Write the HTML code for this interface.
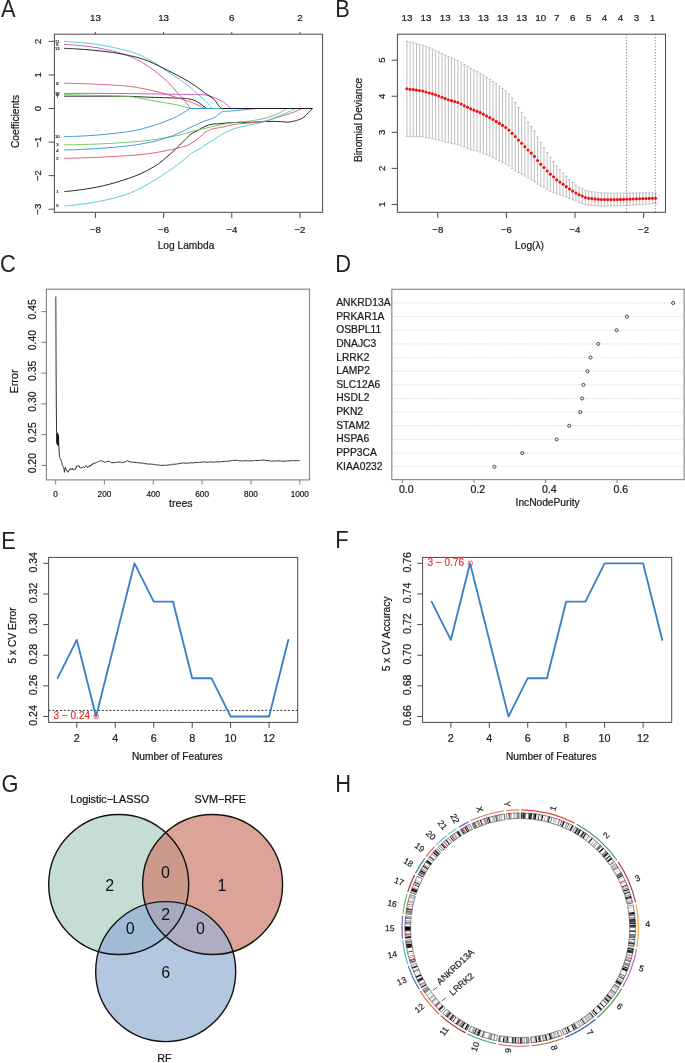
<!DOCTYPE html>
<html><head><meta charset="utf-8"><style>
html,body{margin:0;padding:0;background:#fff;}
svg{display:block;font-family:"Liberation Sans", sans-serif;-webkit-font-smoothing:antialiased;will-change:transform;}
</style></head><body>
<svg width="685" height="1063" viewBox="0 0 685 1063" font-family='"Liberation Sans", sans-serif'>
<rect width="685" height="1063" fill="#fff"/>
<text transform="translate(0.90,16.60) scale(0.93,1)" x="0" y="0" font-size="23.5" fill="#231f20">A</text>
<rect x="54.40" y="34.20" width="268.20" height="178.10" fill="none" stroke="#4a4a4a" stroke-width="1"/>
<line x1="95.40" y1="212.30" x2="95.40" y2="218.10" stroke="#4a4a4a" stroke-width="1"/>
<text x="95.40" y="233.30" font-size="9.6" text-anchor="middle" fill="#1a1a1a" stroke="#1a1a1a" stroke-width="0.22">&#8722;8</text>
<line x1="163.60" y1="212.30" x2="163.60" y2="218.10" stroke="#4a4a4a" stroke-width="1"/>
<text x="163.60" y="233.30" font-size="9.6" text-anchor="middle" fill="#1a1a1a" stroke="#1a1a1a" stroke-width="0.22">&#8722;6</text>
<line x1="231.80" y1="212.30" x2="231.80" y2="218.10" stroke="#4a4a4a" stroke-width="1"/>
<text x="231.80" y="233.30" font-size="9.6" text-anchor="middle" fill="#1a1a1a" stroke="#1a1a1a" stroke-width="0.22">&#8722;4</text>
<line x1="300.00" y1="212.30" x2="300.00" y2="218.10" stroke="#4a4a4a" stroke-width="1"/>
<text x="300.00" y="233.30" font-size="9.6" text-anchor="middle" fill="#1a1a1a" stroke="#1a1a1a" stroke-width="0.22">&#8722;2</text>
<line x1="95.40" y1="34.20" x2="95.40" y2="32.00" stroke="#4a4a4a" stroke-width="1"/>
<text x="95.40" y="21.10" font-size="9.8" text-anchor="middle" fill="#1a1a1a" stroke="#1a1a1a" stroke-width="0.22">13</text>
<line x1="163.60" y1="34.20" x2="163.60" y2="32.00" stroke="#4a4a4a" stroke-width="1"/>
<text x="163.60" y="21.10" font-size="9.8" text-anchor="middle" fill="#1a1a1a" stroke="#1a1a1a" stroke-width="0.22">13</text>
<line x1="231.80" y1="34.20" x2="231.80" y2="32.00" stroke="#4a4a4a" stroke-width="1"/>
<text x="231.80" y="21.10" font-size="9.8" text-anchor="middle" fill="#1a1a1a" stroke="#1a1a1a" stroke-width="0.22">6</text>
<line x1="300.00" y1="34.20" x2="300.00" y2="32.00" stroke="#4a4a4a" stroke-width="1"/>
<text x="300.00" y="21.10" font-size="9.8" text-anchor="middle" fill="#1a1a1a" stroke="#1a1a1a" stroke-width="0.22">2</text>
<line x1="48.60" y1="41.36" x2="54.40" y2="41.36" stroke="#4a4a4a" stroke-width="1"/>
<text x="0.00" y="0.00" font-size="9.6" text-anchor="middle" fill="#1a1a1a" stroke="#1a1a1a" stroke-width="0.22" transform="translate(41.20,41.36) rotate(-90)">2</text>
<line x1="48.60" y1="74.93" x2="54.40" y2="74.93" stroke="#4a4a4a" stroke-width="1"/>
<text x="0.00" y="0.00" font-size="9.6" text-anchor="middle" fill="#1a1a1a" stroke="#1a1a1a" stroke-width="0.22" transform="translate(41.20,74.93) rotate(-90)">1</text>
<line x1="48.60" y1="108.50" x2="54.40" y2="108.50" stroke="#4a4a4a" stroke-width="1"/>
<text x="0.00" y="0.00" font-size="9.6" text-anchor="middle" fill="#1a1a1a" stroke="#1a1a1a" stroke-width="0.22" transform="translate(41.20,108.50) rotate(-90)">0</text>
<line x1="48.60" y1="142.07" x2="54.40" y2="142.07" stroke="#4a4a4a" stroke-width="1"/>
<text x="0.00" y="0.00" font-size="9.6" text-anchor="middle" fill="#1a1a1a" stroke="#1a1a1a" stroke-width="0.22" transform="translate(41.20,142.07) rotate(-90)">&#8722;1</text>
<line x1="48.60" y1="175.64" x2="54.40" y2="175.64" stroke="#4a4a4a" stroke-width="1"/>
<text x="0.00" y="0.00" font-size="9.6" text-anchor="middle" fill="#1a1a1a" stroke="#1a1a1a" stroke-width="0.22" transform="translate(41.20,175.64) rotate(-90)">&#8722;2</text>
<line x1="48.60" y1="209.21" x2="54.40" y2="209.21" stroke="#4a4a4a" stroke-width="1"/>
<text x="0.00" y="0.00" font-size="9.6" text-anchor="middle" fill="#1a1a1a" stroke="#1a1a1a" stroke-width="0.22" transform="translate(41.20,209.21) rotate(-90)">&#8722;3</text>
<text x="0.00" y="0.00" font-size="10.2" text-anchor="middle" fill="#1a1a1a" stroke="#1a1a1a" stroke-width="0.22" transform="translate(19.00,121.50) rotate(-90)">Coefficients</text>
<text x="186.00" y="248.90" font-size="10.2" text-anchor="middle" fill="#1a1a1a" stroke="#1a1a1a" stroke-width="0.22">Log Lambda</text>
<g fill="none" stroke-width="0.9">
<path d="M64.30,191.60 C65.65,191.47 68.98,191.20 72.40,190.80 C75.82,190.40 80.67,189.82 84.80,189.20 C88.93,188.58 93.07,187.93 97.20,187.10 C101.33,186.27 105.47,185.30 109.60,184.20 C113.73,183.10 117.87,181.82 122.00,180.50 C126.13,179.18 130.57,177.78 134.40,176.30 C138.23,174.82 141.15,173.57 145.00,171.60 C148.85,169.63 153.95,166.85 157.50,164.50 C161.05,162.15 163.38,159.98 166.30,157.50 C169.22,155.02 172.08,152.37 175.00,149.60 C177.92,146.83 181.72,142.97 183.80,140.90 C185.88,138.83 186.22,138.42 187.50,137.20 C188.78,135.98 190.03,134.60 191.50,133.60 C192.97,132.60 194.05,132.40 196.30,131.20 C198.55,130.00 202.38,127.57 205.00,126.40 C207.62,125.23 209.80,124.63 212.00,124.20 C214.20,123.77 215.20,124.05 218.20,123.80 C221.20,123.55 226.80,122.93 230.00,122.70 C233.20,122.47 233.00,122.50 237.40,122.40 C241.80,122.30 251.65,122.25 256.40,122.10 C261.15,121.95 262.73,121.62 265.90,121.50 C269.07,121.38 272.23,121.33 275.40,121.40 C278.57,121.47 282.68,121.78 284.90,121.90 C287.12,122.02 286.78,122.33 288.70,122.10 C290.62,121.87 293.87,121.33 296.40,120.50 C298.93,119.67 301.23,119.10 303.90,117.10 C306.57,115.10 310.98,109.93 312.40,108.50 L312.5,108.5" stroke="#111111"/>
<path d="M64.00,158.40 C66.50,158.33 73.33,158.18 79.00,158.00 C84.67,157.82 91.68,157.58 98.00,157.30 C104.32,157.02 112.40,156.55 116.90,156.30 C121.40,156.05 121.15,156.07 125.00,155.80 C128.85,155.53 134.58,155.28 140.00,154.70 C145.42,154.12 151.67,153.28 157.50,152.30 C163.33,151.32 170.62,149.75 175.00,148.80 C179.38,147.85 181.63,147.22 183.80,146.60 C185.97,145.98 186.20,146.00 188.00,145.10 C189.80,144.20 192.60,142.58 194.60,141.20 C196.60,139.82 198.27,138.25 200.00,136.80 C201.73,135.35 203.43,133.63 205.00,132.50 C206.57,131.37 207.93,130.65 209.40,130.00 C210.87,129.35 211.60,129.08 213.80,128.60 C216.00,128.12 219.90,127.65 222.60,127.10 C225.30,126.55 227.53,125.82 230.00,125.30 C232.47,124.78 234.58,124.35 237.40,124.00 C240.22,123.65 243.73,123.50 246.90,123.20 C250.07,122.90 253.23,122.58 256.40,122.20 C259.57,121.82 262.73,121.60 265.90,120.90 C269.07,120.20 272.23,118.95 275.40,118.00 C278.57,117.05 281.73,116.23 284.90,115.20 C288.07,114.17 291.55,112.92 294.40,111.80 C297.25,110.68 300.73,109.05 302.00,108.50 L312.5,108.5" stroke="#DC5468"/>
<path d="M64.00,144.90 C66.50,144.85 73.33,144.75 79.00,144.60 C84.67,144.45 91.68,144.27 98.00,144.00 C104.32,143.73 112.40,143.27 116.90,143.00 C121.40,142.73 121.57,142.65 125.00,142.40 C128.43,142.15 132.50,141.98 137.50,141.50 C142.50,141.02 149.15,140.35 155.00,139.50 C160.85,138.65 168.43,137.17 172.60,136.40 C176.77,135.63 177.52,135.53 180.00,134.90 C182.48,134.27 184.78,133.37 187.50,132.60 C190.22,131.83 193.38,131.00 196.30,130.30 C199.22,129.60 202.08,129.08 205.00,128.40 C207.92,127.72 210.87,126.85 213.80,126.20 C216.73,125.55 219.90,125.02 222.60,124.50 C225.30,123.98 225.95,123.62 230.00,123.10 C234.05,122.58 242.50,121.92 246.90,121.40 C251.30,120.88 253.23,120.57 256.40,120.00 C259.57,119.43 262.73,118.87 265.90,118.00 C269.07,117.13 272.72,115.88 275.40,114.80 C278.08,113.72 280.10,112.55 282.00,111.50 C283.90,110.45 286.00,109.00 286.80,108.50 L312.5,108.5" stroke="#66C456"/>
<path d="M64.00,150.00 C66.50,149.92 73.33,149.75 79.00,149.50 C84.67,149.25 91.68,148.92 98.00,148.50 C104.32,148.08 112.40,147.40 116.90,147.00 C121.40,146.60 121.57,146.50 125.00,146.10 C128.43,145.70 132.50,145.42 137.50,144.60 C142.50,143.78 149.58,142.53 155.00,141.20 C160.42,139.87 166.03,137.93 170.00,136.60 C173.97,135.27 175.88,134.50 178.80,133.20 C181.72,131.90 184.58,130.22 187.50,128.80 C190.42,127.38 193.38,126.02 196.30,124.70 C199.22,123.38 202.08,122.03 205.00,120.90 C207.92,119.77 211.17,119.28 213.80,117.90 C216.43,116.52 219.05,113.70 220.80,112.60 C222.55,111.50 222.77,111.55 224.30,111.30 C225.83,111.05 227.82,111.25 230.00,111.10 C232.18,110.95 234.58,110.67 237.40,110.40 C240.22,110.13 243.73,109.82 246.90,109.50 C250.07,109.18 254.82,108.67 256.40,108.50 L312.5,108.5" stroke="#3190DE"/>
<path d="M64.30,205.90 C65.65,205.80 68.98,205.67 72.40,205.30 C75.82,204.93 80.67,204.28 84.80,203.70 C88.93,203.12 91.75,202.88 97.20,201.80 C102.65,200.72 111.20,199.02 117.50,197.20 C123.80,195.38 129.15,193.53 135.00,190.90 C140.85,188.27 146.77,184.87 152.60,181.40 C158.43,177.93 165.27,173.33 170.00,170.10 C174.73,166.87 178.07,164.25 181.00,162.00 C183.93,159.75 185.85,158.07 187.60,156.60 C189.35,155.13 189.43,154.53 191.50,153.20 C193.57,151.87 197.75,149.97 200.00,148.60 C202.25,147.23 202.70,146.50 205.00,145.00 C207.30,143.50 210.87,141.47 213.80,139.60 C216.73,137.73 219.90,135.33 222.60,133.80 C225.30,132.27 227.53,131.42 230.00,130.40 C232.47,129.38 234.58,128.50 237.40,127.70 C240.22,126.90 243.73,126.27 246.90,125.60 C250.07,124.93 253.23,124.42 256.40,123.70 C259.57,122.98 262.73,122.37 265.90,121.30 C269.07,120.23 272.23,118.58 275.40,117.30 C278.57,116.02 281.73,114.97 284.90,113.60 C288.07,112.23 292.63,109.95 294.40,109.10 C296.17,108.25 295.32,108.60 295.50,108.50 L312.5,108.5" stroke="#45C8D6"/>
<path d="M64.00,44.30 C66.50,44.50 73.33,44.90 79.00,45.50 C84.67,46.10 91.68,46.80 98.00,47.90 C104.32,49.00 111.65,50.67 116.90,52.10 C122.15,53.53 125.82,55.05 129.50,56.50 C133.18,57.95 135.83,59.13 139.00,60.80 C142.17,62.47 145.33,64.37 148.50,66.50 C151.67,68.63 154.85,71.08 158.00,73.60 C161.15,76.12 164.25,78.52 167.40,81.60 C170.55,84.68 174.07,88.95 176.90,92.10 C179.73,95.25 182.13,97.77 184.40,100.50 C186.67,103.23 189.48,107.17 190.50,108.50 L312.5,108.5" stroke="#C24EBA"/>
<path d="M64.00,96.20 C74.17,96.22 110.92,96.13 125.00,96.30 C139.08,96.47 139.85,96.90 148.50,97.20 C157.15,97.50 170.18,97.82 176.90,98.10 C183.62,98.38 185.37,98.27 188.80,98.90 C192.23,99.53 194.58,100.30 197.50,101.90 C200.42,103.50 204.83,107.40 206.30,108.50 L312.5,108.5" stroke="#111111"/>
<path d="M64.00,83.20 C68.08,83.32 79.68,83.55 88.50,83.90 C97.32,84.25 110.07,84.88 116.90,85.30 C123.73,85.72 125.82,85.98 129.50,86.40 C133.18,86.82 135.83,87.25 139.00,87.80 C142.17,88.35 145.33,89.02 148.50,89.70 C151.67,90.38 154.85,91.10 158.00,91.90 C161.15,92.70 164.25,93.55 167.40,94.50 C170.55,95.45 173.33,96.45 176.90,97.60 C180.47,98.75 185.37,100.18 188.80,101.40 C192.23,102.62 194.88,103.72 197.50,104.90 C200.12,106.08 203.33,107.90 204.50,108.50 L312.5,108.5" stroke="#DC5468"/>
<path d="M64.00,94.50 C74.17,94.82 112.50,95.78 125.00,96.40 C137.50,97.02 133.50,97.33 139.00,98.20 C144.50,99.07 151.68,100.48 158.00,101.60 C164.32,102.72 171.48,103.75 176.90,104.90 C182.32,106.05 188.23,107.90 190.50,108.50 L312.5,108.5" stroke="#66C456"/>
<path d="M64.00,136.60 C66.50,136.53 73.33,136.47 79.00,136.20 C84.67,135.93 91.68,135.52 98.00,135.00 C104.32,134.48 112.40,133.58 116.90,133.10 C121.40,132.62 121.57,132.63 125.00,132.10 C128.43,131.57 132.50,131.07 137.50,129.90 C142.50,128.73 149.15,127.00 155.00,125.10 C160.85,123.20 168.63,120.13 172.60,118.50 C176.57,116.87 176.68,116.45 178.80,115.30 C180.92,114.15 183.50,112.73 185.30,111.60 C187.10,110.47 188.88,109.02 189.60,108.50 L312.5,108.5" stroke="#3190DE"/>
<path d="M64.00,41.40 C66.50,41.58 73.33,41.98 79.00,42.50 C84.67,43.02 91.68,43.53 98.00,44.50 C104.32,45.47 111.65,47.17 116.90,48.30 C122.15,49.43 125.82,50.25 129.50,51.30 C133.18,52.35 135.83,53.27 139.00,54.60 C142.17,55.93 145.33,57.57 148.50,59.30 C151.67,61.03 154.85,62.93 158.00,65.00 C161.15,67.07 164.25,69.57 167.40,71.70 C170.55,73.83 173.33,75.40 176.90,77.80 C180.47,80.20 185.37,83.40 188.80,86.10 C192.23,88.80 194.58,91.37 197.50,94.00 C200.42,96.63 203.82,99.48 206.30,101.90 C208.78,104.32 211.38,107.40 212.40,108.50 L312.5,108.5" stroke="#45C8D6"/>
<path d="M64.00,93.40 C73.33,93.42 99.83,93.33 120.00,93.50 C140.17,93.67 172.08,94.22 185.00,94.40 C197.92,94.58 193.95,94.48 197.50,94.60 C201.05,94.72 203.38,94.55 206.30,95.10 C209.22,95.65 212.08,96.70 215.00,97.90 C217.92,99.10 221.17,100.53 223.80,102.30 C226.43,104.07 229.63,107.47 230.80,108.50 L312.5,108.5" stroke="#C24EBA"/>
<path d="M64.00,48.30 C66.50,48.43 73.33,48.70 79.00,49.10 C84.67,49.50 91.68,50.03 98.00,50.70 C104.32,51.37 111.65,52.28 116.90,53.10 C122.15,53.92 125.82,54.80 129.50,55.60 C133.18,56.40 135.83,56.97 139.00,57.90 C142.17,58.83 145.33,59.93 148.50,61.20 C151.67,62.47 154.85,63.98 158.00,65.50 C161.15,67.02 164.25,68.72 167.40,70.30 C170.55,71.88 173.33,73.10 176.90,75.00 C180.47,76.90 185.37,79.63 188.80,81.70 C192.23,83.77 194.58,85.35 197.50,87.40 C200.42,89.45 204.05,92.40 206.30,94.00 C208.55,95.60 209.55,95.92 211.00,97.00 C212.45,98.08 213.60,98.88 215.00,100.50 C216.40,102.12 218.23,105.37 219.40,106.70 C220.57,108.03 221.57,108.20 222.00,108.50 L312.5,108.5" stroke="#111111"/>
</g>
<text x="57.30" y="42.90" font-size="4.2" text-anchor="middle" fill="#333" stroke="#333" stroke-width="0.22">11</text>
<text x="57.30" y="45.80" font-size="4.2" text-anchor="middle" fill="#333" stroke="#333" stroke-width="0.22">6</text>
<text x="57.30" y="49.80" font-size="4.2" text-anchor="middle" fill="#333" stroke="#333" stroke-width="0.22">13</text>
<text x="57.30" y="84.70" font-size="4.2" text-anchor="middle" fill="#333" stroke="#333" stroke-width="0.22">8</text>
<text x="57.30" y="94.90" font-size="4.2" text-anchor="middle" fill="#333" stroke="#333" stroke-width="0.22">12</text>
<text x="57.30" y="96.00" font-size="4.2" text-anchor="middle" fill="#333" stroke="#333" stroke-width="0.22">9</text>
<text x="57.30" y="97.70" font-size="4.2" text-anchor="middle" fill="#333" stroke="#333" stroke-width="0.22">7</text>
<text x="57.30" y="138.10" font-size="4.2" text-anchor="middle" fill="#333" stroke="#333" stroke-width="0.22">10</text>
<text x="57.30" y="146.40" font-size="4.2" text-anchor="middle" fill="#333" stroke="#333" stroke-width="0.22">3</text>
<text x="57.30" y="151.50" font-size="4.2" text-anchor="middle" fill="#333" stroke="#333" stroke-width="0.22">4</text>
<text x="57.30" y="159.90" font-size="4.2" text-anchor="middle" fill="#333" stroke="#333" stroke-width="0.22">2</text>
<text x="57.30" y="193.10" font-size="4.2" text-anchor="middle" fill="#333" stroke="#333" stroke-width="0.22">1</text>
<text x="57.30" y="207.40" font-size="4.2" text-anchor="middle" fill="#333" stroke="#333" stroke-width="0.22">5</text>
<text transform="translate(335.30,16.90) scale(0.93,1)" x="0" y="0" font-size="23.5" fill="#231f20">B</text>
<g stroke="#b8b8b8" stroke-width="0.9" fill="none">
<path d="M406.90,41.30V136.30M405.60,41.30h2.6M405.60,136.30h2.6"/>
<path d="M410.09,42.12V136.44M408.79,42.12h2.6M408.79,136.44h2.6"/>
<path d="M413.28,42.77V136.41M411.98,42.77h2.6M411.98,136.41h2.6"/>
<path d="M416.46,43.66V136.62M415.16,43.66h2.6M415.16,136.62h2.6"/>
<path d="M419.65,44.42V136.71M418.35,44.42h2.6M418.35,136.71h2.6"/>
<path d="M422.84,45.25V136.86M421.54,45.25h2.6M421.54,136.86h2.6"/>
<path d="M426.03,46.48V137.42M424.73,46.48h2.6M424.73,137.42h2.6"/>
<path d="M429.22,47.81V138.07M427.92,47.81h2.6M427.92,138.07h2.6"/>
<path d="M432.40,49.06V138.63M431.10,49.06h2.6M431.10,138.63h2.6"/>
<path d="M435.59,50.42V139.31M434.29,50.42h2.6M434.29,139.31h2.6"/>
<path d="M438.78,51.92V140.12M437.48,51.92h2.6M437.48,140.12h2.6"/>
<path d="M441.97,53.54V141.05M440.67,53.54h2.6M440.67,141.05h2.6"/>
<path d="M445.16,55.17V141.99M443.86,55.17h2.6M443.86,141.99h2.6"/>
<path d="M448.34,56.62V142.75M447.04,56.62h2.6M447.04,142.75h2.6"/>
<path d="M451.53,57.91V143.35M450.23,57.91h2.6M450.23,143.35h2.6"/>
<path d="M454.72,59.19V143.95M453.42,59.19h2.6M453.42,143.95h2.6"/>
<path d="M457.91,60.48V144.55M456.61,60.48h2.6M456.61,144.55h2.6"/>
<path d="M461.10,62.41V145.73M459.80,62.41h2.6M459.80,145.73h2.6"/>
<path d="M464.28,64.41V146.98M462.98,64.41h2.6M462.98,146.98h2.6"/>
<path d="M467.47,66.40V148.23M466.17,66.40h2.6M466.17,148.23h2.6"/>
<path d="M470.66,68.32V149.40M469.36,68.32h2.6M469.36,149.40h2.6"/>
<path d="M473.85,69.95V150.29M472.55,69.95h2.6M472.55,150.29h2.6"/>
<path d="M477.04,71.58V151.17M475.74,71.58h2.6M475.74,151.17h2.6"/>
<path d="M480.22,73.21V152.05M478.92,73.21h2.6M478.92,152.05h2.6"/>
<path d="M483.41,75.16V153.26M482.11,75.16h2.6M482.11,153.26h2.6"/>
<path d="M486.60,77.27V154.62M485.30,77.27h2.6M485.30,154.62h2.6"/>
<path d="M489.79,79.30V155.98M488.49,79.30h2.6M488.49,155.98h2.6"/>
<path d="M492.98,81.47V157.47M491.68,81.47h2.6M491.68,157.47h2.6"/>
<path d="M496.16,83.76V159.07M494.86,83.76h2.6M494.86,159.07h2.6"/>
<path d="M499.35,86.09V160.72M498.05,86.09h2.6M498.05,160.72h2.6"/>
<path d="M502.54,88.42V162.38M501.24,88.42h2.6M501.24,162.38h2.6"/>
<path d="M505.73,90.92V164.19M504.43,90.92h2.6M504.43,164.19h2.6"/>
<path d="M508.92,93.89V165.98M507.62,93.89h2.6M507.62,165.98h2.6"/>
<path d="M512.10,97.91V168.48M510.80,97.91h2.6M510.80,168.48h2.6"/>
<path d="M515.29,102.53V170.63M513.99,102.53h2.6M513.99,170.63h2.6"/>
<path d="M518.48,107.44V172.50M517.18,107.44h2.6M517.18,172.50h2.6"/>
<path d="M521.67,112.31V174.22M520.37,112.31h2.6M520.37,174.22h2.6"/>
<path d="M524.86,117.32V175.99M523.56,117.32h2.6M523.56,175.99h2.6"/>
<path d="M528.04,122.01V177.87M526.74,122.01h2.6M526.74,177.87h2.6"/>
<path d="M531.23,126.45V179.81M529.93,126.45h2.6M529.93,179.81h2.6"/>
<path d="M534.42,131.20V181.63M533.12,131.20h2.6M533.12,181.63h2.6"/>
<path d="M537.61,136.91V184.05M536.31,136.91h2.6M536.31,184.05h2.6"/>
<path d="M540.80,142.49V186.06M539.50,142.49h2.6M539.50,186.06h2.6"/>
<path d="M543.98,147.57V187.40M542.68,147.57h2.6M542.68,187.40h2.6"/>
<path d="M547.17,152.62V189.30M545.87,152.62h2.6M545.87,189.30h2.6"/>
<path d="M550.36,157.22V191.10M549.06,157.22h2.6M549.06,191.10h2.6"/>
<path d="M553.55,161.45V192.30M552.25,161.45h2.6M552.25,192.30h2.6"/>
<path d="M556.74,166.01V193.67M555.44,166.01h2.6M555.44,193.67h2.6"/>
<path d="M559.92,169.53V194.65M558.62,169.53h2.6M558.62,194.65h2.6"/>
<path d="M563.11,172.86V195.76M561.81,172.86h2.6M561.81,195.76h2.6"/>
<path d="M566.30,176.34V197.01M565.00,176.34h2.6M565.00,197.01h2.6"/>
<path d="M569.49,179.50V198.49M568.19,179.50h2.6M568.19,198.49h2.6"/>
<path d="M572.68,182.44V199.76M571.38,182.44h2.6M571.38,199.76h2.6"/>
<path d="M575.86,185.06V200.82M574.56,185.06h2.6M574.56,200.82h2.6"/>
<path d="M579.05,187.10V202.42M577.75,187.10h2.6M577.75,202.42h2.6"/>
<path d="M582.24,188.59V203.45M580.94,188.59h2.6M580.94,203.45h2.6"/>
<path d="M585.43,190.34V204.75M584.13,190.34h2.6M584.13,204.75h2.6"/>
<path d="M588.62,191.22V205.21M587.32,191.22h2.6M587.32,205.21h2.6"/>
<path d="M591.80,191.68V205.52M590.50,191.68h2.6M590.50,205.52h2.6"/>
<path d="M594.99,192.06V205.75M593.69,192.06h2.6M593.69,205.75h2.6"/>
<path d="M598.18,192.44V205.98M596.88,192.44h2.6M596.88,205.98h2.6"/>
<path d="M601.37,192.81V206.20M600.07,192.81h2.6M600.07,206.20h2.6"/>
<path d="M604.56,192.98V206.22M603.26,192.98h2.6M603.26,206.22h2.6"/>
<path d="M607.74,193.05V206.15M606.44,193.05h2.6M606.44,206.15h2.6"/>
<path d="M610.93,193.13V206.07M609.63,193.13h2.6M609.63,206.07h2.6"/>
<path d="M614.12,193.20V205.99M612.82,193.20h2.6M612.82,205.99h2.6"/>
<path d="M617.31,193.17V205.85M616.01,193.17h2.6M616.01,205.85h2.6"/>
<path d="M620.50,193.15V205.70M619.20,193.15h2.6M619.20,205.70h2.6"/>
<path d="M623.68,193.12V205.55M622.38,193.12h2.6M622.38,205.55h2.6"/>
<path d="M626.87,193.07V205.38M625.57,193.07h2.6M625.57,205.38h2.6"/>
<path d="M630.06,193.00V205.19M628.76,193.00h2.6M628.76,205.19h2.6"/>
<path d="M633.25,192.94V205.00M631.95,192.94h2.6M631.95,205.00h2.6"/>
<path d="M636.44,192.89V204.79M635.14,192.89h2.6M635.14,204.79h2.6"/>
<path d="M639.62,192.87V204.56M638.32,192.87h2.6M638.32,204.56h2.6"/>
<path d="M642.81,192.85V204.32M641.51,192.85h2.6M641.51,204.32h2.6"/>
<path d="M646.00,192.85V204.10M644.70,192.85h2.6M644.70,204.10h2.6"/>
<path d="M649.19,192.86V203.90M647.89,192.86h2.6M647.89,203.90h2.6"/>
<path d="M652.38,192.88V203.70M651.08,192.88h2.6M651.08,203.70h2.6"/>
<path d="M655.56,192.90V203.50M654.26,192.90h2.6M654.26,203.50h2.6"/>
</g>
<g fill="#f01010">
<circle cx="406.90" cy="88.80" r="1.55"/>
<circle cx="410.09" cy="89.28" r="1.55"/>
<circle cx="413.28" cy="89.59" r="1.55"/>
<circle cx="416.46" cy="90.14" r="1.55"/>
<circle cx="419.65" cy="90.57" r="1.55"/>
<circle cx="422.84" cy="91.06" r="1.55"/>
<circle cx="426.03" cy="91.95" r="1.55"/>
<circle cx="429.22" cy="92.94" r="1.55"/>
<circle cx="432.40" cy="93.84" r="1.55"/>
<circle cx="435.59" cy="94.87" r="1.55"/>
<circle cx="438.78" cy="96.02" r="1.55"/>
<circle cx="441.97" cy="97.29" r="1.55"/>
<circle cx="445.16" cy="98.58" r="1.55"/>
<circle cx="448.34" cy="99.69" r="1.55"/>
<circle cx="451.53" cy="100.63" r="1.55"/>
<circle cx="454.72" cy="101.57" r="1.55"/>
<circle cx="457.91" cy="102.51" r="1.55"/>
<circle cx="461.10" cy="104.07" r="1.55"/>
<circle cx="464.28" cy="105.69" r="1.55"/>
<circle cx="467.47" cy="107.31" r="1.55"/>
<circle cx="470.66" cy="108.86" r="1.55"/>
<circle cx="473.85" cy="110.12" r="1.55"/>
<circle cx="477.04" cy="111.37" r="1.55"/>
<circle cx="480.22" cy="112.63" r="1.55"/>
<circle cx="483.41" cy="114.21" r="1.55"/>
<circle cx="486.60" cy="115.95" r="1.55"/>
<circle cx="489.79" cy="117.64" r="1.55"/>
<circle cx="492.98" cy="119.47" r="1.55"/>
<circle cx="496.16" cy="121.42" r="1.55"/>
<circle cx="499.35" cy="123.41" r="1.55"/>
<circle cx="502.54" cy="125.40" r="1.55"/>
<circle cx="505.73" cy="127.55" r="1.55"/>
<circle cx="508.92" cy="129.94" r="1.55"/>
<circle cx="512.10" cy="133.20" r="1.55"/>
<circle cx="515.29" cy="136.58" r="1.55"/>
<circle cx="518.48" cy="139.97" r="1.55"/>
<circle cx="521.67" cy="143.26" r="1.55"/>
<circle cx="524.86" cy="146.65" r="1.55"/>
<circle cx="528.04" cy="149.94" r="1.55"/>
<circle cx="531.23" cy="153.13" r="1.55"/>
<circle cx="534.42" cy="156.41" r="1.55"/>
<circle cx="537.61" cy="160.48" r="1.55"/>
<circle cx="540.80" cy="164.28" r="1.55"/>
<circle cx="543.98" cy="167.48" r="1.55"/>
<circle cx="547.17" cy="170.96" r="1.55"/>
<circle cx="550.36" cy="174.16" r="1.55"/>
<circle cx="553.55" cy="176.87" r="1.55"/>
<circle cx="556.74" cy="179.84" r="1.55"/>
<circle cx="559.92" cy="182.09" r="1.55"/>
<circle cx="563.11" cy="184.31" r="1.55"/>
<circle cx="566.30" cy="186.67" r="1.55"/>
<circle cx="569.49" cy="188.99" r="1.55"/>
<circle cx="572.68" cy="191.10" r="1.55"/>
<circle cx="575.86" cy="192.94" r="1.55"/>
<circle cx="579.05" cy="194.76" r="1.55"/>
<circle cx="582.24" cy="196.02" r="1.55"/>
<circle cx="585.43" cy="197.55" r="1.55"/>
<circle cx="588.62" cy="198.21" r="1.55"/>
<circle cx="591.80" cy="198.60" r="1.55"/>
<circle cx="594.99" cy="198.91" r="1.55"/>
<circle cx="598.18" cy="199.21" r="1.55"/>
<circle cx="601.37" cy="199.51" r="1.55"/>
<circle cx="604.56" cy="199.60" r="1.55"/>
<circle cx="607.74" cy="199.60" r="1.55"/>
<circle cx="610.93" cy="199.60" r="1.55"/>
<circle cx="614.12" cy="199.60" r="1.55"/>
<circle cx="617.31" cy="199.51" r="1.55"/>
<circle cx="620.50" cy="199.42" r="1.55"/>
<circle cx="623.68" cy="199.34" r="1.55"/>
<circle cx="626.87" cy="199.23" r="1.55"/>
<circle cx="630.06" cy="199.10" r="1.55"/>
<circle cx="633.25" cy="198.97" r="1.55"/>
<circle cx="636.44" cy="198.84" r="1.55"/>
<circle cx="639.62" cy="198.72" r="1.55"/>
<circle cx="642.81" cy="198.59" r="1.55"/>
<circle cx="646.00" cy="198.47" r="1.55"/>
<circle cx="649.19" cy="198.38" r="1.55"/>
<circle cx="652.38" cy="198.29" r="1.55"/>
<circle cx="655.56" cy="198.20" r="1.55"/>
</g>
<line x1="626.60" y1="34.20" x2="626.60" y2="212.30" stroke="#444" stroke-width="0.8" stroke-dasharray="1,2"/>
<line x1="655.30" y1="34.20" x2="655.30" y2="212.30" stroke="#444" stroke-width="0.8" stroke-dasharray="1,2"/>
<rect x="397.40" y="34.20" width="268.10" height="178.10" fill="none" stroke="#4a4a4a" stroke-width="1"/>
<line x1="437.80" y1="212.30" x2="437.80" y2="218.10" stroke="#4a4a4a" stroke-width="1"/>
<text x="437.80" y="233.30" font-size="9.6" text-anchor="middle" fill="#1a1a1a" stroke="#1a1a1a" stroke-width="0.22">&#8722;8</text>
<line x1="506.40" y1="212.30" x2="506.40" y2="218.10" stroke="#4a4a4a" stroke-width="1"/>
<text x="506.40" y="233.30" font-size="9.6" text-anchor="middle" fill="#1a1a1a" stroke="#1a1a1a" stroke-width="0.22">&#8722;6</text>
<line x1="575.00" y1="212.30" x2="575.00" y2="218.10" stroke="#4a4a4a" stroke-width="1"/>
<text x="575.00" y="233.30" font-size="9.6" text-anchor="middle" fill="#1a1a1a" stroke="#1a1a1a" stroke-width="0.22">&#8722;4</text>
<line x1="643.60" y1="212.30" x2="643.60" y2="218.10" stroke="#4a4a4a" stroke-width="1"/>
<text x="643.60" y="233.30" font-size="9.6" text-anchor="middle" fill="#1a1a1a" stroke="#1a1a1a" stroke-width="0.22">&#8722;2</text>
<line x1="391.60" y1="204.40" x2="397.40" y2="204.40" stroke="#4a4a4a" stroke-width="1"/>
<text x="0.00" y="0.00" font-size="9.6" text-anchor="middle" fill="#1a1a1a" stroke="#1a1a1a" stroke-width="0.22" transform="translate(384.60,204.40) rotate(-90)">1</text>
<line x1="391.60" y1="168.35" x2="397.40" y2="168.35" stroke="#4a4a4a" stroke-width="1"/>
<text x="0.00" y="0.00" font-size="9.6" text-anchor="middle" fill="#1a1a1a" stroke="#1a1a1a" stroke-width="0.22" transform="translate(384.60,168.35) rotate(-90)">2</text>
<line x1="391.60" y1="132.30" x2="397.40" y2="132.30" stroke="#4a4a4a" stroke-width="1"/>
<text x="0.00" y="0.00" font-size="9.6" text-anchor="middle" fill="#1a1a1a" stroke="#1a1a1a" stroke-width="0.22" transform="translate(384.60,132.30) rotate(-90)">3</text>
<line x1="391.60" y1="96.25" x2="397.40" y2="96.25" stroke="#4a4a4a" stroke-width="1"/>
<text x="0.00" y="0.00" font-size="9.6" text-anchor="middle" fill="#1a1a1a" stroke="#1a1a1a" stroke-width="0.22" transform="translate(384.60,96.25) rotate(-90)">4</text>
<line x1="391.60" y1="60.20" x2="397.40" y2="60.20" stroke="#4a4a4a" stroke-width="1"/>
<text x="0.00" y="0.00" font-size="9.6" text-anchor="middle" fill="#1a1a1a" stroke="#1a1a1a" stroke-width="0.22" transform="translate(384.60,60.20) rotate(-90)">5</text>
<text x="406.90" y="21.10" font-size="9.8" text-anchor="middle" fill="#1a1a1a" stroke="#1a1a1a" stroke-width="0.22">13</text>
<text x="426.03" y="21.10" font-size="9.8" text-anchor="middle" fill="#1a1a1a" stroke="#1a1a1a" stroke-width="0.22">13</text>
<text x="445.16" y="21.10" font-size="9.8" text-anchor="middle" fill="#1a1a1a" stroke="#1a1a1a" stroke-width="0.22">13</text>
<text x="464.28" y="21.10" font-size="9.8" text-anchor="middle" fill="#1a1a1a" stroke="#1a1a1a" stroke-width="0.22">13</text>
<text x="483.41" y="21.10" font-size="9.8" text-anchor="middle" fill="#1a1a1a" stroke="#1a1a1a" stroke-width="0.22">13</text>
<text x="502.54" y="21.10" font-size="9.8" text-anchor="middle" fill="#1a1a1a" stroke="#1a1a1a" stroke-width="0.22">13</text>
<text x="521.67" y="21.10" font-size="9.8" text-anchor="middle" fill="#1a1a1a" stroke="#1a1a1a" stroke-width="0.22">13</text>
<text x="540.80" y="21.10" font-size="9.8" text-anchor="middle" fill="#1a1a1a" stroke="#1a1a1a" stroke-width="0.22">10</text>
<text x="556.74" y="21.10" font-size="9.8" text-anchor="middle" fill="#1a1a1a" stroke="#1a1a1a" stroke-width="0.22">7</text>
<text x="572.68" y="21.10" font-size="9.8" text-anchor="middle" fill="#1a1a1a" stroke="#1a1a1a" stroke-width="0.22">6</text>
<text x="588.62" y="21.10" font-size="9.8" text-anchor="middle" fill="#1a1a1a" stroke="#1a1a1a" stroke-width="0.22">5</text>
<text x="604.56" y="21.10" font-size="9.8" text-anchor="middle" fill="#1a1a1a" stroke="#1a1a1a" stroke-width="0.22">4</text>
<text x="620.50" y="21.10" font-size="9.8" text-anchor="middle" fill="#1a1a1a" stroke="#1a1a1a" stroke-width="0.22">4</text>
<text x="636.44" y="21.10" font-size="9.8" text-anchor="middle" fill="#1a1a1a" stroke="#1a1a1a" stroke-width="0.22">3</text>
<text x="652.38" y="21.10" font-size="9.8" text-anchor="middle" fill="#1a1a1a" stroke="#1a1a1a" stroke-width="0.22">1</text>
<text x="0.00" y="0.00" font-size="10.2" text-anchor="middle" fill="#1a1a1a" stroke="#1a1a1a" stroke-width="0.22" transform="translate(361.60,119.90) rotate(-90)">Binomial Deviance</text>
<text x="529.50" y="248.90" font-size="10.2" text-anchor="middle" fill="#1a1a1a" stroke="#1a1a1a" stroke-width="0.22">Log(&#955;)</text>
<text transform="translate(0.00,271.90) scale(0.93,1)" x="0" y="0" font-size="23.5" fill="#231f20">C</text>
<rect x="46.40" y="289.20" width="263.10" height="190.70" fill="none" stroke="#8c8c8c" stroke-width="1.2"/>
<line x1="55.60" y1="479.90" x2="55.60" y2="484.60" stroke="#8c8c8c" stroke-width="1.1"/>
<text x="55.60" y="497.20" font-size="8.2" text-anchor="middle" fill="#1a1a1a" stroke="#1a1a1a" stroke-width="0.22">0</text>
<line x1="104.44" y1="479.90" x2="104.44" y2="484.60" stroke="#8c8c8c" stroke-width="1.1"/>
<text x="104.44" y="497.20" font-size="8.2" text-anchor="middle" fill="#1a1a1a" stroke="#1a1a1a" stroke-width="0.22">200</text>
<line x1="153.28" y1="479.90" x2="153.28" y2="484.60" stroke="#8c8c8c" stroke-width="1.1"/>
<text x="153.28" y="497.20" font-size="8.2" text-anchor="middle" fill="#1a1a1a" stroke="#1a1a1a" stroke-width="0.22">400</text>
<line x1="202.12" y1="479.90" x2="202.12" y2="484.60" stroke="#8c8c8c" stroke-width="1.1"/>
<text x="202.12" y="497.20" font-size="8.2" text-anchor="middle" fill="#1a1a1a" stroke="#1a1a1a" stroke-width="0.22">600</text>
<line x1="250.96" y1="479.90" x2="250.96" y2="484.60" stroke="#8c8c8c" stroke-width="1.1"/>
<text x="250.96" y="497.20" font-size="8.2" text-anchor="middle" fill="#1a1a1a" stroke="#1a1a1a" stroke-width="0.22">800</text>
<line x1="299.80" y1="479.90" x2="299.80" y2="484.60" stroke="#8c8c8c" stroke-width="1.1"/>
<text x="299.80" y="497.20" font-size="8.2" text-anchor="middle" fill="#1a1a1a" stroke="#1a1a1a" stroke-width="0.22">1000</text>
<line x1="41.20" y1="465.40" x2="46.40" y2="465.40" stroke="#8c8c8c" stroke-width="1.1"/>
<text x="0.00" y="0.00" font-size="10.4" text-anchor="middle" fill="#1a1a1a" stroke="#1a1a1a" stroke-width="0.22" transform="translate(35.60,463.20) rotate(-90)">0.20</text>
<line x1="41.20" y1="434.64" x2="46.40" y2="434.64" stroke="#8c8c8c" stroke-width="1.1"/>
<text x="0.00" y="0.00" font-size="10.4" text-anchor="middle" fill="#1a1a1a" stroke="#1a1a1a" stroke-width="0.22" transform="translate(35.60,432.44) rotate(-90)">0.25</text>
<line x1="41.20" y1="403.88" x2="46.40" y2="403.88" stroke="#8c8c8c" stroke-width="1.1"/>
<text x="0.00" y="0.00" font-size="10.4" text-anchor="middle" fill="#1a1a1a" stroke="#1a1a1a" stroke-width="0.22" transform="translate(35.60,401.68) rotate(-90)">0.30</text>
<line x1="41.20" y1="373.12" x2="46.40" y2="373.12" stroke="#8c8c8c" stroke-width="1.1"/>
<text x="0.00" y="0.00" font-size="10.4" text-anchor="middle" fill="#1a1a1a" stroke="#1a1a1a" stroke-width="0.22" transform="translate(35.60,370.92) rotate(-90)">0.35</text>
<line x1="41.20" y1="342.36" x2="46.40" y2="342.36" stroke="#8c8c8c" stroke-width="1.1"/>
<text x="0.00" y="0.00" font-size="10.4" text-anchor="middle" fill="#1a1a1a" stroke="#1a1a1a" stroke-width="0.22" transform="translate(35.60,340.16) rotate(-90)">0.40</text>
<line x1="41.20" y1="311.60" x2="46.40" y2="311.60" stroke="#8c8c8c" stroke-width="1.1"/>
<text x="0.00" y="0.00" font-size="10.4" text-anchor="middle" fill="#1a1a1a" stroke="#1a1a1a" stroke-width="0.22" transform="translate(35.60,309.40) rotate(-90)">0.45</text>
<text x="0.00" y="0.00" font-size="10.8" text-anchor="middle" fill="#1a1a1a" stroke="#1a1a1a" stroke-width="0.22" transform="translate(18.00,381.50) rotate(-90)">Error</text>
<text x="180.80" y="506.60" font-size="10.6" text-anchor="middle" fill="#1a1a1a" stroke="#1a1a1a" stroke-width="0.22">trees</text>
<path d="M55.84,296.40 L56.09,366.97 L56.33,410.03 L56.58,432.43 L56.82,443.25 L57.07,433.41 L57.31,444.48 L57.55,432.79 L57.80,445.10 L58.04,434.02 L58.29,445.71 L58.53,435.87 L58.77,445.53 L59.02,449.40 L59.26,453.16 L59.51,456.91 L59.75,457.34 L60.00,457.77 L60.24,458.20 L60.48,458.63 L60.73,459.29 L60.97,459.96 L61.22,460.62 L61.46,461.28 L61.70,462.45 L61.95,463.62 L62.19,464.78 L62.44,465.19 L62.68,465.61 L62.93,466.02 L63.17,466.58 L63.41,467.15 L63.66,467.72 L63.90,468.29 L64.15,470.29 L64.39,472.29 L64.64,471.00 L64.88,469.71 L65.12,468.57 L65.37,467.43 L65.86,468.75 L66.34,470.06 L66.83,470.22 L67.32,471.81 L67.81,471.87 L68.30,471.92 L68.79,471.23 L69.28,469.42 L69.76,468.97 L70.25,468.76 L70.74,469.66 L71.23,469.67 L71.72,468.88 L72.21,467.99 L72.69,469.56 L73.18,469.95 L73.67,469.89 L74.16,469.17 L74.65,469.47 L75.14,469.49 L75.62,467.95 L76.11,468.20 L76.60,465.87 L77.09,465.59 L77.58,465.93 L78.07,466.09 L78.55,465.93 L79.04,465.56 L79.53,467.15 L80.02,467.20 L80.51,467.76 L81.00,468.27 L81.49,467.59 L81.97,467.89 L82.46,467.65 L82.95,467.19 L83.44,466.55 L83.93,467.29 L84.42,467.83 L84.90,466.81 L85.39,466.39 L85.88,466.00 L86.37,465.77 L86.86,466.40 L87.35,467.56 L87.83,467.20 L88.32,467.02 L88.81,466.26 L89.30,466.23 L89.79,466.64 L90.28,465.37 L90.76,466.17 L91.25,465.26 L91.74,464.29 L92.23,464.71 L92.72,463.74 L93.21,464.14 L93.70,463.13 L94.18,462.92 L94.67,463.20 L95.16,462.98 L95.65,463.09 L96.14,462.64 L96.63,462.43 L97.11,462.18 L97.60,461.99 L98.09,461.54 L98.58,461.34 L99.07,461.43 L99.56,461.19 L100.04,461.34 L100.53,460.88 L101.02,460.91 L101.51,460.89 L102.00,461.13 L102.49,461.54 L102.97,461.64 L103.46,461.64 L103.95,462.09 L104.44,462.01 L105.66,462.15 L106.88,461.64 L108.10,461.13 L109.32,461.34 L110.55,462.21 L111.77,462.72 L112.99,462.77 L114.21,462.36 L115.43,462.57 L116.65,462.22 L117.87,461.99 L119.09,462.06 L120.31,462.33 L121.53,462.54 L122.75,462.67 L123.98,462.16 L125.20,461.76 L126.42,461.07 L127.64,460.75 L128.86,461.47 L130.08,461.78 L131.30,462.08 L132.52,462.23 L133.74,462.22 L134.97,462.27 L136.19,462.54 L137.41,462.79 L138.63,462.77 L139.85,462.97 L141.07,463.06 L142.29,463.05 L143.51,463.36 L144.73,463.63 L145.95,463.71 L147.18,463.80 L148.40,464.23 L149.62,463.93 L150.84,464.10 L152.06,464.18 L153.28,464.33 L154.50,464.63 L155.72,464.73 L156.94,464.98 L158.16,464.82 L159.38,465.21 L160.61,465.31 L161.83,465.34 L163.05,465.42 L164.27,465.23 L165.49,465.27 L166.71,465.19 L167.93,465.02 L169.15,464.94 L170.37,464.71 L171.59,464.77 L172.82,464.23 L174.04,464.19 L175.26,464.26 L176.48,464.05 L177.70,463.84 L178.92,463.67 L180.14,463.63 L181.36,463.11 L182.58,462.92 L183.81,463.14 L185.03,463.08 L186.25,463.23 L187.47,463.17 L188.69,463.01 L189.91,463.00 L191.13,462.67 L192.35,462.94 L193.57,462.93 L194.79,462.39 L196.01,462.53 L197.24,462.64 L198.46,462.36 L199.68,462.54 L200.90,462.22 L202.12,461.96 L203.34,462.00 L204.56,462.06 L205.78,462.26 L207.00,462.19 L208.22,462.27 L209.45,461.96 L210.67,462.06 L211.89,461.92 L213.11,462.13 L214.33,462.16 L215.55,461.86 L216.77,461.78 L217.99,461.84 L219.21,461.87 L220.44,461.76 L221.66,461.62 L222.88,461.71 L224.10,461.39 L225.32,461.36 L226.54,461.41 L227.76,461.30 L228.98,461.06 L230.20,460.96 L231.42,460.63 L232.64,460.39 L233.87,460.53 L235.09,460.30 L236.31,460.31 L237.53,460.37 L238.75,460.70 L239.97,460.81 L241.19,460.85 L242.41,460.91 L243.63,460.94 L244.85,460.78 L246.08,460.68 L247.30,460.75 L248.52,460.97 L249.74,460.84 L250.96,460.70 L252.18,460.99 L253.40,460.64 L254.62,460.45 L255.84,460.45 L257.06,460.39 L258.29,460.46 L259.51,460.54 L260.73,460.18 L261.95,460.33 L263.17,460.04 L264.39,460.05 L265.61,460.46 L266.83,460.59 L268.05,460.46 L269.28,460.70 L270.50,461.11 L271.72,461.16 L272.94,461.16 L274.16,460.80 L275.38,460.86 L276.60,461.19 L277.82,460.87 L279.04,460.80 L280.26,460.97 L281.49,461.13 L282.71,461.05 L283.93,461.26 L285.15,461.33 L286.37,460.82 L287.59,460.92 L288.81,460.92 L290.03,460.66 L291.25,460.85 L292.47,460.57 L293.69,460.54 L294.92,460.78 L296.14,460.71 L297.36,460.63 L298.58,460.63 L299.80,460.56" fill="none" stroke="#1a1a1a" stroke-width="0.9"/>
<text transform="translate(335.30,271.90) scale(0.93,1)" x="0" y="0" font-size="23.5" fill="#231f20">D</text>
<line x1="391.80" y1="303.00" x2="684.20" y2="303.00" stroke="#c8c8c8" stroke-width="0.8" stroke-dasharray="1,1.5"/>
<text x="336.20" y="306.00" font-size="10.3" text-anchor="start" fill="#1a1a1a" stroke="#1a1a1a" stroke-width="0.22">ANKRD13A</text>
<circle cx="673.10" cy="303.00" r="1.55" fill="none" stroke="#222" stroke-width="0.8"/>
<line x1="391.80" y1="316.64" x2="684.20" y2="316.64" stroke="#c8c8c8" stroke-width="0.8" stroke-dasharray="1,1.5"/>
<text x="336.20" y="319.64" font-size="10.3" text-anchor="start" fill="#1a1a1a" stroke="#1a1a1a" stroke-width="0.22">PRKAR1A</text>
<circle cx="626.90" cy="316.64" r="1.55" fill="none" stroke="#222" stroke-width="0.8"/>
<line x1="391.80" y1="330.28" x2="684.20" y2="330.28" stroke="#c8c8c8" stroke-width="0.8" stroke-dasharray="1,1.5"/>
<text x="336.20" y="333.28" font-size="10.3" text-anchor="start" fill="#1a1a1a" stroke="#1a1a1a" stroke-width="0.22">OSBPL11</text>
<circle cx="616.70" cy="330.28" r="1.55" fill="none" stroke="#222" stroke-width="0.8"/>
<line x1="391.80" y1="343.92" x2="684.20" y2="343.92" stroke="#c8c8c8" stroke-width="0.8" stroke-dasharray="1,1.5"/>
<text x="336.20" y="346.92" font-size="10.3" text-anchor="start" fill="#1a1a1a" stroke="#1a1a1a" stroke-width="0.22">DNAJC3</text>
<circle cx="598.30" cy="343.92" r="1.55" fill="none" stroke="#222" stroke-width="0.8"/>
<line x1="391.80" y1="357.56" x2="684.20" y2="357.56" stroke="#c8c8c8" stroke-width="0.8" stroke-dasharray="1,1.5"/>
<text x="336.20" y="360.56" font-size="10.3" text-anchor="start" fill="#1a1a1a" stroke="#1a1a1a" stroke-width="0.22">LRRK2</text>
<circle cx="590.50" cy="357.56" r="1.55" fill="none" stroke="#222" stroke-width="0.8"/>
<line x1="391.80" y1="371.20" x2="684.20" y2="371.20" stroke="#c8c8c8" stroke-width="0.8" stroke-dasharray="1,1.5"/>
<text x="336.20" y="374.20" font-size="10.3" text-anchor="start" fill="#1a1a1a" stroke="#1a1a1a" stroke-width="0.22">LAMP2</text>
<circle cx="587.50" cy="371.20" r="1.55" fill="none" stroke="#222" stroke-width="0.8"/>
<line x1="391.80" y1="384.84" x2="684.20" y2="384.84" stroke="#c8c8c8" stroke-width="0.8" stroke-dasharray="1,1.5"/>
<text x="336.20" y="387.84" font-size="10.3" text-anchor="start" fill="#1a1a1a" stroke="#1a1a1a" stroke-width="0.22">SLC12A6</text>
<circle cx="583.40" cy="384.84" r="1.55" fill="none" stroke="#222" stroke-width="0.8"/>
<line x1="391.80" y1="398.48" x2="684.20" y2="398.48" stroke="#c8c8c8" stroke-width="0.8" stroke-dasharray="1,1.5"/>
<text x="336.20" y="401.48" font-size="10.3" text-anchor="start" fill="#1a1a1a" stroke="#1a1a1a" stroke-width="0.22">HSDL2</text>
<circle cx="582.10" cy="398.48" r="1.55" fill="none" stroke="#222" stroke-width="0.8"/>
<line x1="391.80" y1="412.12" x2="684.20" y2="412.12" stroke="#c8c8c8" stroke-width="0.8" stroke-dasharray="1,1.5"/>
<text x="336.20" y="415.12" font-size="10.3" text-anchor="start" fill="#1a1a1a" stroke="#1a1a1a" stroke-width="0.22">PKN2</text>
<circle cx="580.30" cy="412.12" r="1.55" fill="none" stroke="#222" stroke-width="0.8"/>
<line x1="391.80" y1="425.76" x2="684.20" y2="425.76" stroke="#c8c8c8" stroke-width="0.8" stroke-dasharray="1,1.5"/>
<text x="336.20" y="428.76" font-size="10.3" text-anchor="start" fill="#1a1a1a" stroke="#1a1a1a" stroke-width="0.22">STAM2</text>
<circle cx="569.20" cy="425.76" r="1.55" fill="none" stroke="#222" stroke-width="0.8"/>
<line x1="391.80" y1="439.40" x2="684.20" y2="439.40" stroke="#c8c8c8" stroke-width="0.8" stroke-dasharray="1,1.5"/>
<text x="336.20" y="442.40" font-size="10.3" text-anchor="start" fill="#1a1a1a" stroke="#1a1a1a" stroke-width="0.22">HSPA6</text>
<circle cx="556.60" cy="439.40" r="1.55" fill="none" stroke="#222" stroke-width="0.8"/>
<line x1="391.80" y1="453.04" x2="684.20" y2="453.04" stroke="#c8c8c8" stroke-width="0.8" stroke-dasharray="1,1.5"/>
<text x="336.20" y="456.04" font-size="10.3" text-anchor="start" fill="#1a1a1a" stroke="#1a1a1a" stroke-width="0.22">PPP3CA</text>
<circle cx="522.20" cy="453.04" r="1.55" fill="none" stroke="#222" stroke-width="0.8"/>
<line x1="391.80" y1="466.68" x2="684.20" y2="466.68" stroke="#c8c8c8" stroke-width="0.8" stroke-dasharray="1,1.5"/>
<text x="336.20" y="469.68" font-size="10.3" text-anchor="start" fill="#1a1a1a" stroke="#1a1a1a" stroke-width="0.22">KIAA0232</text>
<circle cx="494.40" cy="466.68" r="1.55" fill="none" stroke="#222" stroke-width="0.8"/>
<rect x="391.80" y="289.30" width="292.40" height="190.30" fill="none" stroke="#8c8c8c" stroke-width="1.2"/>
<line x1="402.50" y1="479.60" x2="402.50" y2="483.10" stroke="#8c8c8c" stroke-width="1.1"/>
<text x="406.30" y="493.20" font-size="10.6" text-anchor="middle" fill="#1a1a1a" stroke="#1a1a1a" stroke-width="0.22">0.0</text>
<line x1="474.00" y1="479.60" x2="474.00" y2="483.10" stroke="#8c8c8c" stroke-width="1.1"/>
<text x="477.80" y="493.20" font-size="10.6" text-anchor="middle" fill="#1a1a1a" stroke="#1a1a1a" stroke-width="0.22">0.2</text>
<line x1="545.50" y1="479.60" x2="545.50" y2="483.10" stroke="#8c8c8c" stroke-width="1.1"/>
<text x="549.30" y="493.20" font-size="10.6" text-anchor="middle" fill="#1a1a1a" stroke="#1a1a1a" stroke-width="0.22">0.4</text>
<line x1="617.00" y1="479.60" x2="617.00" y2="483.10" stroke="#8c8c8c" stroke-width="1.1"/>
<text x="620.80" y="493.20" font-size="10.6" text-anchor="middle" fill="#1a1a1a" stroke="#1a1a1a" stroke-width="0.22">0.6</text>
<text x="547.60" y="506.40" font-size="10.2" text-anchor="middle" fill="#1a1a1a" stroke="#1a1a1a" stroke-width="0.22">IncNodePurity</text>
<text transform="translate(1.20,548.60) scale(0.93,1)" x="0" y="0" font-size="23.5" fill="#231f20">E</text>
<rect x="48.60" y="557.40" width="249.10" height="165.00" fill="none" stroke="#4a4a4a" stroke-width="1"/>
<line x1="76.83" y1="722.40" x2="76.83" y2="727.80" stroke="#4a4a4a" stroke-width="1"/>
<text x="76.83" y="741.60" font-size="10.8" text-anchor="middle" fill="#1a1a1a" stroke="#1a1a1a" stroke-width="0.22">2</text>
<line x1="115.28" y1="722.40" x2="115.28" y2="727.80" stroke="#4a4a4a" stroke-width="1"/>
<text x="115.28" y="741.60" font-size="10.8" text-anchor="middle" fill="#1a1a1a" stroke="#1a1a1a" stroke-width="0.22">4</text>
<line x1="153.72" y1="722.40" x2="153.72" y2="727.80" stroke="#4a4a4a" stroke-width="1"/>
<text x="153.72" y="741.60" font-size="10.8" text-anchor="middle" fill="#1a1a1a" stroke="#1a1a1a" stroke-width="0.22">6</text>
<line x1="192.18" y1="722.40" x2="192.18" y2="727.80" stroke="#4a4a4a" stroke-width="1"/>
<text x="192.18" y="741.60" font-size="10.8" text-anchor="middle" fill="#1a1a1a" stroke="#1a1a1a" stroke-width="0.22">8</text>
<line x1="230.62" y1="722.40" x2="230.62" y2="727.80" stroke="#4a4a4a" stroke-width="1"/>
<text x="230.62" y="741.60" font-size="10.8" text-anchor="middle" fill="#1a1a1a" stroke="#1a1a1a" stroke-width="0.22">10</text>
<line x1="269.08" y1="722.40" x2="269.08" y2="727.80" stroke="#4a4a4a" stroke-width="1"/>
<text x="269.08" y="741.60" font-size="10.8" text-anchor="middle" fill="#1a1a1a" stroke="#1a1a1a" stroke-width="0.22">12</text>
<line x1="43.20" y1="716.50" x2="48.60" y2="716.50" stroke="#4a4a4a" stroke-width="1"/>
<text x="0.00" y="0.00" font-size="10.6" text-anchor="middle" fill="#1a1a1a" stroke="#1a1a1a" stroke-width="0.22" transform="translate(36.60,715.50) rotate(-90)">0.24</text>
<line x1="43.20" y1="685.86" x2="48.60" y2="685.86" stroke="#4a4a4a" stroke-width="1"/>
<text x="0.00" y="0.00" font-size="10.6" text-anchor="middle" fill="#1a1a1a" stroke="#1a1a1a" stroke-width="0.22" transform="translate(36.60,684.86) rotate(-90)">0.26</text>
<line x1="43.20" y1="655.22" x2="48.60" y2="655.22" stroke="#4a4a4a" stroke-width="1"/>
<text x="0.00" y="0.00" font-size="10.6" text-anchor="middle" fill="#1a1a1a" stroke="#1a1a1a" stroke-width="0.22" transform="translate(36.60,654.22) rotate(-90)">0.28</text>
<line x1="43.20" y1="624.58" x2="48.60" y2="624.58" stroke="#4a4a4a" stroke-width="1"/>
<text x="0.00" y="0.00" font-size="10.6" text-anchor="middle" fill="#1a1a1a" stroke="#1a1a1a" stroke-width="0.22" transform="translate(36.60,623.58) rotate(-90)">0.30</text>
<line x1="43.20" y1="593.94" x2="48.60" y2="593.94" stroke="#4a4a4a" stroke-width="1"/>
<text x="0.00" y="0.00" font-size="10.6" text-anchor="middle" fill="#1a1a1a" stroke="#1a1a1a" stroke-width="0.22" transform="translate(36.60,592.94) rotate(-90)">0.32</text>
<line x1="43.20" y1="563.30" x2="48.60" y2="563.30" stroke="#4a4a4a" stroke-width="1"/>
<text x="0.00" y="0.00" font-size="10.6" text-anchor="middle" fill="#1a1a1a" stroke="#1a1a1a" stroke-width="0.22" transform="translate(36.60,562.30) rotate(-90)">0.34</text>
<text x="0.00" y="0.00" font-size="10.2" text-anchor="middle" fill="#1a1a1a" stroke="#1a1a1a" stroke-width="0.22" transform="translate(16.10,635.40) rotate(-90)">5 x CV Error</text>
<text x="177.20" y="759.90" font-size="10.2" text-anchor="middle" fill="#1a1a1a" stroke="#1a1a1a" stroke-width="0.22">Number of Features</text>
<line x1="48.60" y1="710.40" x2="297.70" y2="710.40" stroke="#222" stroke-width="0.9" stroke-dasharray="2,1.8"/>
<path d="M57.60,678.20 L76.83,639.90 L96.05,716.50 L115.28,639.90 L134.50,563.30 L153.72,601.60 L172.95,601.60 L192.18,678.20 L211.40,678.20 L230.62,716.50 L249.85,716.50 L269.08,716.50 L288.30,639.90" fill="none" stroke="#3a80c8" stroke-width="1.85" stroke-linejoin="round" stroke-linecap="round"/>
<circle cx="96.10" cy="716.50" r="2.3" fill="none" stroke="#e8332b" stroke-width="0.8"/>
<text x="53.60" y="718.60" font-size="10.0" text-anchor="start" fill="#e8332b" stroke="#e8332b" stroke-width="0.22">3 &#8722; 0.24</text>
<text transform="translate(335.20,547.90) scale(0.93,1)" x="0" y="0" font-size="23.5" fill="#231f20">F</text>
<rect x="422.60" y="557.40" width="249.10" height="165.00" fill="none" stroke="#4a4a4a" stroke-width="1"/>
<line x1="450.83" y1="722.40" x2="450.83" y2="727.80" stroke="#4a4a4a" stroke-width="1"/>
<text x="450.83" y="741.60" font-size="10.8" text-anchor="middle" fill="#1a1a1a" stroke="#1a1a1a" stroke-width="0.22">2</text>
<line x1="489.28" y1="722.40" x2="489.28" y2="727.80" stroke="#4a4a4a" stroke-width="1"/>
<text x="489.28" y="741.60" font-size="10.8" text-anchor="middle" fill="#1a1a1a" stroke="#1a1a1a" stroke-width="0.22">4</text>
<line x1="527.73" y1="722.40" x2="527.73" y2="727.80" stroke="#4a4a4a" stroke-width="1"/>
<text x="527.73" y="741.60" font-size="10.8" text-anchor="middle" fill="#1a1a1a" stroke="#1a1a1a" stroke-width="0.22">6</text>
<line x1="566.18" y1="722.40" x2="566.18" y2="727.80" stroke="#4a4a4a" stroke-width="1"/>
<text x="566.18" y="741.60" font-size="10.8" text-anchor="middle" fill="#1a1a1a" stroke="#1a1a1a" stroke-width="0.22">8</text>
<line x1="604.62" y1="722.40" x2="604.62" y2="727.80" stroke="#4a4a4a" stroke-width="1"/>
<text x="604.62" y="741.60" font-size="10.8" text-anchor="middle" fill="#1a1a1a" stroke="#1a1a1a" stroke-width="0.22">10</text>
<line x1="643.08" y1="722.40" x2="643.08" y2="727.80" stroke="#4a4a4a" stroke-width="1"/>
<text x="643.08" y="741.60" font-size="10.8" text-anchor="middle" fill="#1a1a1a" stroke="#1a1a1a" stroke-width="0.22">12</text>
<line x1="417.20" y1="716.50" x2="422.60" y2="716.50" stroke="#4a4a4a" stroke-width="1"/>
<text x="0.00" y="0.00" font-size="10.6" text-anchor="middle" fill="#1a1a1a" stroke="#1a1a1a" stroke-width="0.22" transform="translate(410.60,715.50) rotate(-90)">0.66</text>
<line x1="417.20" y1="685.86" x2="422.60" y2="685.86" stroke="#4a4a4a" stroke-width="1"/>
<text x="0.00" y="0.00" font-size="10.6" text-anchor="middle" fill="#1a1a1a" stroke="#1a1a1a" stroke-width="0.22" transform="translate(410.60,684.86) rotate(-90)">0.68</text>
<line x1="417.20" y1="655.22" x2="422.60" y2="655.22" stroke="#4a4a4a" stroke-width="1"/>
<text x="0.00" y="0.00" font-size="10.6" text-anchor="middle" fill="#1a1a1a" stroke="#1a1a1a" stroke-width="0.22" transform="translate(410.60,654.22) rotate(-90)">0.70</text>
<line x1="417.20" y1="624.58" x2="422.60" y2="624.58" stroke="#4a4a4a" stroke-width="1"/>
<text x="0.00" y="0.00" font-size="10.6" text-anchor="middle" fill="#1a1a1a" stroke="#1a1a1a" stroke-width="0.22" transform="translate(410.60,623.58) rotate(-90)">0.72</text>
<line x1="417.20" y1="593.94" x2="422.60" y2="593.94" stroke="#4a4a4a" stroke-width="1"/>
<text x="0.00" y="0.00" font-size="10.6" text-anchor="middle" fill="#1a1a1a" stroke="#1a1a1a" stroke-width="0.22" transform="translate(410.60,592.94) rotate(-90)">0.74</text>
<line x1="417.20" y1="563.30" x2="422.60" y2="563.30" stroke="#4a4a4a" stroke-width="1"/>
<text x="0.00" y="0.00" font-size="10.6" text-anchor="middle" fill="#1a1a1a" stroke="#1a1a1a" stroke-width="0.22" transform="translate(410.60,562.30) rotate(-90)">0.76</text>
<text x="0.00" y="0.00" font-size="10.2" text-anchor="middle" fill="#1a1a1a" stroke="#1a1a1a" stroke-width="0.22" transform="translate(390.10,633.90) rotate(-90)">5 x CV Accuracy</text>
<text x="551.20" y="759.90" font-size="10.2" text-anchor="middle" fill="#1a1a1a" stroke="#1a1a1a" stroke-width="0.22">Number of Features</text>
<path d="M431.60,601.60 L450.83,639.90 L470.05,563.30 L489.28,639.90 L508.50,716.50 L527.73,678.20 L546.95,678.20 L566.18,601.60 L585.40,601.60 L604.62,563.30 L623.85,563.30 L643.08,563.30 L662.30,639.90" fill="none" stroke="#3a80c8" stroke-width="1.85" stroke-linejoin="round" stroke-linecap="round"/>
<circle cx="470.25" cy="563.30" r="2.3" fill="none" stroke="#e8332b" stroke-width="0.8"/>
<text x="427.60" y="566.20" font-size="10.0" text-anchor="start" fill="#e8332b" stroke="#e8332b" stroke-width="0.22">3 &#8722; 0.76</text>
<text transform="translate(1.40,791.90) scale(0.93,1)" x="0" y="0" font-size="23.5" fill="#231f20">G</text>
<defs><clipPath id="cL"><circle cx="118.7" cy="884.5" r="70.0"/></clipPath><clipPath id="cR"><circle cx="212.6" cy="884.5" r="70.0"/></clipPath><clipPath id="cB"><circle cx="165.7" cy="971.6" r="70.0"/></clipPath></defs>
<circle cx="118.7" cy="884.5" r="70.0" fill="#c6ddd5"/>
<circle cx="212.6" cy="884.5" r="70.0" fill="#dca398"/>
<circle cx="165.7" cy="971.6" r="70.0" fill="#b3c7e1"/>
<g clip-path="url(#cL)"><circle cx="212.6" cy="884.5" r="70.0" fill="#cc9a8a"/></g>
<g clip-path="url(#cL)"><circle cx="165.7" cy="971.6" r="70.0" fill="#a0bcd4"/></g>
<g clip-path="url(#cR)"><circle cx="165.7" cy="971.6" r="70.0" fill="#aeadc4"/></g>
<g clip-path="url(#cL)"><g clip-path="url(#cR)"><circle cx="165.7" cy="971.6" r="70.0" fill="#a6aac0"/></g></g>
<circle cx="118.7" cy="884.5" r="70.0" fill="none" stroke="#111" stroke-width="1.4"/>
<circle cx="212.6" cy="884.5" r="70.0" fill="none" stroke="#111" stroke-width="1.4"/>
<circle cx="165.7" cy="971.6" r="70.0" fill="none" stroke="#111" stroke-width="1.4"/>
<text x="109.80" y="891.10" font-size="16" text-anchor="middle" fill="#111">2</text>
<text x="165.40" y="878.40" font-size="16" text-anchor="middle" fill="#111">0</text>
<text x="221.90" y="891.10" font-size="16" text-anchor="middle" fill="#111">1</text>
<text x="165.60" y="920.10" font-size="16" text-anchor="middle" fill="#111">2</text>
<text x="130.20" y="934.40" font-size="16" text-anchor="middle" fill="#111">0</text>
<text x="200.40" y="934.40" font-size="16" text-anchor="middle" fill="#111">0</text>
<text x="165.60" y="977.60" font-size="16" text-anchor="middle" fill="#111">6</text>
<text x="109.60" y="802.80" font-size="10.8" text-anchor="middle" fill="#111" stroke="#111" stroke-width="0.22">Logistic&#8722;LASSO</text>
<text x="220.20" y="802.50" font-size="10.8" text-anchor="middle" fill="#111" stroke="#111" stroke-width="0.22">SVM&#8722;RFE</text>
<text x="164.40" y="1061.80" font-size="10.8" text-anchor="middle" fill="#111" stroke="#111" stroke-width="0.22">RF</text>
<text transform="translate(335.20,792.10) scale(0.93,1)" x="0" y="0" font-size="23.5" fill="#231f20">H</text>
<path d="M521.23,809.90 A118.2,118.2 0 0 1 574.88,823.31" fill="none" stroke="#E8463C" stroke-width="1.2"/>
<path d="M521.21,812.80 A115.3,115.3 0 0 1 522.09,812.82 L521.99,818.51 A109.6,109.6 0 0 0 521.16,818.50 Z" fill="#000000"/>
<path d="M522.09,812.82 A115.3,115.3 0 0 1 523.37,812.84 L523.21,818.54 A109.6,109.6 0 0 0 521.99,818.51 Z" fill="#7a7a7a"/>
<path d="M523.37,812.84 A115.3,115.3 0 0 1 524.25,812.87 L524.05,818.57 A109.6,109.6 0 0 0 523.21,818.54 Z" fill="#000000"/>
<path d="M524.25,812.87 A115.3,115.3 0 0 1 524.87,812.89 L524.64,818.59 A109.6,109.6 0 0 0 524.05,818.57 Z" fill="#000000"/>
<path d="M524.87,812.89 A115.3,115.3 0 0 1 525.77,812.93 L525.50,818.63 A109.6,109.6 0 0 0 524.64,818.59 Z" fill="#000000"/>
<path d="M525.77,812.93 A115.3,115.3 0 0 1 526.99,813.00 L526.65,818.69 A109.6,109.6 0 0 0 525.50,818.63 Z" fill="#ffffff"/>
<path d="M526.99,813.00 A115.3,115.3 0 0 1 527.86,813.05 L527.48,818.74 A109.6,109.6 0 0 0 526.65,818.69 Z" fill="#ffffff"/>
<path d="M527.86,813.05 A115.3,115.3 0 0 1 528.39,813.09 L527.98,818.78 A109.6,109.6 0 0 0 527.48,818.74 Z" fill="#ffffff"/>
<path d="M528.39,813.09 A115.3,115.3 0 0 1 529.41,813.17 L528.95,818.85 A109.6,109.6 0 0 0 527.98,818.78 Z" fill="#7a7a7a"/>
<path d="M529.41,813.17 A115.3,115.3 0 0 1 530.79,813.29 L530.26,818.96 A109.6,109.6 0 0 0 528.95,818.85 Z" fill="#000000"/>
<path d="M530.79,813.29 A115.3,115.3 0 0 1 531.86,813.39 L531.28,819.06 A109.6,109.6 0 0 0 530.26,818.96 Z" fill="#000000"/>
<path d="M531.86,813.39 A115.3,115.3 0 0 1 532.31,813.44 L531.71,819.11 A109.6,109.6 0 0 0 531.28,819.06 Z" fill="#000000"/>
<path d="M532.31,813.44 A115.3,115.3 0 0 1 532.80,813.49 L532.18,819.16 A109.6,109.6 0 0 0 531.71,819.11 Z" fill="#ffffff"/>
<path d="M532.80,813.49 A115.3,115.3 0 0 1 533.42,813.56 L532.77,819.22 A109.6,109.6 0 0 0 532.18,819.16 Z" fill="#d6d6d6"/>
<path d="M533.42,813.56 A115.3,115.3 0 0 1 534.44,813.68 L533.74,819.34 A109.6,109.6 0 0 0 532.77,819.22 Z" fill="#7a7a7a"/>
<path d="M534.44,813.68 A115.3,115.3 0 0 1 535.19,813.78 L534.45,819.43 A109.6,109.6 0 0 0 533.74,819.34 Z" fill="#000000"/>
<path d="M535.19,813.78 A115.3,115.3 0 0 1 536.45,813.95 L535.64,819.59 A109.6,109.6 0 0 0 534.45,819.43 Z" fill="#000000"/>
<path d="M536.45,813.95 A115.3,115.3 0 0 1 537.10,814.05 L536.27,819.68 A109.6,109.6 0 0 0 535.64,819.59 Z" fill="#b0b0b0"/>
<path d="M537.10,814.05 A115.3,115.3 0 0 1 538.02,814.19 L537.14,819.82 A109.6,109.6 0 0 0 536.27,819.68 Z" fill="#ffffff"/>
<path d="M538.02,814.19 A115.3,115.3 0 0 1 538.90,814.33 L537.97,819.95 A109.6,109.6 0 0 0 537.14,819.82 Z" fill="#d6d6d6"/>
<path d="M538.90,814.33 A115.3,115.3 0 0 1 539.72,814.46 L538.76,820.08 A109.6,109.6 0 0 0 537.97,819.95 Z" fill="#000000"/>
<path d="M539.72,814.46 A115.3,115.3 0 0 1 541.12,814.71 L540.08,820.32 A109.6,109.6 0 0 0 538.76,820.08 Z" fill="#ffffff"/>
<path d="M541.12,814.71 A115.3,115.3 0 0 1 542.23,814.92 L541.14,820.52 A109.6,109.6 0 0 0 540.08,820.32 Z" fill="#b0b0b0"/>
<path d="M542.23,814.92 A115.3,115.3 0 0 1 543.39,815.16 L542.24,820.74 A109.6,109.6 0 0 0 541.14,820.52 Z" fill="#000000"/>
<path d="M543.39,815.16 A115.3,115.3 0 0 1 544.09,815.30 L542.91,820.88 A109.6,109.6 0 0 0 542.24,820.74 Z" fill="#ffffff"/>
<path d="M544.09,815.30 A115.3,115.3 0 0 1 545.06,815.51 L543.83,821.08 A109.6,109.6 0 0 0 542.91,820.88 Z" fill="#ffffff"/>
<path d="M545.06,815.51 A115.3,115.3 0 0 1 545.87,815.69 L544.60,821.25 A109.6,109.6 0 0 0 543.83,821.08 Z" fill="#b0b0b0"/>
<path d="M545.87,815.69 A115.3,115.3 0 0 1 546.67,815.88 L545.36,821.43 A109.6,109.6 0 0 0 544.60,821.25 Z" fill="#ffffff"/>
<path d="M546.67,815.88 A115.3,115.3 0 0 1 547.90,816.18 L546.53,821.71 A109.6,109.6 0 0 0 545.36,821.43 Z" fill="#ffffff"/>
<path d="M547.90,816.18 A115.3,115.3 0 0 1 548.45,816.31 L547.06,821.84 A109.6,109.6 0 0 0 546.53,821.71 Z" fill="#ee1c24"/>
<path d="M548.45,816.31 A115.3,115.3 0 0 1 549.32,816.54 L547.88,822.05 A109.6,109.6 0 0 0 547.06,821.84 Z" fill="#7a7a7a"/>
<path d="M549.32,816.54 A115.3,115.3 0 0 1 550.14,816.76 L548.66,822.26 A109.6,109.6 0 0 0 547.88,822.05 Z" fill="#000000"/>
<path d="M550.14,816.76 A115.3,115.3 0 0 1 551.16,817.03 L549.63,822.53 A109.6,109.6 0 0 0 548.66,822.26 Z" fill="#d6d6d6"/>
<path d="M551.16,817.03 A115.3,115.3 0 0 1 551.90,817.24 L550.33,822.72 A109.6,109.6 0 0 0 549.63,822.53 Z" fill="#b0b0b0"/>
<path d="M551.90,817.24 A115.3,115.3 0 0 1 552.63,817.46 L551.03,822.93 A109.6,109.6 0 0 0 550.33,822.72 Z" fill="#7a7a7a"/>
<path d="M552.63,817.46 A115.3,115.3 0 0 1 553.77,817.79 L552.11,823.25 A109.6,109.6 0 0 0 551.03,822.93 Z" fill="#ffffff"/>
<path d="M553.77,817.79 A115.3,115.3 0 0 1 554.31,817.96 L552.62,823.41 A109.6,109.6 0 0 0 552.11,823.25 Z" fill="#ffffff"/>
<path d="M554.31,817.96 A115.3,115.3 0 0 1 554.74,818.09 L553.03,823.53 A109.6,109.6 0 0 0 552.62,823.41 Z" fill="#7a7a7a"/>
<path d="M554.74,818.09 A115.3,115.3 0 0 1 555.90,818.47 L554.14,823.89 A109.6,109.6 0 0 0 553.03,823.53 Z" fill="#d6d6d6"/>
<path d="M555.90,818.47 A115.3,115.3 0 0 1 556.95,818.81 L555.13,824.22 A109.6,109.6 0 0 0 554.14,823.89 Z" fill="#d6d6d6"/>
<path d="M556.95,818.81 A115.3,115.3 0 0 1 557.78,819.10 L555.92,824.49 A109.6,109.6 0 0 0 555.13,824.22 Z" fill="#d6d6d6"/>
<path d="M557.78,819.10 A115.3,115.3 0 0 1 559.11,819.56 L557.18,824.93 A109.6,109.6 0 0 0 555.92,824.49 Z" fill="#ffffff"/>
<path d="M559.11,819.56 A115.3,115.3 0 0 1 559.91,819.85 L557.94,825.20 A109.6,109.6 0 0 0 557.18,824.93 Z" fill="#7a7a7a"/>
<path d="M559.91,819.85 A115.3,115.3 0 0 1 560.42,820.04 L558.43,825.39 A109.6,109.6 0 0 0 557.94,825.20 Z" fill="#7a7a7a"/>
<path d="M560.42,820.04 A115.3,115.3 0 0 1 561.74,820.54 L559.69,825.86 A109.6,109.6 0 0 0 558.43,825.39 Z" fill="#ffffff"/>
<path d="M561.74,820.54 A115.3,115.3 0 0 1 562.39,820.80 L560.31,826.10 A109.6,109.6 0 0 0 559.69,825.86 Z" fill="#000000"/>
<path d="M562.39,820.80 A115.3,115.3 0 0 1 563.08,821.07 L560.96,826.36 A109.6,109.6 0 0 0 560.31,826.10 Z" fill="#ffffff"/>
<path d="M563.08,821.07 A115.3,115.3 0 0 1 563.68,821.31 L561.53,826.59 A109.6,109.6 0 0 0 560.96,826.36 Z" fill="#7a7a7a"/>
<path d="M563.68,821.31 A115.3,115.3 0 0 1 564.98,821.85 L562.77,827.11 A109.6,109.6 0 0 0 561.53,826.59 Z" fill="#000000"/>
<path d="M564.98,821.85 A115.3,115.3 0 0 1 565.97,822.27 L563.70,827.50 A109.6,109.6 0 0 0 562.77,827.11 Z" fill="#ffffff"/>
<path d="M565.97,822.27 A115.3,115.3 0 0 1 566.40,822.46 L564.12,827.68 A109.6,109.6 0 0 0 563.70,827.50 Z" fill="#ffffff"/>
<path d="M566.40,822.46 A115.3,115.3 0 0 1 567.00,822.72 L564.68,827.93 A109.6,109.6 0 0 0 564.12,827.68 Z" fill="#d6d6d6"/>
<path d="M567.00,822.72 A115.3,115.3 0 0 1 567.40,822.91 L565.07,828.11 A109.6,109.6 0 0 0 564.68,827.93 Z" fill="#000000"/>
<path d="M567.40,822.91 A115.3,115.3 0 0 1 568.10,823.22 L565.73,828.40 A109.6,109.6 0 0 0 565.07,828.11 Z" fill="#b0b0b0"/>
<path d="M568.10,823.22 A115.3,115.3 0 0 1 568.84,823.56 L566.43,828.73 A109.6,109.6 0 0 0 565.73,828.40 Z" fill="#ffffff"/>
<path d="M568.84,823.56 A115.3,115.3 0 0 1 569.31,823.78 L566.89,828.94 A109.6,109.6 0 0 0 566.43,828.73 Z" fill="#000000"/>
<path d="M569.31,823.78 A115.3,115.3 0 0 1 570.27,824.24 L567.80,829.37 A109.6,109.6 0 0 0 566.89,828.94 Z" fill="#ffffff"/>
<path d="M570.27,824.24 A115.3,115.3 0 0 1 571.20,824.69 L568.67,829.80 A109.6,109.6 0 0 0 567.80,829.37 Z" fill="#b0b0b0"/>
<path d="M571.20,824.69 A115.3,115.3 0 0 1 572.13,825.16 L569.57,830.25 A109.6,109.6 0 0 0 568.67,829.80 Z" fill="#ffffff"/>
<path d="M572.13,825.16 A115.3,115.3 0 0 1 573.36,825.79 L570.73,830.85 A109.6,109.6 0 0 0 569.57,830.25 Z" fill="#000000"/>
<path d="M573.36,825.79 A115.3,115.3 0 0 1 573.53,825.88 L570.90,830.93 A109.6,109.6 0 0 0 570.73,830.85 Z" fill="#ffffff"/>
<path d="M521.21,812.80 A115.3,115.3 0 0 1 573.53,825.88 L570.90,830.93 A109.6,109.6 0 0 0 521.16,818.50 Z" fill="none" stroke="#222" stroke-width="0.5"/>
<path d="M576.70,824.28 A118.2,118.2 0 0 1 616.96,860.22" fill="none" stroke="#3A9B5C" stroke-width="1.2"/>
<path d="M575.31,826.82 A115.3,115.3 0 0 1 576.44,827.45 L573.66,832.42 A109.6,109.6 0 0 0 572.59,831.83 Z" fill="#d6d6d6"/>
<path d="M576.44,827.45 A115.3,115.3 0 0 1 577.36,827.96 L574.53,832.91 A109.6,109.6 0 0 0 573.66,832.42 Z" fill="#b0b0b0"/>
<path d="M577.36,827.96 A115.3,115.3 0 0 1 578.51,828.63 L575.62,833.55 A109.6,109.6 0 0 0 574.53,832.91 Z" fill="#000000"/>
<path d="M578.51,828.63 A115.3,115.3 0 0 1 579.09,828.98 L576.18,833.88 A109.6,109.6 0 0 0 575.62,833.55 Z" fill="#d6d6d6"/>
<path d="M579.09,828.98 A115.3,115.3 0 0 1 579.60,829.28 L576.67,834.17 A109.6,109.6 0 0 0 576.18,833.88 Z" fill="#000000"/>
<path d="M579.60,829.28 A115.3,115.3 0 0 1 580.14,829.61 L577.18,834.48 A109.6,109.6 0 0 0 576.67,834.17 Z" fill="#7a7a7a"/>
<path d="M580.14,829.61 A115.3,115.3 0 0 1 581.25,830.29 L578.23,835.13 A109.6,109.6 0 0 0 577.18,834.48 Z" fill="#000000"/>
<path d="M581.25,830.29 A115.3,115.3 0 0 1 581.69,830.56 L578.65,835.39 A109.6,109.6 0 0 0 578.23,835.13 Z" fill="#ffffff"/>
<path d="M581.69,830.56 A115.3,115.3 0 0 1 582.14,830.85 L579.08,835.66 A109.6,109.6 0 0 0 578.65,835.39 Z" fill="#ffffff"/>
<path d="M582.14,830.85 A115.3,115.3 0 0 1 582.93,831.36 L579.83,836.14 A109.6,109.6 0 0 0 579.08,835.66 Z" fill="#d6d6d6"/>
<path d="M582.93,831.36 A115.3,115.3 0 0 1 583.50,831.73 L580.37,836.49 A109.6,109.6 0 0 0 579.83,836.14 Z" fill="#7a7a7a"/>
<path d="M583.50,831.73 A115.3,115.3 0 0 1 584.07,832.11 L580.91,836.85 A109.6,109.6 0 0 0 580.37,836.49 Z" fill="#000000"/>
<path d="M584.07,832.11 A115.3,115.3 0 0 1 584.83,832.62 L581.64,837.34 A109.6,109.6 0 0 0 580.91,836.85 Z" fill="#000000"/>
<path d="M584.83,832.62 A115.3,115.3 0 0 1 585.34,832.96 L582.12,837.67 A109.6,109.6 0 0 0 581.64,837.34 Z" fill="#ffffff"/>
<path d="M585.34,832.96 A115.3,115.3 0 0 1 585.80,833.28 L582.56,837.97 A109.6,109.6 0 0 0 582.12,837.67 Z" fill="#000000"/>
<path d="M585.80,833.28 A115.3,115.3 0 0 1 586.61,833.85 L583.33,838.51 A109.6,109.6 0 0 0 582.56,837.97 Z" fill="#000000"/>
<path d="M586.61,833.85 A115.3,115.3 0 0 1 587.46,834.45 L584.13,839.08 A109.6,109.6 0 0 0 583.33,838.51 Z" fill="#d6d6d6"/>
<path d="M587.46,834.45 A115.3,115.3 0 0 1 587.98,834.83 L584.63,839.44 A109.6,109.6 0 0 0 584.13,839.08 Z" fill="#d6d6d6"/>
<path d="M587.98,834.83 A115.3,115.3 0 0 1 588.93,835.52 L585.53,840.10 A109.6,109.6 0 0 0 584.63,839.44 Z" fill="#ffffff"/>
<path d="M588.93,835.52 A115.3,115.3 0 0 1 589.49,835.94 L586.06,840.50 A109.6,109.6 0 0 0 585.53,840.10 Z" fill="#7a7a7a"/>
<path d="M589.49,835.94 A115.3,115.3 0 0 1 590.03,836.35 L586.58,840.89 A109.6,109.6 0 0 0 586.06,840.50 Z" fill="#ffffff"/>
<path d="M590.03,836.35 A115.3,115.3 0 0 1 590.52,836.72 L587.04,841.24 A109.6,109.6 0 0 0 586.58,840.89 Z" fill="#b0b0b0"/>
<path d="M590.52,836.72 A115.3,115.3 0 0 1 591.27,837.31 L587.76,841.80 A109.6,109.6 0 0 0 587.04,841.24 Z" fill="#ffffff"/>
<path d="M591.27,837.31 A115.3,115.3 0 0 1 591.69,837.64 L588.15,842.11 A109.6,109.6 0 0 0 587.76,841.80 Z" fill="#ffffff"/>
<path d="M591.69,837.64 A115.3,115.3 0 0 1 592.13,837.99 L588.58,842.45 A109.6,109.6 0 0 0 588.15,842.11 Z" fill="#ee1c24"/>
<path d="M592.13,837.99 A115.3,115.3 0 0 1 592.98,838.67 L589.38,843.09 A109.6,109.6 0 0 0 588.58,842.45 Z" fill="#000000"/>
<path d="M592.98,838.67 A115.3,115.3 0 0 1 593.76,839.31 L590.12,843.70 A109.6,109.6 0 0 0 589.38,843.09 Z" fill="#ffffff"/>
<path d="M593.76,839.31 A115.3,115.3 0 0 1 594.54,839.96 L590.86,844.32 A109.6,109.6 0 0 0 590.12,843.70 Z" fill="#ffffff"/>
<path d="M594.54,839.96 A115.3,115.3 0 0 1 595.23,840.55 L591.52,844.88 A109.6,109.6 0 0 0 590.86,844.32 Z" fill="#b0b0b0"/>
<path d="M595.23,840.55 A115.3,115.3 0 0 1 596.08,841.29 L592.33,845.58 A109.6,109.6 0 0 0 591.52,844.88 Z" fill="#ffffff"/>
<path d="M596.08,841.29 A115.3,115.3 0 0 1 596.42,841.59 L592.65,845.86 A109.6,109.6 0 0 0 592.33,845.58 Z" fill="#ffffff"/>
<path d="M596.42,841.59 A115.3,115.3 0 0 1 597.10,842.19 L593.30,846.44 A109.6,109.6 0 0 0 592.65,845.86 Z" fill="#b0b0b0"/>
<path d="M597.10,842.19 A115.3,115.3 0 0 1 597.66,842.69 L593.83,846.92 A109.6,109.6 0 0 0 593.30,846.44 Z" fill="#ffffff"/>
<path d="M597.66,842.69 A115.3,115.3 0 0 1 598.04,843.04 L594.19,847.24 A109.6,109.6 0 0 0 593.83,846.92 Z" fill="#000000"/>
<path d="M598.04,843.04 A115.3,115.3 0 0 1 598.62,843.58 L594.75,847.76 A109.6,109.6 0 0 0 594.19,847.24 Z" fill="#ffffff"/>
<path d="M598.62,843.58 A115.3,115.3 0 0 1 599.59,844.48 L595.66,848.62 A109.6,109.6 0 0 0 594.75,847.76 Z" fill="#ffffff"/>
<path d="M599.59,844.48 A115.3,115.3 0 0 1 600.47,845.33 L596.50,849.42 A109.6,109.6 0 0 0 595.66,848.62 Z" fill="#b0b0b0"/>
<path d="M600.47,845.33 A115.3,115.3 0 0 1 601.03,845.87 L597.03,849.94 A109.6,109.6 0 0 0 596.50,849.42 Z" fill="#000000"/>
<path d="M601.03,845.87 A115.3,115.3 0 0 1 601.96,846.81 L597.92,850.82 A109.6,109.6 0 0 0 597.03,849.94 Z" fill="#7a7a7a"/>
<path d="M601.96,846.81 A115.3,115.3 0 0 1 602.92,847.78 L598.83,851.75 A109.6,109.6 0 0 0 597.92,850.82 Z" fill="#ffffff"/>
<path d="M602.92,847.78 A115.3,115.3 0 0 1 603.81,848.71 L599.68,852.63 A109.6,109.6 0 0 0 598.83,851.75 Z" fill="#000000"/>
<path d="M603.81,848.71 A115.3,115.3 0 0 1 604.12,849.03 L599.97,852.94 A109.6,109.6 0 0 0 599.68,852.63 Z" fill="#7a7a7a"/>
<path d="M604.12,849.03 A115.3,115.3 0 0 1 604.67,849.62 L600.50,853.50 A109.6,109.6 0 0 0 599.97,852.94 Z" fill="#ffffff"/>
<path d="M604.67,849.62 A115.3,115.3 0 0 1 605.37,850.39 L601.16,854.23 A109.6,109.6 0 0 0 600.50,853.50 Z" fill="#ffffff"/>
<path d="M605.37,850.39 A115.3,115.3 0 0 1 605.73,850.78 L601.50,854.60 A109.6,109.6 0 0 0 601.16,854.23 Z" fill="#ffffff"/>
<path d="M605.73,850.78 A115.3,115.3 0 0 1 606.67,851.83 L602.39,855.60 A109.6,109.6 0 0 0 601.50,854.60 Z" fill="#7a7a7a"/>
<path d="M606.67,851.83 A115.3,115.3 0 0 1 607.43,852.70 L603.12,856.43 A109.6,109.6 0 0 0 602.39,855.60 Z" fill="#7a7a7a"/>
<path d="M607.43,852.70 A115.3,115.3 0 0 1 608.31,853.73 L603.95,857.40 A109.6,109.6 0 0 0 603.12,856.43 Z" fill="#000000"/>
<path d="M608.31,853.73 A115.3,115.3 0 0 1 608.88,854.41 L604.49,858.05 A109.6,109.6 0 0 0 603.95,857.40 Z" fill="#7a7a7a"/>
<path d="M608.88,854.41 A115.3,115.3 0 0 1 609.68,855.38 L605.25,858.98 A109.6,109.6 0 0 0 604.49,858.05 Z" fill="#ffffff"/>
<path d="M609.68,855.38 A115.3,115.3 0 0 1 610.27,856.12 L605.82,859.68 A109.6,109.6 0 0 0 605.25,858.98 Z" fill="#000000"/>
<path d="M610.27,856.12 A115.3,115.3 0 0 1 610.56,856.48 L606.09,860.02 A109.6,109.6 0 0 0 605.82,859.68 Z" fill="#000000"/>
<path d="M610.56,856.48 A115.3,115.3 0 0 1 610.89,856.89 L606.40,860.41 A109.6,109.6 0 0 0 606.09,860.02 Z" fill="#ffffff"/>
<path d="M610.89,856.89 A115.3,115.3 0 0 1 611.29,857.42 L606.79,860.91 A109.6,109.6 0 0 0 606.40,860.41 Z" fill="#ffffff"/>
<path d="M611.29,857.42 A115.3,115.3 0 0 1 611.86,858.15 L607.33,861.61 A109.6,109.6 0 0 0 606.79,860.91 Z" fill="#000000"/>
<path d="M611.86,858.15 A115.3,115.3 0 0 1 612.51,859.02 L607.95,862.43 A109.6,109.6 0 0 0 607.33,861.61 Z" fill="#000000"/>
<path d="M612.51,859.02 A115.3,115.3 0 0 1 612.92,859.57 L608.34,862.96 A109.6,109.6 0 0 0 607.95,862.43 Z" fill="#ffffff"/>
<path d="M612.92,859.57 A115.3,115.3 0 0 1 613.40,860.21 L608.79,863.57 A109.6,109.6 0 0 0 608.34,862.96 Z" fill="#ffffff"/>
<path d="M613.40,860.21 A115.3,115.3 0 0 1 614.04,861.11 L609.40,864.42 A109.6,109.6 0 0 0 608.79,863.57 Z" fill="#d6d6d6"/>
<path d="M614.04,861.11 A115.3,115.3 0 0 1 614.59,861.88 L609.92,865.15 A109.6,109.6 0 0 0 609.40,864.42 Z" fill="#b0b0b0"/>
<path d="M614.59,861.88 A115.3,115.3 0 0 1 614.59,861.88 L609.92,865.16 A109.6,109.6 0 0 0 609.92,865.15 Z" fill="#7a7a7a"/>
<path d="M575.31,826.82 A115.3,115.3 0 0 1 614.59,861.88 L609.92,865.16 A109.6,109.6 0 0 0 572.59,831.83 Z" fill="none" stroke="#222" stroke-width="0.5"/>
<path d="M618.13,861.92 A118.2,118.2 0 0 1 635.57,902.40" fill="none" stroke="#A83A72" stroke-width="1.2"/>
<path d="M615.73,863.54 A115.3,115.3 0 0 1 616.25,864.31 L611.50,867.46 A109.6,109.6 0 0 0 611.01,866.73 Z" fill="#d6d6d6"/>
<path d="M616.25,864.31 A115.3,115.3 0 0 1 616.66,864.94 L611.90,868.07 A109.6,109.6 0 0 0 611.50,867.46 Z" fill="#d6d6d6"/>
<path d="M616.66,864.94 A115.3,115.3 0 0 1 617.01,865.47 L612.22,868.57 A109.6,109.6 0 0 0 611.90,868.07 Z" fill="#7a7a7a"/>
<path d="M617.01,865.47 A115.3,115.3 0 0 1 617.67,866.51 L612.85,869.55 A109.6,109.6 0 0 0 612.22,868.57 Z" fill="#d6d6d6"/>
<path d="M617.67,866.51 A115.3,115.3 0 0 1 618.36,867.61 L613.51,870.60 A109.6,109.6 0 0 0 612.85,869.55 Z" fill="#7a7a7a"/>
<path d="M618.36,867.61 A115.3,115.3 0 0 1 618.70,868.17 L613.83,871.13 A109.6,109.6 0 0 0 613.51,870.60 Z" fill="#b0b0b0"/>
<path d="M618.70,868.17 A115.3,115.3 0 0 1 619.03,868.72 L614.15,871.65 A109.6,109.6 0 0 0 613.83,871.13 Z" fill="#ffffff"/>
<path d="M619.03,868.72 A115.3,115.3 0 0 1 619.51,869.51 L614.60,872.41 A109.6,109.6 0 0 0 614.15,871.65 Z" fill="#ffffff"/>
<path d="M619.51,869.51 A115.3,115.3 0 0 1 620.08,870.49 L615.14,873.34 A109.6,109.6 0 0 0 614.60,872.41 Z" fill="#d6d6d6"/>
<path d="M620.08,870.49 A115.3,115.3 0 0 1 620.69,871.58 L615.73,874.37 A109.6,109.6 0 0 0 615.14,873.34 Z" fill="#ffffff"/>
<path d="M620.69,871.58 A115.3,115.3 0 0 1 621.12,872.34 L616.13,875.10 A109.6,109.6 0 0 0 615.73,874.37 Z" fill="#d6d6d6"/>
<path d="M621.12,872.34 A115.3,115.3 0 0 1 621.77,873.53 L616.75,876.23 A109.6,109.6 0 0 0 616.13,875.10 Z" fill="#7a7a7a"/>
<path d="M621.77,873.53 A115.3,115.3 0 0 1 622.15,874.24 L617.11,876.91 A109.6,109.6 0 0 0 616.75,876.23 Z" fill="#000000"/>
<path d="M622.15,874.24 A115.3,115.3 0 0 1 622.58,875.06 L617.52,877.68 A109.6,109.6 0 0 0 617.11,876.91 Z" fill="#b0b0b0"/>
<path d="M622.58,875.06 A115.3,115.3 0 0 1 623.10,876.08 L618.01,878.65 A109.6,109.6 0 0 0 617.52,877.68 Z" fill="#000000"/>
<path d="M623.10,876.08 A115.3,115.3 0 0 1 623.49,876.87 L618.39,879.40 A109.6,109.6 0 0 0 618.01,878.65 Z" fill="#ffffff"/>
<path d="M623.49,876.87 A115.3,115.3 0 0 1 624.04,877.99 L618.91,880.47 A109.6,109.6 0 0 0 618.39,879.40 Z" fill="#d6d6d6"/>
<path d="M624.04,877.99 A115.3,115.3 0 0 1 624.60,879.16 L619.44,881.58 A109.6,109.6 0 0 0 618.91,880.47 Z" fill="#ffffff"/>
<path d="M624.60,879.16 A115.3,115.3 0 0 1 625.06,880.16 L619.88,882.53 A109.6,109.6 0 0 0 619.44,881.58 Z" fill="#d6d6d6"/>
<path d="M625.06,880.16 A115.3,115.3 0 0 1 625.30,880.68 L620.10,883.02 A109.6,109.6 0 0 0 619.88,882.53 Z" fill="#ee1c24"/>
<path d="M625.30,880.68 A115.3,115.3 0 0 1 625.53,881.20 L620.32,883.51 A109.6,109.6 0 0 0 620.10,883.02 Z" fill="#ee1c24"/>
<path d="M625.53,881.20 A115.3,115.3 0 0 1 625.71,881.61 L620.50,883.91 A109.6,109.6 0 0 0 620.32,883.51 Z" fill="#ffffff"/>
<path d="M625.71,881.61 A115.3,115.3 0 0 1 626.05,882.38 L620.81,884.64 A109.6,109.6 0 0 0 620.50,883.91 Z" fill="#d6d6d6"/>
<path d="M626.05,882.38 A115.3,115.3 0 0 1 626.23,882.80 L620.99,885.04 A109.6,109.6 0 0 0 620.81,884.64 Z" fill="#d6d6d6"/>
<path d="M626.23,882.80 A115.3,115.3 0 0 1 626.49,883.42 L621.24,885.63 A109.6,109.6 0 0 0 620.99,885.04 Z" fill="#ffffff"/>
<path d="M626.49,883.42 A115.3,115.3 0 0 1 626.96,884.55 L621.68,886.70 A109.6,109.6 0 0 0 621.24,885.63 Z" fill="#ffffff"/>
<path d="M626.96,884.55 A115.3,115.3 0 0 1 627.28,885.36 L621.99,887.47 A109.6,109.6 0 0 0 621.68,886.70 Z" fill="#000000"/>
<path d="M627.28,885.36 A115.3,115.3 0 0 1 627.68,886.36 L622.37,888.43 A109.6,109.6 0 0 0 621.99,887.47 Z" fill="#b0b0b0"/>
<path d="M627.68,886.36 A115.3,115.3 0 0 1 628.17,887.65 L622.83,889.65 A109.6,109.6 0 0 0 622.37,888.43 Z" fill="#d6d6d6"/>
<path d="M628.17,887.65 A115.3,115.3 0 0 1 628.39,888.24 L623.04,890.21 A109.6,109.6 0 0 0 622.83,889.65 Z" fill="#000000"/>
<path d="M628.39,888.24 A115.3,115.3 0 0 1 628.63,888.89 L623.27,890.83 A109.6,109.6 0 0 0 623.04,890.21 Z" fill="#ffffff"/>
<path d="M628.63,888.89 A115.3,115.3 0 0 1 629.02,890.00 L623.64,891.89 A109.6,109.6 0 0 0 623.27,890.83 Z" fill="#000000"/>
<path d="M629.02,890.00 A115.3,115.3 0 0 1 629.39,891.08 L624.00,892.91 A109.6,109.6 0 0 0 623.64,891.89 Z" fill="#d6d6d6"/>
<path d="M629.39,891.08 A115.3,115.3 0 0 1 629.60,891.70 L624.20,893.50 A109.6,109.6 0 0 0 624.00,892.91 Z" fill="#b0b0b0"/>
<path d="M629.60,891.70 A115.3,115.3 0 0 1 629.91,892.62 L624.48,894.38 A109.6,109.6 0 0 0 624.20,893.50 Z" fill="#000000"/>
<path d="M629.91,892.62 A115.3,115.3 0 0 1 630.19,893.51 L624.75,895.22 A109.6,109.6 0 0 0 624.48,894.38 Z" fill="#d6d6d6"/>
<path d="M630.19,893.51 A115.3,115.3 0 0 1 630.43,894.29 L624.98,895.97 A109.6,109.6 0 0 0 624.75,895.22 Z" fill="#d6d6d6"/>
<path d="M630.43,894.29 A115.3,115.3 0 0 1 630.58,894.79 L625.13,896.44 A109.6,109.6 0 0 0 624.98,895.97 Z" fill="#7a7a7a"/>
<path d="M630.58,894.79 A115.3,115.3 0 0 1 630.75,895.34 L625.28,896.95 A109.6,109.6 0 0 0 625.13,896.44 Z" fill="#7a7a7a"/>
<path d="M630.75,895.34 A115.3,115.3 0 0 1 630.92,895.94 L625.45,897.53 A109.6,109.6 0 0 0 625.28,896.95 Z" fill="#ffffff"/>
<path d="M630.92,895.94 A115.3,115.3 0 0 1 631.15,896.72 L625.66,898.27 A109.6,109.6 0 0 0 625.45,897.53 Z" fill="#000000"/>
<path d="M631.15,896.72 A115.3,115.3 0 0 1 631.44,897.75 L625.94,899.26 A109.6,109.6 0 0 0 625.66,898.27 Z" fill="#000000"/>
<path d="M631.44,897.75 A115.3,115.3 0 0 1 631.75,898.93 L626.24,900.38 A109.6,109.6 0 0 0 625.94,899.26 Z" fill="#b0b0b0"/>
<path d="M631.75,898.93 A115.3,115.3 0 0 1 631.97,899.80 L626.45,901.20 A109.6,109.6 0 0 0 626.24,900.38 Z" fill="#d6d6d6"/>
<path d="M631.97,899.80 A115.3,115.3 0 0 1 632.10,900.32 L626.57,901.69 A109.6,109.6 0 0 0 626.45,901.20 Z" fill="#ffffff"/>
<path d="M632.10,900.32 A115.3,115.3 0 0 1 632.26,900.94 L626.72,902.29 A109.6,109.6 0 0 0 626.57,901.69 Z" fill="#7a7a7a"/>
<path d="M632.26,900.94 A115.3,115.3 0 0 1 632.58,902.31 L627.02,903.58 A109.6,109.6 0 0 0 626.72,902.29 Z" fill="#b0b0b0"/>
<path d="M632.58,902.31 A115.3,115.3 0 0 1 632.74,903.03 L627.18,904.27 A109.6,109.6 0 0 0 627.02,903.58 Z" fill="#b0b0b0"/>
<path d="M615.73,863.54 A115.3,115.3 0 0 1 632.74,903.03 L627.18,904.27 A109.6,109.6 0 0 0 611.01,866.73 Z" fill="none" stroke="#222" stroke-width="0.5"/>
<path d="M636.00,904.42 A118.2,118.2 0 0 1 636.88,946.98" fill="none" stroke="#F4A630" stroke-width="1.2"/>
<path d="M633.16,905.00 A115.3,115.3 0 0 1 633.30,905.68 L627.71,906.79 A109.6,109.6 0 0 0 627.58,906.14 Z" fill="#ffffff"/>
<path d="M633.30,905.68 A115.3,115.3 0 0 1 633.45,906.45 L627.85,907.52 A109.6,109.6 0 0 0 627.71,906.79 Z" fill="#ffffff"/>
<path d="M633.45,906.45 A115.3,115.3 0 0 1 633.54,906.91 L627.93,907.96 A109.6,109.6 0 0 0 627.85,907.52 Z" fill="#b0b0b0"/>
<path d="M633.54,906.91 A115.3,115.3 0 0 1 633.71,907.87 L628.10,908.87 A109.6,109.6 0 0 0 627.93,907.96 Z" fill="#d6d6d6"/>
<path d="M633.71,907.87 A115.3,115.3 0 0 1 633.87,908.77 L628.25,909.73 A109.6,109.6 0 0 0 628.10,908.87 Z" fill="#ffffff"/>
<path d="M633.87,908.77 A115.3,115.3 0 0 1 633.98,909.42 L628.35,910.34 A109.6,109.6 0 0 0 628.25,909.73 Z" fill="#ffffff"/>
<path d="M633.98,909.42 A115.3,115.3 0 0 1 634.11,910.26 L628.48,911.15 A109.6,109.6 0 0 0 628.35,910.34 Z" fill="#ffffff"/>
<path d="M634.11,910.26 A115.3,115.3 0 0 1 634.20,910.86 L628.57,911.72 A109.6,109.6 0 0 0 628.48,911.15 Z" fill="#b0b0b0"/>
<path d="M634.20,910.86 A115.3,115.3 0 0 1 634.37,911.96 L628.72,912.76 A109.6,109.6 0 0 0 628.57,911.72 Z" fill="#ffffff"/>
<path d="M634.37,911.96 A115.3,115.3 0 0 1 634.49,912.86 L628.84,913.61 A109.6,109.6 0 0 0 628.72,912.76 Z" fill="#000000"/>
<path d="M634.49,912.86 A115.3,115.3 0 0 1 634.66,914.17 L629.00,914.86 A109.6,109.6 0 0 0 628.84,913.61 Z" fill="#000000"/>
<path d="M634.66,914.17 A115.3,115.3 0 0 1 634.80,915.42 L629.14,916.05 A109.6,109.6 0 0 0 629.00,914.86 Z" fill="#7a7a7a"/>
<path d="M634.80,915.42 A115.3,115.3 0 0 1 634.86,915.99 L629.19,916.58 A109.6,109.6 0 0 0 629.14,916.05 Z" fill="#ee1c24"/>
<path d="M634.86,915.99 A115.3,115.3 0 0 1 634.96,916.99 L629.29,917.54 A109.6,109.6 0 0 0 629.19,916.58 Z" fill="#ffffff"/>
<path d="M634.96,916.99 A115.3,115.3 0 0 1 635.07,918.16 L629.39,918.65 A109.6,109.6 0 0 0 629.29,917.54 Z" fill="#7a7a7a"/>
<path d="M635.07,918.16 A115.3,115.3 0 0 1 635.15,919.11 L629.47,919.56 A109.6,109.6 0 0 0 629.39,918.65 Z" fill="#b0b0b0"/>
<path d="M635.15,919.11 A115.3,115.3 0 0 1 635.24,920.36 L629.55,920.75 A109.6,109.6 0 0 0 629.47,919.56 Z" fill="#000000"/>
<path d="M635.24,920.36 A115.3,115.3 0 0 1 635.31,921.43 L629.62,921.76 A109.6,109.6 0 0 0 629.55,920.75 Z" fill="#000000"/>
<path d="M635.31,921.43 A115.3,115.3 0 0 1 635.36,922.37 L629.66,922.65 A109.6,109.6 0 0 0 629.62,921.76 Z" fill="#000000"/>
<path d="M635.36,922.37 A115.3,115.3 0 0 1 635.39,923.06 L629.70,923.31 A109.6,109.6 0 0 0 629.66,922.65 Z" fill="#7a7a7a"/>
<path d="M635.39,923.06 A115.3,115.3 0 0 1 635.44,924.43 L629.74,924.61 A109.6,109.6 0 0 0 629.70,923.31 Z" fill="#000000"/>
<path d="M635.44,924.43 A115.3,115.3 0 0 1 635.46,925.07 L629.76,925.22 A109.6,109.6 0 0 0 629.74,924.61 Z" fill="#ffffff"/>
<path d="M635.46,925.07 A115.3,115.3 0 0 1 635.49,926.46 L629.79,926.54 A109.6,109.6 0 0 0 629.76,925.22 Z" fill="#000000"/>
<path d="M635.49,926.46 A115.3,115.3 0 0 1 635.50,927.17 L629.80,927.21 A109.6,109.6 0 0 0 629.79,926.54 Z" fill="#000000"/>
<path d="M635.50,927.17 A115.3,115.3 0 0 1 635.50,927.80 L629.80,927.81 A109.6,109.6 0 0 0 629.80,927.21 Z" fill="#000000"/>
<path d="M635.50,927.80 A115.3,115.3 0 0 1 635.50,928.35 L629.80,928.34 A109.6,109.6 0 0 0 629.80,927.81 Z" fill="#ffffff"/>
<path d="M635.50,928.35 A115.3,115.3 0 0 1 635.49,929.38 L629.79,929.32 A109.6,109.6 0 0 0 629.80,928.34 Z" fill="#ffffff"/>
<path d="M635.49,929.38 A115.3,115.3 0 0 1 635.48,930.35 L629.78,930.24 A109.6,109.6 0 0 0 629.79,929.32 Z" fill="#ffffff"/>
<path d="M635.48,930.35 A115.3,115.3 0 0 1 635.46,931.29 L629.76,931.13 A109.6,109.6 0 0 0 629.78,930.24 Z" fill="#7a7a7a"/>
<path d="M635.46,931.29 A115.3,115.3 0 0 1 635.42,932.26 L629.73,932.06 A109.6,109.6 0 0 0 629.76,931.13 Z" fill="#000000"/>
<path d="M635.42,932.26 A115.3,115.3 0 0 1 635.40,932.82 L629.71,932.58 A109.6,109.6 0 0 0 629.73,932.06 Z" fill="#ffffff"/>
<path d="M635.40,932.82 A115.3,115.3 0 0 1 635.35,933.93 L629.66,933.64 A109.6,109.6 0 0 0 629.71,932.58 Z" fill="#ffffff"/>
<path d="M635.35,933.93 A115.3,115.3 0 0 1 635.28,935.28 L629.59,934.93 A109.6,109.6 0 0 0 629.66,933.64 Z" fill="#7a7a7a"/>
<path d="M635.28,935.28 A115.3,115.3 0 0 1 635.22,936.12 L629.53,935.73 A109.6,109.6 0 0 0 629.59,934.93 Z" fill="#7a7a7a"/>
<path d="M635.22,936.12 A115.3,115.3 0 0 1 635.17,936.82 L629.49,936.39 A109.6,109.6 0 0 0 629.53,935.73 Z" fill="#000000"/>
<path d="M635.17,936.82 A115.3,115.3 0 0 1 635.10,937.74 L629.42,937.27 A109.6,109.6 0 0 0 629.49,936.39 Z" fill="#b0b0b0"/>
<path d="M635.10,937.74 A115.3,115.3 0 0 1 635.02,938.60 L629.34,938.08 A109.6,109.6 0 0 0 629.42,937.27 Z" fill="#000000"/>
<path d="M635.02,938.60 A115.3,115.3 0 0 1 634.93,939.55 L629.26,938.98 A109.6,109.6 0 0 0 629.34,938.08 Z" fill="#ffffff"/>
<path d="M634.93,939.55 A115.3,115.3 0 0 1 634.87,940.17 L629.20,939.58 A109.6,109.6 0 0 0 629.26,938.98 Z" fill="#000000"/>
<path d="M634.87,940.17 A115.3,115.3 0 0 1 634.82,940.64 L629.15,940.02 A109.6,109.6 0 0 0 629.20,939.58 Z" fill="#d6d6d6"/>
<path d="M634.82,940.64 A115.3,115.3 0 0 1 634.75,941.20 L629.09,940.55 A109.6,109.6 0 0 0 629.15,940.02 Z" fill="#ffffff"/>
<path d="M634.75,941.20 A115.3,115.3 0 0 1 634.70,941.66 L629.04,940.99 A109.6,109.6 0 0 0 629.09,940.55 Z" fill="#ffffff"/>
<path d="M634.70,941.66 A115.3,115.3 0 0 1 634.62,942.32 L628.96,941.62 A109.6,109.6 0 0 0 629.04,940.99 Z" fill="#b0b0b0"/>
<path d="M634.62,942.32 A115.3,115.3 0 0 1 634.52,943.07 L628.87,942.33 A109.6,109.6 0 0 0 628.96,941.62 Z" fill="#b0b0b0"/>
<path d="M634.52,943.07 A115.3,115.3 0 0 1 634.43,943.74 L628.79,942.97 A109.6,109.6 0 0 0 628.87,942.33 Z" fill="#000000"/>
<path d="M634.43,943.74 A115.3,115.3 0 0 1 634.36,944.27 L628.72,943.47 A109.6,109.6 0 0 0 628.79,942.97 Z" fill="#000000"/>
<path d="M634.36,944.27 A115.3,115.3 0 0 1 634.28,944.82 L628.64,944.00 A109.6,109.6 0 0 0 628.72,943.47 Z" fill="#000000"/>
<path d="M634.28,944.82 A115.3,115.3 0 0 1 634.12,945.86 L628.49,944.98 A109.6,109.6 0 0 0 628.64,944.00 Z" fill="#d6d6d6"/>
<path d="M634.12,945.86 A115.3,115.3 0 0 1 634.02,946.51 L628.39,945.60 A109.6,109.6 0 0 0 628.49,944.98 Z" fill="#7a7a7a"/>
<path d="M633.16,905.00 A115.3,115.3 0 0 1 634.02,946.51 L628.39,945.60 A109.6,109.6 0 0 0 627.58,906.14 Z" fill="none" stroke="#222" stroke-width="0.5"/>
<path d="M636.54,949.01 A118.2,118.2 0 0 1 622.74,986.89" fill="none" stroke="#B766C4" stroke-width="1.2"/>
<path d="M633.68,948.50 A115.3,115.3 0 0 1 633.60,948.95 L627.99,947.92 A109.6,109.6 0 0 0 628.07,947.49 Z" fill="#7a7a7a"/>
<path d="M633.60,948.95 A115.3,115.3 0 0 1 633.37,950.18 L627.77,949.08 A109.6,109.6 0 0 0 627.99,947.92 Z" fill="#000000"/>
<path d="M633.37,950.18 A115.3,115.3 0 0 1 633.25,950.76 L627.66,949.64 A109.6,109.6 0 0 0 627.77,949.08 Z" fill="#d6d6d6"/>
<path d="M633.25,950.76 A115.3,115.3 0 0 1 632.99,952.02 L627.42,950.84 A109.6,109.6 0 0 0 627.66,949.64 Z" fill="#000000"/>
<path d="M632.99,952.02 A115.3,115.3 0 0 1 632.77,953.06 L627.20,951.82 A109.6,109.6 0 0 0 627.42,950.84 Z" fill="#000000"/>
<path d="M632.77,953.06 A115.3,115.3 0 0 1 632.62,953.69 L627.07,952.43 A109.6,109.6 0 0 0 627.20,951.82 Z" fill="#000000"/>
<path d="M632.62,953.69 A115.3,115.3 0 0 1 632.39,954.70 L626.84,953.39 A109.6,109.6 0 0 0 627.07,952.43 Z" fill="#ffffff"/>
<path d="M632.39,954.70 A115.3,115.3 0 0 1 632.23,955.35 L626.70,954.00 A109.6,109.6 0 0 0 626.84,953.39 Z" fill="#b0b0b0"/>
<path d="M632.23,955.35 A115.3,115.3 0 0 1 631.91,956.63 L626.39,955.22 A109.6,109.6 0 0 0 626.70,954.00 Z" fill="#b0b0b0"/>
<path d="M631.91,956.63 A115.3,115.3 0 0 1 631.65,957.63 L626.14,956.17 A109.6,109.6 0 0 0 626.39,955.22 Z" fill="#d6d6d6"/>
<path d="M631.65,957.63 A115.3,115.3 0 0 1 631.49,958.26 L625.98,956.77 A109.6,109.6 0 0 0 626.14,956.17 Z" fill="#d6d6d6"/>
<path d="M631.49,958.26 A115.3,115.3 0 0 1 631.34,958.81 L625.84,957.29 A109.6,109.6 0 0 0 625.98,956.77 Z" fill="#ee1c24"/>
<path d="M631.34,958.81 A115.3,115.3 0 0 1 631.18,959.36 L625.70,957.81 A109.6,109.6 0 0 0 625.84,957.29 Z" fill="#ee1c24"/>
<path d="M631.18,959.36 A115.3,115.3 0 0 1 630.87,960.46 L625.39,958.86 A109.6,109.6 0 0 0 625.70,957.81 Z" fill="#d6d6d6"/>
<path d="M630.87,960.46 A115.3,115.3 0 0 1 630.63,961.25 L625.17,959.61 A109.6,109.6 0 0 0 625.39,958.86 Z" fill="#7a7a7a"/>
<path d="M630.63,961.25 A115.3,115.3 0 0 1 630.27,962.45 L624.82,960.75 A109.6,109.6 0 0 0 625.17,959.61 Z" fill="#7a7a7a"/>
<path d="M630.27,962.45 A115.3,115.3 0 0 1 629.97,963.37 L624.55,961.63 A109.6,109.6 0 0 0 624.82,960.75 Z" fill="#ffffff"/>
<path d="M629.97,963.37 A115.3,115.3 0 0 1 629.78,963.97 L624.36,962.20 A109.6,109.6 0 0 0 624.55,961.63 Z" fill="#ffffff"/>
<path d="M629.78,963.97 A115.3,115.3 0 0 1 629.61,964.48 L624.20,962.68 A109.6,109.6 0 0 0 624.36,962.20 Z" fill="#000000"/>
<path d="M629.61,964.48 A115.3,115.3 0 0 1 629.26,965.53 L623.86,963.68 A109.6,109.6 0 0 0 624.20,962.68 Z" fill="#b0b0b0"/>
<path d="M629.26,965.53 A115.3,115.3 0 0 1 629.08,966.05 L623.69,964.17 A109.6,109.6 0 0 0 623.86,963.68 Z" fill="#000000"/>
<path d="M629.08,966.05 A115.3,115.3 0 0 1 628.72,967.05 L623.36,965.12 A109.6,109.6 0 0 0 623.69,964.17 Z" fill="#b0b0b0"/>
<path d="M628.72,967.05 A115.3,115.3 0 0 1 628.40,967.92 L623.06,965.95 A109.6,109.6 0 0 0 623.36,965.12 Z" fill="#d6d6d6"/>
<path d="M628.40,967.92 A115.3,115.3 0 0 1 627.97,969.07 L622.65,967.05 A109.6,109.6 0 0 0 623.06,965.95 Z" fill="#000000"/>
<path d="M627.97,969.07 A115.3,115.3 0 0 1 627.78,969.58 L622.46,967.53 A109.6,109.6 0 0 0 622.65,967.05 Z" fill="#ffffff"/>
<path d="M627.78,969.58 A115.3,115.3 0 0 1 627.35,970.68 L622.05,968.58 A109.6,109.6 0 0 0 622.46,967.53 Z" fill="#000000"/>
<path d="M627.35,970.68 A115.3,115.3 0 0 1 627.00,971.56 L621.72,969.41 A109.6,109.6 0 0 0 622.05,968.58 Z" fill="#000000"/>
<path d="M627.00,971.56 A115.3,115.3 0 0 1 626.65,972.40 L621.39,970.21 A109.6,109.6 0 0 0 621.72,969.41 Z" fill="#d6d6d6"/>
<path d="M626.65,972.40 A115.3,115.3 0 0 1 626.41,972.97 L621.16,970.75 A109.6,109.6 0 0 0 621.39,970.21 Z" fill="#d6d6d6"/>
<path d="M626.41,972.97 A115.3,115.3 0 0 1 626.17,973.53 L620.94,971.28 A109.6,109.6 0 0 0 621.16,970.75 Z" fill="#d6d6d6"/>
<path d="M626.17,973.53 A115.3,115.3 0 0 1 625.61,974.82 L620.40,972.51 A109.6,109.6 0 0 0 620.94,971.28 Z" fill="#ffffff"/>
<path d="M625.61,974.82 A115.3,115.3 0 0 1 625.20,975.74 L620.01,973.38 A109.6,109.6 0 0 0 620.40,972.51 Z" fill="#ffffff"/>
<path d="M625.20,975.74 A115.3,115.3 0 0 1 624.63,976.98 L619.46,974.57 A109.6,109.6 0 0 0 620.01,973.38 Z" fill="#7a7a7a"/>
<path d="M624.63,976.98 A115.3,115.3 0 0 1 624.41,977.45 L619.25,975.01 A109.6,109.6 0 0 0 619.46,974.57 Z" fill="#ffffff"/>
<path d="M624.41,977.45 A115.3,115.3 0 0 1 624.08,978.13 L618.94,975.66 A109.6,109.6 0 0 0 619.25,975.01 Z" fill="#7a7a7a"/>
<path d="M624.08,978.13 A115.3,115.3 0 0 1 623.71,978.90 L618.59,976.39 A109.6,109.6 0 0 0 618.94,975.66 Z" fill="#b0b0b0"/>
<path d="M623.71,978.90 A115.3,115.3 0 0 1 623.32,979.67 L618.23,977.12 A109.6,109.6 0 0 0 618.59,976.39 Z" fill="#000000"/>
<path d="M623.32,979.67 A115.3,115.3 0 0 1 622.96,980.39 L617.88,977.80 A109.6,109.6 0 0 0 618.23,977.12 Z" fill="#ffffff"/>
<path d="M622.96,980.39 A115.3,115.3 0 0 1 622.38,981.51 L617.33,978.87 A109.6,109.6 0 0 0 617.88,977.80 Z" fill="#d6d6d6"/>
<path d="M622.38,981.51 A115.3,115.3 0 0 1 621.99,982.26 L616.96,979.58 A109.6,109.6 0 0 0 617.33,978.87 Z" fill="#b0b0b0"/>
<path d="M621.99,982.26 A115.3,115.3 0 0 1 621.44,983.28 L616.43,980.55 A109.6,109.6 0 0 0 616.96,979.58 Z" fill="#7a7a7a"/>
<path d="M621.44,983.28 A115.3,115.3 0 0 1 620.79,984.45 L615.82,981.67 A109.6,109.6 0 0 0 616.43,980.55 Z" fill="#000000"/>
<path d="M620.79,984.45 A115.3,115.3 0 0 1 620.50,984.98 L615.54,982.17 A109.6,109.6 0 0 0 615.82,981.67 Z" fill="#000000"/>
<path d="M620.50,984.98 A115.3,115.3 0 0 1 620.23,985.45 L615.28,982.61 A109.6,109.6 0 0 0 615.54,982.17 Z" fill="#b0b0b0"/>
<path d="M633.68,948.50 A115.3,115.3 0 0 1 620.23,985.45 L615.28,982.61 A109.6,109.6 0 0 0 628.07,947.49 Z" fill="none" stroke="#222" stroke-width="0.5"/>
<path d="M621.70,988.67 A118.2,118.2 0 0 1 597.12,1017.85" fill="none" stroke="#4F9E57" stroke-width="1.2"/>
<path d="M619.21,987.18 A115.3,115.3 0 0 1 618.53,988.31 L613.67,985.33 A109.6,109.6 0 0 0 614.32,984.26 Z" fill="#7a7a7a"/>
<path d="M618.53,988.31 A115.3,115.3 0 0 1 618.01,989.16 L613.17,986.14 A109.6,109.6 0 0 0 613.67,985.33 Z" fill="#d6d6d6"/>
<path d="M618.01,989.16 A115.3,115.3 0 0 1 617.51,989.95 L612.70,986.89 A109.6,109.6 0 0 0 613.17,986.14 Z" fill="#b0b0b0"/>
<path d="M617.51,989.95 A115.3,115.3 0 0 1 616.85,990.98 L612.07,987.87 A109.6,109.6 0 0 0 612.70,986.89 Z" fill="#d6d6d6"/>
<path d="M616.85,990.98 A115.3,115.3 0 0 1 616.46,991.57 L611.70,988.44 A109.6,109.6 0 0 0 612.07,987.87 Z" fill="#ffffff"/>
<path d="M616.46,991.57 A115.3,115.3 0 0 1 615.81,992.55 L611.08,989.36 A109.6,109.6 0 0 0 611.70,988.44 Z" fill="#d6d6d6"/>
<path d="M615.81,992.55 A115.3,115.3 0 0 1 615.11,993.57 L610.42,990.33 A109.6,109.6 0 0 0 611.08,989.36 Z" fill="#7a7a7a"/>
<path d="M615.11,993.57 A115.3,115.3 0 0 1 614.79,994.04 L610.11,990.78 A109.6,109.6 0 0 0 610.42,990.33 Z" fill="#b0b0b0"/>
<path d="M614.79,994.04 A115.3,115.3 0 0 1 614.04,995.10 L609.40,991.79 A109.6,109.6 0 0 0 610.11,990.78 Z" fill="#b0b0b0"/>
<path d="M614.04,995.10 A115.3,115.3 0 0 1 613.34,996.07 L608.73,992.71 A109.6,109.6 0 0 0 609.40,991.79 Z" fill="#d6d6d6"/>
<path d="M613.34,996.07 A115.3,115.3 0 0 1 612.84,996.74 L608.26,993.35 A109.6,109.6 0 0 0 608.73,992.71 Z" fill="#d6d6d6"/>
<path d="M612.84,996.74 A115.3,115.3 0 0 1 612.54,997.14 L607.98,993.73 A109.6,109.6 0 0 0 608.26,993.35 Z" fill="#b0b0b0"/>
<path d="M612.54,997.14 A115.3,115.3 0 0 1 612.10,997.73 L607.56,994.29 A109.6,109.6 0 0 0 607.98,993.73 Z" fill="#ffffff"/>
<path d="M612.10,997.73 A115.3,115.3 0 0 1 611.76,998.18 L607.23,994.72 A109.6,109.6 0 0 0 607.56,994.29 Z" fill="#ee1c24"/>
<path d="M611.76,998.18 A115.3,115.3 0 0 1 610.89,999.30 L606.41,995.78 A109.6,109.6 0 0 0 607.23,994.72 Z" fill="#000000"/>
<path d="M610.89,999.30 A115.3,115.3 0 0 1 610.59,999.68 L606.12,996.14 A109.6,109.6 0 0 0 606.41,995.78 Z" fill="#d6d6d6"/>
<path d="M610.59,999.68 A115.3,115.3 0 0 1 609.74,1000.74 L605.31,997.15 A109.6,109.6 0 0 0 606.12,996.14 Z" fill="#b0b0b0"/>
<path d="M609.74,1000.74 A115.3,115.3 0 0 1 609.25,1001.34 L604.85,997.72 A109.6,109.6 0 0 0 605.31,997.15 Z" fill="#7a7a7a"/>
<path d="M609.25,1001.34 A115.3,115.3 0 0 1 608.61,1002.11 L604.24,998.45 A109.6,109.6 0 0 0 604.85,997.72 Z" fill="#000000"/>
<path d="M608.61,1002.11 A115.3,115.3 0 0 1 608.29,1002.50 L603.93,998.82 A109.6,109.6 0 0 0 604.24,998.45 Z" fill="#000000"/>
<path d="M608.29,1002.50 A115.3,115.3 0 0 1 607.36,1003.58 L603.05,999.85 A109.6,109.6 0 0 0 603.93,998.82 Z" fill="#d6d6d6"/>
<path d="M607.36,1003.58 A115.3,115.3 0 0 1 606.62,1004.42 L602.35,1000.65 A109.6,109.6 0 0 0 603.05,999.85 Z" fill="#7a7a7a"/>
<path d="M606.62,1004.42 A115.3,115.3 0 0 1 605.69,1005.47 L601.46,1001.64 A109.6,109.6 0 0 0 602.35,1000.65 Z" fill="#ffffff"/>
<path d="M605.69,1005.47 A115.3,115.3 0 0 1 605.32,1005.88 L601.11,1002.03 A109.6,109.6 0 0 0 601.46,1001.64 Z" fill="#ffffff"/>
<path d="M605.32,1005.88 A115.3,115.3 0 0 1 604.53,1006.73 L600.36,1002.84 A109.6,109.6 0 0 0 601.11,1002.03 Z" fill="#d6d6d6"/>
<path d="M604.53,1006.73 A115.3,115.3 0 0 1 603.93,1007.37 L599.79,1003.45 A109.6,109.6 0 0 0 600.36,1002.84 Z" fill="#000000"/>
<path d="M603.93,1007.37 A115.3,115.3 0 0 1 603.60,1007.72 L599.47,1003.78 A109.6,109.6 0 0 0 599.79,1003.45 Z" fill="#d6d6d6"/>
<path d="M603.60,1007.72 A115.3,115.3 0 0 1 602.85,1008.49 L598.77,1004.52 A109.6,109.6 0 0 0 599.47,1003.78 Z" fill="#ffffff"/>
<path d="M602.85,1008.49 A115.3,115.3 0 0 1 602.48,1008.87 L598.41,1004.88 A109.6,109.6 0 0 0 598.77,1004.52 Z" fill="#d6d6d6"/>
<path d="M602.48,1008.87 A115.3,115.3 0 0 1 601.98,1009.38 L597.94,1005.36 A109.6,109.6 0 0 0 598.41,1004.88 Z" fill="#b0b0b0"/>
<path d="M601.98,1009.38 A115.3,115.3 0 0 1 601.29,1010.07 L597.28,1006.02 A109.6,109.6 0 0 0 597.94,1005.36 Z" fill="#000000"/>
<path d="M601.29,1010.07 A115.3,115.3 0 0 1 600.69,1010.66 L596.71,1006.58 A109.6,109.6 0 0 0 597.28,1006.02 Z" fill="#000000"/>
<path d="M600.69,1010.66 A115.3,115.3 0 0 1 599.97,1011.35 L596.03,1007.24 A109.6,109.6 0 0 0 596.71,1006.58 Z" fill="#ffffff"/>
<path d="M599.97,1011.35 A115.3,115.3 0 0 1 599.20,1012.08 L595.29,1007.93 A109.6,109.6 0 0 0 596.03,1007.24 Z" fill="#ffffff"/>
<path d="M599.20,1012.08 A115.3,115.3 0 0 1 598.48,1012.75 L594.61,1008.57 A109.6,109.6 0 0 0 595.29,1007.93 Z" fill="#ffffff"/>
<path d="M598.48,1012.75 A115.3,115.3 0 0 1 597.88,1013.30 L594.04,1009.09 A109.6,109.6 0 0 0 594.61,1008.57 Z" fill="#d6d6d6"/>
<path d="M597.88,1013.30 A115.3,115.3 0 0 1 597.28,1013.85 L593.47,1009.61 A109.6,109.6 0 0 0 594.04,1009.09 Z" fill="#d6d6d6"/>
<path d="M597.28,1013.85 A115.3,115.3 0 0 1 596.32,1014.70 L592.56,1010.42 A109.6,109.6 0 0 0 593.47,1009.61 Z" fill="#000000"/>
<path d="M596.32,1014.70 A115.3,115.3 0 0 1 595.54,1015.38 L591.82,1011.07 A109.6,109.6 0 0 0 592.56,1010.42 Z" fill="#ffffff"/>
<path d="M595.54,1015.38 A115.3,115.3 0 0 1 595.23,1015.64 L591.53,1011.32 A109.6,109.6 0 0 0 591.82,1011.07 Z" fill="#000000"/>
<path d="M619.21,987.18 A115.3,115.3 0 0 1 595.23,1015.64 L591.53,1011.32 A109.6,109.6 0 0 0 614.32,984.26 Z" fill="none" stroke="#222" stroke-width="0.5"/>
<path d="M595.54,1019.17 A118.2,118.2 0 0 1 565.10,1037.44" fill="none" stroke="#3A5BC0" stroke-width="1.2"/>
<path d="M593.70,1016.94 A115.3,115.3 0 0 1 593.04,1017.48 L589.44,1013.06 A109.6,109.6 0 0 0 590.06,1012.55 Z" fill="#000000"/>
<path d="M593.04,1017.48 A115.3,115.3 0 0 1 592.39,1018.00 L588.82,1013.56 A109.6,109.6 0 0 0 589.44,1013.06 Z" fill="#b0b0b0"/>
<path d="M592.39,1018.00 A115.3,115.3 0 0 1 591.77,1018.50 L588.23,1014.03 A109.6,109.6 0 0 0 588.82,1013.56 Z" fill="#b0b0b0"/>
<path d="M591.77,1018.50 A115.3,115.3 0 0 1 591.05,1019.06 L587.55,1014.56 A109.6,109.6 0 0 0 588.23,1014.03 Z" fill="#d6d6d6"/>
<path d="M591.05,1019.06 A115.3,115.3 0 0 1 590.27,1019.66 L586.81,1015.14 A109.6,109.6 0 0 0 587.55,1014.56 Z" fill="#b0b0b0"/>
<path d="M590.27,1019.66 A115.3,115.3 0 0 1 589.40,1020.32 L585.98,1015.76 A109.6,109.6 0 0 0 586.81,1015.14 Z" fill="#b0b0b0"/>
<path d="M589.40,1020.32 A115.3,115.3 0 0 1 589.03,1020.60 L585.63,1016.03 A109.6,109.6 0 0 0 585.98,1015.76 Z" fill="#d6d6d6"/>
<path d="M589.03,1020.60 A115.3,115.3 0 0 1 588.22,1021.20 L584.86,1016.60 A109.6,109.6 0 0 0 585.63,1016.03 Z" fill="#d6d6d6"/>
<path d="M588.22,1021.20 A115.3,115.3 0 0 1 587.54,1021.69 L584.21,1017.07 A109.6,109.6 0 0 0 584.86,1016.60 Z" fill="#7a7a7a"/>
<path d="M587.54,1021.69 A115.3,115.3 0 0 1 587.14,1021.98 L583.83,1017.34 A109.6,109.6 0 0 0 584.21,1017.07 Z" fill="#b0b0b0"/>
<path d="M587.14,1021.98 A115.3,115.3 0 0 1 586.18,1022.65 L582.92,1017.98 A109.6,109.6 0 0 0 583.83,1017.34 Z" fill="#ffffff"/>
<path d="M586.18,1022.65 A115.3,115.3 0 0 1 585.35,1023.23 L582.13,1018.52 A109.6,109.6 0 0 0 582.92,1017.98 Z" fill="#b0b0b0"/>
<path d="M585.35,1023.23 A115.3,115.3 0 0 1 584.93,1023.51 L581.73,1018.80 A109.6,109.6 0 0 0 582.13,1018.52 Z" fill="#d6d6d6"/>
<path d="M584.93,1023.51 A115.3,115.3 0 0 1 584.22,1023.99 L581.06,1019.25 A109.6,109.6 0 0 0 581.73,1018.80 Z" fill="#000000"/>
<path d="M584.22,1023.99 A115.3,115.3 0 0 1 583.65,1024.37 L580.51,1019.61 A109.6,109.6 0 0 0 581.06,1019.25 Z" fill="#d6d6d6"/>
<path d="M583.65,1024.37 A115.3,115.3 0 0 1 583.25,1024.63 L580.13,1019.86 A109.6,109.6 0 0 0 580.51,1019.61 Z" fill="#ffffff"/>
<path d="M583.25,1024.63 A115.3,115.3 0 0 1 582.77,1024.94 L579.68,1020.16 A109.6,109.6 0 0 0 580.13,1019.86 Z" fill="#ee1c24"/>
<path d="M582.77,1024.94 A115.3,115.3 0 0 1 582.29,1025.26 L579.22,1020.45 A109.6,109.6 0 0 0 579.68,1020.16 Z" fill="#d6d6d6"/>
<path d="M582.29,1025.26 A115.3,115.3 0 0 1 581.42,1025.81 L578.39,1020.98 A109.6,109.6 0 0 0 579.22,1020.45 Z" fill="#ffffff"/>
<path d="M581.42,1025.81 A115.3,115.3 0 0 1 581.00,1026.06 L578.00,1021.22 A109.6,109.6 0 0 0 578.39,1020.98 Z" fill="#7a7a7a"/>
<path d="M581.00,1026.06 A115.3,115.3 0 0 1 580.25,1026.53 L577.28,1021.66 A109.6,109.6 0 0 0 578.00,1021.22 Z" fill="#d6d6d6"/>
<path d="M580.25,1026.53 A115.3,115.3 0 0 1 579.15,1027.19 L576.24,1022.29 A109.6,109.6 0 0 0 577.28,1021.66 Z" fill="#b0b0b0"/>
<path d="M579.15,1027.19 A115.3,115.3 0 0 1 578.33,1027.68 L575.45,1022.75 A109.6,109.6 0 0 0 576.24,1022.29 Z" fill="#ffffff"/>
<path d="M578.33,1027.68 A115.3,115.3 0 0 1 577.64,1028.07 L574.80,1023.13 A109.6,109.6 0 0 0 575.45,1022.75 Z" fill="#ffffff"/>
<path d="M577.64,1028.07 A115.3,115.3 0 0 1 576.69,1028.61 L573.90,1023.65 A109.6,109.6 0 0 0 574.80,1023.13 Z" fill="#7a7a7a"/>
<path d="M576.69,1028.61 A115.3,115.3 0 0 1 575.79,1029.11 L573.04,1024.12 A109.6,109.6 0 0 0 573.90,1023.65 Z" fill="#000000"/>
<path d="M575.79,1029.11 A115.3,115.3 0 0 1 574.82,1029.64 L572.12,1024.62 A109.6,109.6 0 0 0 573.04,1024.12 Z" fill="#b0b0b0"/>
<path d="M574.82,1029.64 A115.3,115.3 0 0 1 573.76,1030.21 L571.11,1025.16 A109.6,109.6 0 0 0 572.12,1024.62 Z" fill="#000000"/>
<path d="M573.76,1030.21 A115.3,115.3 0 0 1 572.66,1030.78 L570.06,1025.70 A109.6,109.6 0 0 0 571.11,1025.16 Z" fill="#ffffff"/>
<path d="M572.66,1030.78 A115.3,115.3 0 0 1 571.43,1031.39 L568.90,1026.29 A109.6,109.6 0 0 0 570.06,1025.70 Z" fill="#ffffff"/>
<path d="M571.43,1031.39 A115.3,115.3 0 0 1 570.83,1031.69 L568.33,1026.57 A109.6,109.6 0 0 0 568.90,1026.29 Z" fill="#ffffff"/>
<path d="M570.83,1031.69 A115.3,115.3 0 0 1 569.99,1032.10 L567.53,1026.95 A109.6,109.6 0 0 0 568.33,1026.57 Z" fill="#b0b0b0"/>
<path d="M569.99,1032.10 A115.3,115.3 0 0 1 568.90,1032.61 L566.49,1027.44 A109.6,109.6 0 0 0 567.53,1026.95 Z" fill="#000000"/>
<path d="M568.90,1032.61 A115.3,115.3 0 0 1 567.75,1033.14 L565.40,1027.95 A109.6,109.6 0 0 0 566.49,1027.44 Z" fill="#d6d6d6"/>
<path d="M567.75,1033.14 A115.3,115.3 0 0 1 567.10,1033.43 L564.78,1028.22 A109.6,109.6 0 0 0 565.40,1027.95 Z" fill="#000000"/>
<path d="M567.10,1033.43 A115.3,115.3 0 0 1 566.07,1033.88 L563.81,1028.65 A109.6,109.6 0 0 0 564.78,1028.22 Z" fill="#d6d6d6"/>
<path d="M566.07,1033.88 A115.3,115.3 0 0 1 565.10,1034.30 L562.88,1029.05 A109.6,109.6 0 0 0 563.81,1028.65 Z" fill="#d6d6d6"/>
<path d="M565.10,1034.30 A115.3,115.3 0 0 1 564.53,1034.54 L562.34,1029.28 A109.6,109.6 0 0 0 562.88,1029.05 Z" fill="#d6d6d6"/>
<path d="M564.53,1034.54 A115.3,115.3 0 0 1 564.00,1034.76 L561.84,1029.48 A109.6,109.6 0 0 0 562.34,1029.28 Z" fill="#d6d6d6"/>
<path d="M593.70,1016.94 A115.3,115.3 0 0 1 564.00,1034.76 L561.84,1029.48 A109.6,109.6 0 0 0 590.06,1012.55 Z" fill="none" stroke="#222" stroke-width="0.5"/>
<path d="M563.19,1038.21 A118.2,118.2 0 0 1 531.41,1045.77" fill="none" stroke="#B8693C" stroke-width="1.2"/>
<path d="M562.13,1035.50 A115.3,115.3 0 0 1 560.92,1035.97 L558.91,1030.64 A109.6,109.6 0 0 0 560.06,1030.19 Z" fill="#ffffff"/>
<path d="M560.92,1035.97 A115.3,115.3 0 0 1 559.93,1036.34 L557.97,1030.99 A109.6,109.6 0 0 0 558.91,1030.64 Z" fill="#ffffff"/>
<path d="M559.93,1036.34 A115.3,115.3 0 0 1 559.27,1036.58 L557.34,1031.22 A109.6,109.6 0 0 0 557.97,1030.99 Z" fill="#7a7a7a"/>
<path d="M559.27,1036.58 A115.3,115.3 0 0 1 558.83,1036.73 L556.92,1031.36 A109.6,109.6 0 0 0 557.34,1031.22 Z" fill="#ffffff"/>
<path d="M558.83,1036.73 A115.3,115.3 0 0 1 558.33,1036.91 L556.44,1031.53 A109.6,109.6 0 0 0 556.92,1031.36 Z" fill="#000000"/>
<path d="M558.33,1036.91 A115.3,115.3 0 0 1 557.66,1037.15 L555.80,1031.76 A109.6,109.6 0 0 0 556.44,1031.53 Z" fill="#ffffff"/>
<path d="M557.66,1037.15 A115.3,115.3 0 0 1 556.39,1037.57 L554.60,1032.16 A109.6,109.6 0 0 0 555.80,1031.76 Z" fill="#d6d6d6"/>
<path d="M556.39,1037.57 A115.3,115.3 0 0 1 555.46,1037.88 L553.72,1032.45 A109.6,109.6 0 0 0 554.60,1032.16 Z" fill="#b0b0b0"/>
<path d="M555.46,1037.88 A115.3,115.3 0 0 1 554.59,1038.15 L552.89,1032.71 A109.6,109.6 0 0 0 553.72,1032.45 Z" fill="#b0b0b0"/>
<path d="M554.59,1038.15 A115.3,115.3 0 0 1 553.98,1038.34 L552.31,1032.89 A109.6,109.6 0 0 0 552.89,1032.71 Z" fill="#b0b0b0"/>
<path d="M553.98,1038.34 A115.3,115.3 0 0 1 553.09,1038.61 L551.47,1033.15 A109.6,109.6 0 0 0 552.31,1032.89 Z" fill="#ffffff"/>
<path d="M553.09,1038.61 A115.3,115.3 0 0 1 552.55,1038.77 L550.95,1033.30 A109.6,109.6 0 0 0 551.47,1033.15 Z" fill="#ee1c24"/>
<path d="M552.55,1038.77 A115.3,115.3 0 0 1 551.37,1039.11 L549.83,1033.62 A109.6,109.6 0 0 0 550.95,1033.30 Z" fill="#7a7a7a"/>
<path d="M551.37,1039.11 A115.3,115.3 0 0 1 550.18,1039.43 L548.70,1033.93 A109.6,109.6 0 0 0 549.83,1033.62 Z" fill="#000000"/>
<path d="M550.18,1039.43 A115.3,115.3 0 0 1 548.96,1039.75 L547.54,1034.23 A109.6,109.6 0 0 0 548.70,1033.93 Z" fill="#d6d6d6"/>
<path d="M548.96,1039.75 A115.3,115.3 0 0 1 548.12,1039.97 L546.74,1034.44 A109.6,109.6 0 0 0 547.54,1034.23 Z" fill="#d6d6d6"/>
<path d="M548.12,1039.97 A115.3,115.3 0 0 1 547.32,1040.16 L545.98,1034.62 A109.6,109.6 0 0 0 546.74,1034.44 Z" fill="#ffffff"/>
<path d="M547.32,1040.16 A115.3,115.3 0 0 1 546.54,1040.35 L545.24,1034.80 A109.6,109.6 0 0 0 545.98,1034.62 Z" fill="#000000"/>
<path d="M546.54,1040.35 A115.3,115.3 0 0 1 545.81,1040.52 L544.54,1034.96 A109.6,109.6 0 0 0 545.24,1034.80 Z" fill="#000000"/>
<path d="M545.81,1040.52 A115.3,115.3 0 0 1 544.65,1040.78 L543.44,1035.21 A109.6,109.6 0 0 0 544.54,1034.96 Z" fill="#d6d6d6"/>
<path d="M544.65,1040.78 A115.3,115.3 0 0 1 543.81,1040.96 L542.65,1035.38 A109.6,109.6 0 0 0 543.44,1035.21 Z" fill="#b0b0b0"/>
<path d="M543.81,1040.96 A115.3,115.3 0 0 1 542.83,1041.16 L541.71,1035.57 A109.6,109.6 0 0 0 542.65,1035.38 Z" fill="#7a7a7a"/>
<path d="M542.83,1041.16 A115.3,115.3 0 0 1 541.55,1041.41 L540.50,1035.80 A109.6,109.6 0 0 0 541.71,1035.57 Z" fill="#ffffff"/>
<path d="M541.55,1041.41 A115.3,115.3 0 0 1 540.60,1041.58 L539.59,1035.97 A109.6,109.6 0 0 0 540.50,1035.80 Z" fill="#7a7a7a"/>
<path d="M540.60,1041.58 A115.3,115.3 0 0 1 539.62,1041.75 L538.66,1036.13 A109.6,109.6 0 0 0 539.59,1035.97 Z" fill="#000000"/>
<path d="M539.62,1041.75 A115.3,115.3 0 0 1 538.40,1041.95 L537.50,1036.33 A109.6,109.6 0 0 0 538.66,1036.13 Z" fill="#7a7a7a"/>
<path d="M538.40,1041.95 A115.3,115.3 0 0 1 537.68,1042.07 L536.81,1036.43 A109.6,109.6 0 0 0 537.50,1036.33 Z" fill="#ffffff"/>
<path d="M537.68,1042.07 A115.3,115.3 0 0 1 537.17,1042.14 L536.33,1036.51 A109.6,109.6 0 0 0 536.81,1036.43 Z" fill="#d6d6d6"/>
<path d="M537.17,1042.14 A115.3,115.3 0 0 1 535.85,1042.33 L535.08,1036.69 A109.6,109.6 0 0 0 536.33,1036.51 Z" fill="#000000"/>
<path d="M535.85,1042.33 A115.3,115.3 0 0 1 535.34,1042.40 L534.59,1036.75 A109.6,109.6 0 0 0 535.08,1036.69 Z" fill="#b0b0b0"/>
<path d="M535.34,1042.40 A115.3,115.3 0 0 1 534.43,1042.52 L533.72,1036.86 A109.6,109.6 0 0 0 534.59,1036.75 Z" fill="#b0b0b0"/>
<path d="M534.43,1042.52 A115.3,115.3 0 0 1 533.72,1042.61 L533.05,1036.94 A109.6,109.6 0 0 0 533.72,1036.86 Z" fill="#ffffff"/>
<path d="M533.72,1042.61 A115.3,115.3 0 0 1 533.07,1042.68 L532.43,1037.02 A109.6,109.6 0 0 0 533.05,1036.94 Z" fill="#b0b0b0"/>
<path d="M533.07,1042.68 A115.3,115.3 0 0 1 532.28,1042.77 L531.68,1037.10 A109.6,109.6 0 0 0 532.43,1037.02 Z" fill="#ffffff"/>
<path d="M532.28,1042.77 A115.3,115.3 0 0 1 531.53,1042.84 L530.97,1037.17 A109.6,109.6 0 0 0 531.68,1037.10 Z" fill="#7a7a7a"/>
<path d="M531.53,1042.84 A115.3,115.3 0 0 1 531.13,1042.88 L530.59,1037.21 A109.6,109.6 0 0 0 530.97,1037.17 Z" fill="#d6d6d6"/>
<path d="M562.13,1035.50 A115.3,115.3 0 0 1 531.13,1042.88 L530.59,1037.21 A109.6,109.6 0 0 0 560.06,1030.19 Z" fill="none" stroke="#222" stroke-width="0.5"/>
<path d="M529.35,1045.95 A118.2,118.2 0 0 1 497.88,1044.17" fill="none" stroke="#E078A8" stroke-width="1.2"/>
<path d="M529.13,1043.05 A115.3,115.3 0 0 1 528.26,1043.12 L527.87,1037.43 A109.6,109.6 0 0 0 528.69,1037.37 Z" fill="#b0b0b0"/>
<path d="M528.26,1043.12 A115.3,115.3 0 0 1 527.38,1043.18 L527.02,1037.49 A109.6,109.6 0 0 0 527.87,1037.43 Z" fill="#d6d6d6"/>
<path d="M527.38,1043.18 A115.3,115.3 0 0 1 526.55,1043.22 L526.24,1037.53 A109.6,109.6 0 0 0 527.02,1037.49 Z" fill="#000000"/>
<path d="M526.55,1043.22 A115.3,115.3 0 0 1 525.87,1043.26 L525.59,1037.57 A109.6,109.6 0 0 0 526.24,1037.53 Z" fill="#b0b0b0"/>
<path d="M525.87,1043.26 A115.3,115.3 0 0 1 524.62,1043.32 L524.40,1037.62 A109.6,109.6 0 0 0 525.59,1037.57 Z" fill="#ffffff"/>
<path d="M524.62,1043.32 A115.3,115.3 0 0 1 523.83,1043.34 L523.65,1037.65 A109.6,109.6 0 0 0 524.40,1037.62 Z" fill="#7a7a7a"/>
<path d="M523.83,1043.34 A115.3,115.3 0 0 1 522.82,1043.37 L522.69,1037.67 A109.6,109.6 0 0 0 523.65,1037.65 Z" fill="#d6d6d6"/>
<path d="M522.82,1043.37 A115.3,115.3 0 0 1 521.65,1043.39 L521.58,1037.69 A109.6,109.6 0 0 0 522.69,1037.67 Z" fill="#b0b0b0"/>
<path d="M521.65,1043.39 A115.3,115.3 0 0 1 520.43,1043.40 L520.42,1037.70 A109.6,109.6 0 0 0 521.58,1037.69 Z" fill="#000000"/>
<path d="M520.43,1043.40 A115.3,115.3 0 0 1 519.84,1043.40 L519.86,1037.70 A109.6,109.6 0 0 0 520.42,1037.70 Z" fill="#000000"/>
<path d="M519.84,1043.40 A115.3,115.3 0 0 1 518.85,1043.39 L518.92,1037.69 A109.6,109.6 0 0 0 519.86,1037.70 Z" fill="#d6d6d6"/>
<path d="M518.85,1043.39 A115.3,115.3 0 0 1 518.29,1043.38 L518.38,1037.68 A109.6,109.6 0 0 0 518.92,1037.69 Z" fill="#ee1c24"/>
<path d="M518.29,1043.38 A115.3,115.3 0 0 1 516.98,1043.36 L517.14,1037.66 A109.6,109.6 0 0 0 518.38,1037.68 Z" fill="#b0b0b0"/>
<path d="M516.98,1043.36 A115.3,115.3 0 0 1 515.75,1043.31 L515.97,1037.62 A109.6,109.6 0 0 0 517.14,1037.66 Z" fill="#d6d6d6"/>
<path d="M515.75,1043.31 A115.3,115.3 0 0 1 514.81,1043.27 L515.07,1037.58 A109.6,109.6 0 0 0 515.97,1037.62 Z" fill="#000000"/>
<path d="M514.81,1043.27 A115.3,115.3 0 0 1 514.21,1043.24 L514.51,1037.55 A109.6,109.6 0 0 0 515.07,1037.58 Z" fill="#b0b0b0"/>
<path d="M514.21,1043.24 A115.3,115.3 0 0 1 512.83,1043.16 L513.19,1037.48 A109.6,109.6 0 0 0 514.51,1037.55 Z" fill="#7a7a7a"/>
<path d="M512.83,1043.16 A115.3,115.3 0 0 1 512.33,1043.13 L512.72,1037.44 A109.6,109.6 0 0 0 513.19,1037.48 Z" fill="#000000"/>
<path d="M512.33,1043.13 A115.3,115.3 0 0 1 511.60,1043.08 L512.02,1037.39 A109.6,109.6 0 0 0 512.72,1037.44 Z" fill="#000000"/>
<path d="M511.60,1043.08 A115.3,115.3 0 0 1 511.08,1043.04 L511.53,1037.36 A109.6,109.6 0 0 0 512.02,1037.39 Z" fill="#ffffff"/>
<path d="M511.08,1043.04 A115.3,115.3 0 0 1 510.38,1042.98 L510.86,1037.30 A109.6,109.6 0 0 0 511.53,1037.36 Z" fill="#ffffff"/>
<path d="M510.38,1042.98 A115.3,115.3 0 0 1 509.06,1042.86 L509.61,1037.19 A109.6,109.6 0 0 0 510.86,1037.30 Z" fill="#ffffff"/>
<path d="M509.06,1042.86 A115.3,115.3 0 0 1 508.60,1042.81 L509.17,1037.14 A109.6,109.6 0 0 0 509.61,1037.19 Z" fill="#ffffff"/>
<path d="M508.60,1042.81 A115.3,115.3 0 0 1 508.07,1042.76 L508.67,1037.09 A109.6,109.6 0 0 0 509.17,1037.14 Z" fill="#7a7a7a"/>
<path d="M508.07,1042.76 A115.3,115.3 0 0 1 507.40,1042.69 L508.03,1037.02 A109.6,109.6 0 0 0 508.67,1037.09 Z" fill="#d6d6d6"/>
<path d="M507.40,1042.69 A115.3,115.3 0 0 1 506.48,1042.58 L507.16,1036.92 A109.6,109.6 0 0 0 508.03,1037.02 Z" fill="#000000"/>
<path d="M506.48,1042.58 A115.3,115.3 0 0 1 505.72,1042.49 L506.44,1036.83 A109.6,109.6 0 0 0 507.16,1036.92 Z" fill="#7a7a7a"/>
<path d="M505.72,1042.49 A115.3,115.3 0 0 1 504.90,1042.38 L505.66,1036.73 A109.6,109.6 0 0 0 506.44,1036.83 Z" fill="#b0b0b0"/>
<path d="M504.90,1042.38 A115.3,115.3 0 0 1 503.69,1042.21 L504.50,1036.57 A109.6,109.6 0 0 0 505.66,1036.73 Z" fill="#b0b0b0"/>
<path d="M503.69,1042.21 A115.3,115.3 0 0 1 502.60,1042.05 L503.47,1036.42 A109.6,109.6 0 0 0 504.50,1036.57 Z" fill="#000000"/>
<path d="M502.60,1042.05 A115.3,115.3 0 0 1 501.69,1041.91 L502.61,1036.28 A109.6,109.6 0 0 0 503.47,1036.42 Z" fill="#ffffff"/>
<path d="M501.69,1041.91 A115.3,115.3 0 0 1 500.58,1041.72 L501.55,1036.10 A109.6,109.6 0 0 0 502.61,1036.28 Z" fill="#ffffff"/>
<path d="M500.58,1041.72 A115.3,115.3 0 0 1 499.75,1041.57 L500.76,1035.96 A109.6,109.6 0 0 0 501.55,1036.10 Z" fill="#b0b0b0"/>
<path d="M499.75,1041.57 A115.3,115.3 0 0 1 498.50,1041.34 L499.57,1035.74 A109.6,109.6 0 0 0 500.76,1035.96 Z" fill="#7a7a7a"/>
<path d="M498.50,1041.34 A115.3,115.3 0 0 1 498.43,1041.33 L499.50,1035.73 A109.6,109.6 0 0 0 499.57,1035.74 Z" fill="#7a7a7a"/>
<path d="M529.13,1043.05 A115.3,115.3 0 0 1 498.43,1041.33 L499.50,1035.73 A109.6,109.6 0 0 0 528.69,1037.37 Z" fill="none" stroke="#222" stroke-width="0.5"/>
<path d="M495.86,1043.77 A118.2,118.2 0 0 1 467.28,1033.79" fill="none" stroke="#3BAA72" stroke-width="1.2"/>
<path d="M496.45,1040.93 A115.3,115.3 0 0 1 495.11,1040.64 L496.35,1035.07 A109.6,109.6 0 0 0 497.63,1035.35 Z" fill="#ffffff"/>
<path d="M495.11,1040.64 A115.3,115.3 0 0 1 494.18,1040.43 L495.47,1034.87 A109.6,109.6 0 0 0 496.35,1035.07 Z" fill="#ffffff"/>
<path d="M494.18,1040.43 A115.3,115.3 0 0 1 492.99,1040.14 L494.33,1034.60 A109.6,109.6 0 0 0 495.47,1034.87 Z" fill="#7a7a7a"/>
<path d="M492.99,1040.14 A115.3,115.3 0 0 1 491.68,1039.82 L493.09,1034.29 A109.6,109.6 0 0 0 494.33,1034.60 Z" fill="#ffffff"/>
<path d="M491.68,1039.82 A115.3,115.3 0 0 1 491.03,1039.65 L492.47,1034.13 A109.6,109.6 0 0 0 493.09,1034.29 Z" fill="#d6d6d6"/>
<path d="M491.03,1039.65 A115.3,115.3 0 0 1 489.66,1039.28 L491.17,1033.79 A109.6,109.6 0 0 0 492.47,1034.13 Z" fill="#7a7a7a"/>
<path d="M489.66,1039.28 A115.3,115.3 0 0 1 488.59,1038.98 L490.16,1033.50 A109.6,109.6 0 0 0 491.17,1033.79 Z" fill="#b0b0b0"/>
<path d="M488.59,1038.98 A115.3,115.3 0 0 1 488.05,1038.83 L489.64,1033.35 A109.6,109.6 0 0 0 490.16,1033.50 Z" fill="#ee1c24"/>
<path d="M488.05,1038.83 A115.3,115.3 0 0 1 487.13,1038.56 L488.77,1033.10 A109.6,109.6 0 0 0 489.64,1033.35 Z" fill="#d6d6d6"/>
<path d="M487.13,1038.56 A115.3,115.3 0 0 1 485.80,1038.15 L487.50,1032.71 A109.6,109.6 0 0 0 488.77,1033.10 Z" fill="#ffffff"/>
<path d="M485.80,1038.15 A115.3,115.3 0 0 1 484.94,1037.88 L486.69,1032.45 A109.6,109.6 0 0 0 487.50,1032.71 Z" fill="#ffffff"/>
<path d="M484.94,1037.88 A115.3,115.3 0 0 1 484.24,1037.65 L486.02,1032.23 A109.6,109.6 0 0 0 486.69,1032.45 Z" fill="#ffffff"/>
<path d="M484.24,1037.65 A115.3,115.3 0 0 1 483.11,1037.27 L484.94,1031.87 A109.6,109.6 0 0 0 486.02,1032.23 Z" fill="#d6d6d6"/>
<path d="M483.11,1037.27 A115.3,115.3 0 0 1 481.85,1036.83 L483.74,1031.46 A109.6,109.6 0 0 0 484.94,1031.87 Z" fill="#7a7a7a"/>
<path d="M481.85,1036.83 A115.3,115.3 0 0 1 481.42,1036.68 L483.34,1031.31 A109.6,109.6 0 0 0 483.74,1031.46 Z" fill="#000000"/>
<path d="M481.42,1036.68 A115.3,115.3 0 0 1 480.17,1036.23 L482.15,1030.88 A109.6,109.6 0 0 0 483.34,1031.31 Z" fill="#ffffff"/>
<path d="M480.17,1036.23 A115.3,115.3 0 0 1 479.47,1035.97 L481.48,1030.63 A109.6,109.6 0 0 0 482.15,1030.88 Z" fill="#d6d6d6"/>
<path d="M479.47,1035.97 A115.3,115.3 0 0 1 478.89,1035.75 L480.94,1030.43 A109.6,109.6 0 0 0 481.48,1030.63 Z" fill="#d6d6d6"/>
<path d="M478.89,1035.75 A115.3,115.3 0 0 1 477.95,1035.38 L480.04,1030.08 A109.6,109.6 0 0 0 480.94,1030.43 Z" fill="#000000"/>
<path d="M477.95,1035.38 A115.3,115.3 0 0 1 476.89,1034.96 L479.03,1029.67 A109.6,109.6 0 0 0 480.04,1030.08 Z" fill="#000000"/>
<path d="M476.89,1034.96 A115.3,115.3 0 0 1 476.02,1034.60 L478.20,1029.34 A109.6,109.6 0 0 0 479.03,1029.67 Z" fill="#7a7a7a"/>
<path d="M476.02,1034.60 A115.3,115.3 0 0 1 475.45,1034.36 L477.66,1029.11 A109.6,109.6 0 0 0 478.20,1029.34 Z" fill="#d6d6d6"/>
<path d="M475.45,1034.36 A115.3,115.3 0 0 1 474.68,1034.04 L476.93,1028.80 A109.6,109.6 0 0 0 477.66,1029.11 Z" fill="#b0b0b0"/>
<path d="M474.68,1034.04 A115.3,115.3 0 0 1 473.72,1033.62 L476.02,1028.40 A109.6,109.6 0 0 0 476.93,1028.80 Z" fill="#000000"/>
<path d="M473.72,1033.62 A115.3,115.3 0 0 1 472.89,1033.25 L475.23,1028.05 A109.6,109.6 0 0 0 476.02,1028.40 Z" fill="#d6d6d6"/>
<path d="M472.89,1033.25 A115.3,115.3 0 0 1 472.06,1032.87 L474.44,1027.69 A109.6,109.6 0 0 0 475.23,1028.05 Z" fill="#7a7a7a"/>
<path d="M472.06,1032.87 A115.3,115.3 0 0 1 470.85,1032.30 L473.29,1027.15 A109.6,109.6 0 0 0 474.44,1027.69 Z" fill="#b0b0b0"/>
<path d="M470.85,1032.30 A115.3,115.3 0 0 1 469.87,1031.83 L472.36,1026.71 A109.6,109.6 0 0 0 473.29,1027.15 Z" fill="#ffffff"/>
<path d="M469.87,1031.83 A115.3,115.3 0 0 1 469.05,1031.43 L471.58,1026.32 A109.6,109.6 0 0 0 472.36,1026.71 Z" fill="#d6d6d6"/>
<path d="M469.05,1031.43 A115.3,115.3 0 0 1 468.58,1031.20 L471.13,1026.10 A109.6,109.6 0 0 0 471.58,1026.32 Z" fill="#d6d6d6"/>
<path d="M496.45,1040.93 A115.3,115.3 0 0 1 468.58,1031.20 L471.13,1026.10 A109.6,109.6 0 0 0 497.63,1035.35 Z" fill="none" stroke="#222" stroke-width="0.5"/>
<path d="M465.45,1032.85 A118.2,118.2 0 0 1 440.73,1015.59" fill="none" stroke="#A83333" stroke-width="1.2"/>
<path d="M466.79,1030.28 A115.3,115.3 0 0 1 465.58,1029.64 L468.28,1024.62 A109.6,109.6 0 0 0 469.43,1025.23 Z" fill="#7a7a7a"/>
<path d="M465.58,1029.64 A115.3,115.3 0 0 1 464.36,1028.97 L467.12,1023.99 A109.6,109.6 0 0 0 468.28,1024.62 Z" fill="#000000"/>
<path d="M464.36,1028.97 A115.3,115.3 0 0 1 463.31,1028.39 L466.12,1023.43 A109.6,109.6 0 0 0 467.12,1023.99 Z" fill="#ffffff"/>
<path d="M463.31,1028.39 A115.3,115.3 0 0 1 462.37,1027.85 L465.23,1022.92 A109.6,109.6 0 0 0 466.12,1023.43 Z" fill="#d6d6d6"/>
<path d="M462.37,1027.85 A115.3,115.3 0 0 1 461.24,1027.18 L464.15,1022.29 A109.6,109.6 0 0 0 465.23,1022.92 Z" fill="#000000"/>
<path d="M461.24,1027.18 A115.3,115.3 0 0 1 460.10,1026.50 L463.07,1021.63 A109.6,109.6 0 0 0 464.15,1022.29 Z" fill="#7a7a7a"/>
<path d="M460.10,1026.50 A115.3,115.3 0 0 1 459.06,1025.86 L462.09,1021.02 A109.6,109.6 0 0 0 463.07,1021.63 Z" fill="#7a7a7a"/>
<path d="M459.06,1025.86 A115.3,115.3 0 0 1 458.19,1025.31 L461.26,1020.50 A109.6,109.6 0 0 0 462.09,1021.02 Z" fill="#d6d6d6"/>
<path d="M458.19,1025.31 A115.3,115.3 0 0 1 457.48,1024.85 L460.58,1020.07 A109.6,109.6 0 0 0 461.26,1020.50 Z" fill="#b0b0b0"/>
<path d="M457.48,1024.85 A115.3,115.3 0 0 1 457.00,1024.53 L460.12,1019.77 A109.6,109.6 0 0 0 460.58,1020.07 Z" fill="#000000"/>
<path d="M457.00,1024.53 A115.3,115.3 0 0 1 456.52,1024.22 L459.67,1019.47 A109.6,109.6 0 0 0 460.12,1019.77 Z" fill="#ee1c24"/>
<path d="M456.52,1024.22 A115.3,115.3 0 0 1 455.94,1023.83 L459.12,1019.10 A109.6,109.6 0 0 0 459.67,1019.47 Z" fill="#000000"/>
<path d="M455.94,1023.83 A115.3,115.3 0 0 1 455.53,1023.56 L458.73,1018.84 A109.6,109.6 0 0 0 459.12,1019.10 Z" fill="#000000"/>
<path d="M455.53,1023.56 A115.3,115.3 0 0 1 454.55,1022.88 L457.80,1018.20 A109.6,109.6 0 0 0 458.73,1018.84 Z" fill="#ffffff"/>
<path d="M454.55,1022.88 A115.3,115.3 0 0 1 454.03,1022.52 L457.30,1017.85 A109.6,109.6 0 0 0 457.80,1018.20 Z" fill="#ffffff"/>
<path d="M454.03,1022.52 A115.3,115.3 0 0 1 453.01,1021.80 L456.33,1017.17 A109.6,109.6 0 0 0 457.30,1017.85 Z" fill="#ffffff"/>
<path d="M453.01,1021.80 A115.3,115.3 0 0 1 452.38,1021.34 L455.73,1016.73 A109.6,109.6 0 0 0 456.33,1017.17 Z" fill="#000000"/>
<path d="M452.38,1021.34 A115.3,115.3 0 0 1 451.46,1020.67 L454.86,1016.09 A109.6,109.6 0 0 0 455.73,1016.73 Z" fill="#ffffff"/>
<path d="M451.46,1020.67 A115.3,115.3 0 0 1 450.41,1019.88 L453.86,1015.34 A109.6,109.6 0 0 0 454.86,1016.09 Z" fill="#7a7a7a"/>
<path d="M450.41,1019.88 A115.3,115.3 0 0 1 450.00,1019.56 L453.47,1015.04 A109.6,109.6 0 0 0 453.86,1015.34 Z" fill="#000000"/>
<path d="M450.00,1019.56 A115.3,115.3 0 0 1 449.23,1018.97 L452.74,1014.48 A109.6,109.6 0 0 0 453.47,1015.04 Z" fill="#000000"/>
<path d="M449.23,1018.97 A115.3,115.3 0 0 1 448.65,1018.51 L452.19,1014.05 A109.6,109.6 0 0 0 452.74,1014.48 Z" fill="#d6d6d6"/>
<path d="M448.65,1018.51 A115.3,115.3 0 0 1 447.99,1017.99 L451.56,1013.54 A109.6,109.6 0 0 0 452.19,1014.05 Z" fill="#ffffff"/>
<path d="M447.99,1017.99 A115.3,115.3 0 0 1 447.05,1017.23 L450.67,1012.82 A109.6,109.6 0 0 0 451.56,1013.54 Z" fill="#7a7a7a"/>
<path d="M447.05,1017.23 A115.3,115.3 0 0 1 446.56,1016.82 L450.20,1012.43 A109.6,109.6 0 0 0 450.67,1012.82 Z" fill="#000000"/>
<path d="M446.56,1016.82 A115.3,115.3 0 0 1 445.91,1016.28 L449.58,1011.92 A109.6,109.6 0 0 0 450.20,1012.43 Z" fill="#000000"/>
<path d="M445.91,1016.28 A115.3,115.3 0 0 1 445.46,1015.90 L449.16,1011.56 A109.6,109.6 0 0 0 449.58,1011.92 Z" fill="#b0b0b0"/>
<path d="M445.46,1015.90 A115.3,115.3 0 0 1 444.89,1015.41 L448.62,1011.09 A109.6,109.6 0 0 0 449.16,1011.56 Z" fill="#7a7a7a"/>
<path d="M444.89,1015.41 A115.3,115.3 0 0 1 444.51,1015.07 L448.25,1010.77 A109.6,109.6 0 0 0 448.62,1011.09 Z" fill="#b0b0b0"/>
<path d="M444.51,1015.07 A115.3,115.3 0 0 1 443.44,1014.14 L447.24,1009.88 A109.6,109.6 0 0 0 448.25,1010.77 Z" fill="#ffffff"/>
<path d="M443.44,1014.14 A115.3,115.3 0 0 1 442.86,1013.61 L446.68,1009.38 A109.6,109.6 0 0 0 447.24,1009.88 Z" fill="#ffffff"/>
<path d="M442.86,1013.61 A115.3,115.3 0 0 1 442.68,1013.45 L446.51,1009.23 A109.6,109.6 0 0 0 446.68,1009.38 Z" fill="#7a7a7a"/>
<path d="M466.79,1030.28 A115.3,115.3 0 0 1 442.68,1013.45 L446.51,1009.23 A109.6,109.6 0 0 0 469.43,1025.23 Z" fill="none" stroke="#222" stroke-width="0.5"/>
<path d="M439.21,1014.19 A118.2,118.2 0 0 1 420.21,991.13" fill="none" stroke="#F07040" stroke-width="1.2"/>
<path d="M441.20,1012.08 A115.3,115.3 0 0 1 440.40,1011.32 L444.35,1007.21 A109.6,109.6 0 0 0 445.11,1007.93 Z" fill="#ffffff"/>
<path d="M440.40,1011.32 A115.3,115.3 0 0 1 439.63,1010.57 L443.61,1006.50 A109.6,109.6 0 0 0 444.35,1007.21 Z" fill="#ffffff"/>
<path d="M439.63,1010.57 A115.3,115.3 0 0 1 438.71,1009.67 L442.74,1005.64 A109.6,109.6 0 0 0 443.61,1006.50 Z" fill="#000000"/>
<path d="M438.71,1009.67 A115.3,115.3 0 0 1 438.24,1009.19 L442.29,1005.19 A109.6,109.6 0 0 0 442.74,1005.64 Z" fill="#000000"/>
<path d="M438.24,1009.19 A115.3,115.3 0 0 1 437.85,1008.80 L441.92,1004.81 A109.6,109.6 0 0 0 442.29,1005.19 Z" fill="#ffffff"/>
<path d="M437.85,1008.80 A115.3,115.3 0 0 1 436.96,1007.89 L441.08,1003.94 A109.6,109.6 0 0 0 441.92,1004.81 Z" fill="#d6d6d6"/>
<path d="M436.96,1007.89 A115.3,115.3 0 0 1 436.05,1006.93 L440.21,1003.03 A109.6,109.6 0 0 0 441.08,1003.94 Z" fill="#ffffff"/>
<path d="M436.05,1006.93 A115.3,115.3 0 0 1 435.67,1006.51 L439.85,1002.63 A109.6,109.6 0 0 0 440.21,1003.03 Z" fill="#ee1c24"/>
<path d="M435.67,1006.51 A115.3,115.3 0 0 1 435.28,1006.09 L439.48,1002.24 A109.6,109.6 0 0 0 439.85,1002.63 Z" fill="#ee1c24"/>
<path d="M435.28,1006.09 A115.3,115.3 0 0 1 434.36,1005.08 L438.60,1001.27 A109.6,109.6 0 0 0 439.48,1002.24 Z" fill="#7a7a7a"/>
<path d="M434.36,1005.08 A115.3,115.3 0 0 1 433.70,1004.34 L437.98,1000.57 A109.6,109.6 0 0 0 438.60,1001.27 Z" fill="#ffffff"/>
<path d="M433.70,1004.34 A115.3,115.3 0 0 1 433.25,1003.82 L437.55,1000.08 A109.6,109.6 0 0 0 437.98,1000.57 Z" fill="#d6d6d6"/>
<path d="M433.25,1003.82 A115.3,115.3 0 0 1 432.72,1003.21 L437.05,999.50 A109.6,109.6 0 0 0 437.55,1000.08 Z" fill="#ffffff"/>
<path d="M432.72,1003.21 A115.3,115.3 0 0 1 432.23,1002.63 L436.58,998.95 A109.6,109.6 0 0 0 437.05,999.50 Z" fill="#d6d6d6"/>
<path d="M432.23,1002.63 A115.3,115.3 0 0 1 431.59,1001.88 L435.97,998.23 A109.6,109.6 0 0 0 436.58,998.95 Z" fill="#b0b0b0"/>
<path d="M431.59,1001.88 A115.3,115.3 0 0 1 431.03,1001.20 L435.44,997.59 A109.6,109.6 0 0 0 435.97,998.23 Z" fill="#7a7a7a"/>
<path d="M431.03,1001.20 A115.3,115.3 0 0 1 430.70,1000.79 L435.13,997.20 A109.6,109.6 0 0 0 435.44,997.59 Z" fill="#ffffff"/>
<path d="M430.70,1000.79 A115.3,115.3 0 0 1 430.04,999.97 L434.50,996.42 A109.6,109.6 0 0 0 435.13,997.20 Z" fill="#ffffff"/>
<path d="M430.04,999.97 A115.3,115.3 0 0 1 429.36,999.11 L433.85,995.60 A109.6,109.6 0 0 0 434.50,996.42 Z" fill="#d6d6d6"/>
<path d="M429.36,999.11 A115.3,115.3 0 0 1 428.98,998.62 L433.49,995.14 A109.6,109.6 0 0 0 433.85,995.60 Z" fill="#7a7a7a"/>
<path d="M428.98,998.62 A115.3,115.3 0 0 1 428.70,998.25 L433.22,994.78 A109.6,109.6 0 0 0 433.49,995.14 Z" fill="#7a7a7a"/>
<path d="M428.70,998.25 A115.3,115.3 0 0 1 428.08,997.44 L432.63,994.01 A109.6,109.6 0 0 0 433.22,994.78 Z" fill="#ffffff"/>
<path d="M428.08,997.44 A115.3,115.3 0 0 1 427.76,997.01 L432.33,993.60 A109.6,109.6 0 0 0 432.63,994.01 Z" fill="#ffffff"/>
<path d="M427.76,997.01 A115.3,115.3 0 0 1 427.41,996.53 L431.99,993.15 A109.6,109.6 0 0 0 432.33,993.60 Z" fill="#ffffff"/>
<path d="M427.41,996.53 A115.3,115.3 0 0 1 426.90,995.84 L431.51,992.49 A109.6,109.6 0 0 0 431.99,993.15 Z" fill="#ffffff"/>
<path d="M426.90,995.84 A115.3,115.3 0 0 1 426.44,995.21 L431.08,991.89 A109.6,109.6 0 0 0 431.51,992.49 Z" fill="#7a7a7a"/>
<path d="M426.44,995.21 A115.3,115.3 0 0 1 425.67,994.11 L430.34,990.85 A109.6,109.6 0 0 0 431.08,991.89 Z" fill="#ffffff"/>
<path d="M425.67,994.11 A115.3,115.3 0 0 1 425.06,993.23 L429.76,990.01 A109.6,109.6 0 0 0 430.34,990.85 Z" fill="#ffffff"/>
<path d="M425.06,993.23 A115.3,115.3 0 0 1 424.36,992.20 L429.10,989.03 A109.6,109.6 0 0 0 429.76,990.01 Z" fill="#7a7a7a"/>
<path d="M424.36,992.20 A115.3,115.3 0 0 1 423.86,991.44 L428.62,988.31 A109.6,109.6 0 0 0 429.10,989.03 Z" fill="#7a7a7a"/>
<path d="M423.86,991.44 A115.3,115.3 0 0 1 423.28,990.56 L428.07,987.47 A109.6,109.6 0 0 0 428.62,988.31 Z" fill="#7a7a7a"/>
<path d="M423.28,990.56 A115.3,115.3 0 0 1 422.72,989.68 L427.54,986.64 A109.6,109.6 0 0 0 428.07,987.47 Z" fill="#b0b0b0"/>
<path d="M422.72,989.68 A115.3,115.3 0 0 1 422.66,989.58 L427.48,986.54 A109.6,109.6 0 0 0 427.54,986.64 Z" fill="#d6d6d6"/>
<path d="M441.20,1012.08 A115.3,115.3 0 0 1 422.66,989.58 L427.48,986.54 A109.6,109.6 0 0 0 445.11,1007.93 Z" fill="none" stroke="#222" stroke-width="0.5"/>
<path d="M419.12,989.37 A118.2,118.2 0 0 1 408.25,966.04" fill="none" stroke="#4A7AC8" stroke-width="1.2"/>
<path d="M421.60,987.87 A115.3,115.3 0 0 1 421.04,986.94 L425.94,984.03 A109.6,109.6 0 0 0 426.47,984.91 Z" fill="#000000"/>
<path d="M421.04,986.94 A115.3,115.3 0 0 1 420.56,986.11 L425.48,983.24 A109.6,109.6 0 0 0 425.94,984.03 Z" fill="#d6d6d6"/>
<path d="M420.56,986.11 A115.3,115.3 0 0 1 420.18,985.45 L425.12,982.62 A109.6,109.6 0 0 0 425.48,983.24 Z" fill="#b0b0b0"/>
<path d="M420.18,985.45 A115.3,115.3 0 0 1 419.92,985.00 L424.87,982.18 A109.6,109.6 0 0 0 425.12,982.62 Z" fill="#4f7fcf"/>
<path d="M419.92,985.00 A115.3,115.3 0 0 1 419.64,984.50 L424.61,981.71 A109.6,109.6 0 0 0 424.87,982.18 Z" fill="#ee1c24"/>
<path d="M419.64,984.50 A115.3,115.3 0 0 1 419.33,983.94 L424.31,981.18 A109.6,109.6 0 0 0 424.61,981.71 Z" fill="#b0b0b0"/>
<path d="M419.33,983.94 A115.3,115.3 0 0 1 418.74,982.88 L423.76,980.17 A109.6,109.6 0 0 0 424.31,981.18 Z" fill="#ffffff"/>
<path d="M418.74,982.88 A115.3,115.3 0 0 1 418.26,981.96 L423.30,979.30 A109.6,109.6 0 0 0 423.76,980.17 Z" fill="#d6d6d6"/>
<path d="M418.26,981.96 A115.3,115.3 0 0 1 417.94,981.36 L422.99,978.72 A109.6,109.6 0 0 0 423.30,979.30 Z" fill="#000000"/>
<path d="M417.94,981.36 A115.3,115.3 0 0 1 417.33,980.18 L422.42,977.60 A109.6,109.6 0 0 0 422.99,978.72 Z" fill="#000000"/>
<path d="M417.33,980.18 A115.3,115.3 0 0 1 417.03,979.58 L422.13,977.04 A109.6,109.6 0 0 0 422.42,977.60 Z" fill="#000000"/>
<path d="M417.03,979.58 A115.3,115.3 0 0 1 416.62,978.75 L421.74,976.25 A109.6,109.6 0 0 0 422.13,977.04 Z" fill="#ffffff"/>
<path d="M416.62,978.75 A115.3,115.3 0 0 1 416.19,977.85 L421.33,975.39 A109.6,109.6 0 0 0 421.74,976.25 Z" fill="#d6d6d6"/>
<path d="M416.19,977.85 A115.3,115.3 0 0 1 415.59,976.58 L420.76,974.18 A109.6,109.6 0 0 0 421.33,975.39 Z" fill="#000000"/>
<path d="M415.59,976.58 A115.3,115.3 0 0 1 415.00,975.29 L420.20,972.95 A109.6,109.6 0 0 0 420.76,974.18 Z" fill="#d6d6d6"/>
<path d="M415.00,975.29 A115.3,115.3 0 0 1 414.59,974.38 L419.82,972.09 A109.6,109.6 0 0 0 420.20,972.95 Z" fill="#ffffff"/>
<path d="M414.59,974.38 A115.3,115.3 0 0 1 414.18,973.41 L419.42,971.17 A109.6,109.6 0 0 0 419.82,972.09 Z" fill="#d6d6d6"/>
<path d="M414.18,973.41 A115.3,115.3 0 0 1 413.71,972.30 L418.97,970.12 A109.6,109.6 0 0 0 419.42,971.17 Z" fill="#ffffff"/>
<path d="M413.71,972.30 A115.3,115.3 0 0 1 413.45,971.68 L418.73,969.52 A109.6,109.6 0 0 0 418.97,970.12 Z" fill="#000000"/>
<path d="M413.45,971.68 A115.3,115.3 0 0 1 413.14,970.89 L418.43,968.78 A109.6,109.6 0 0 0 418.73,969.52 Z" fill="#b0b0b0"/>
<path d="M413.14,970.89 A115.3,115.3 0 0 1 412.86,970.19 L418.16,968.11 A109.6,109.6 0 0 0 418.43,968.78 Z" fill="#b0b0b0"/>
<path d="M412.86,970.19 A115.3,115.3 0 0 1 412.60,969.53 L417.92,967.49 A109.6,109.6 0 0 0 418.16,968.11 Z" fill="#ffffff"/>
<path d="M412.60,969.53 A115.3,115.3 0 0 1 412.29,968.71 L417.62,966.70 A109.6,109.6 0 0 0 417.92,967.49 Z" fill="#ffffff"/>
<path d="M412.29,968.71 A115.3,115.3 0 0 1 412.05,968.08 L417.40,966.11 A109.6,109.6 0 0 0 417.62,966.70 Z" fill="#000000"/>
<path d="M412.05,968.08 A115.3,115.3 0 0 1 411.72,967.17 L417.08,965.24 A109.6,109.6 0 0 0 417.40,966.11 Z" fill="#000000"/>
<path d="M411.72,967.17 A115.3,115.3 0 0 1 411.55,966.70 L416.92,964.79 A109.6,109.6 0 0 0 417.08,965.24 Z" fill="#d6d6d6"/>
<path d="M411.55,966.70 A115.3,115.3 0 0 1 411.35,966.13 L416.73,964.25 A109.6,109.6 0 0 0 416.92,964.79 Z" fill="#b0b0b0"/>
<path d="M411.35,966.13 A115.3,115.3 0 0 1 411.02,965.16 L416.42,963.33 A109.6,109.6 0 0 0 416.73,964.25 Z" fill="#ffffff"/>
<path d="M411.02,965.16 A115.3,115.3 0 0 1 411.00,965.11 L416.40,963.28 A109.6,109.6 0 0 0 416.42,963.33 Z" fill="#ffffff"/>
<path d="M421.60,987.87 A115.3,115.3 0 0 1 411.00,965.11 L416.40,963.28 A109.6,109.6 0 0 0 426.47,984.91 Z" fill="none" stroke="#222" stroke-width="0.5"/>
<path d="M407.61,964.08 A118.2,118.2 0 0 1 402.66,940.60" fill="none" stroke="#4AC4BC" stroke-width="1.2"/>
<path d="M410.37,963.20 A115.3,115.3 0 0 1 410.15,962.51 L415.59,960.81 A109.6,109.6 0 0 0 415.80,961.46 Z" fill="#b0b0b0"/>
<path d="M410.15,962.51 A115.3,115.3 0 0 1 409.96,961.87 L415.41,960.20 A109.6,109.6 0 0 0 415.59,960.81 Z" fill="#000000"/>
<path d="M409.96,961.87 A115.3,115.3 0 0 1 409.73,961.11 L415.19,959.48 A109.6,109.6 0 0 0 415.41,960.20 Z" fill="#d6d6d6"/>
<path d="M409.73,961.11 A115.3,115.3 0 0 1 409.55,960.51 L415.02,958.91 A109.6,109.6 0 0 0 415.19,959.48 Z" fill="#000000"/>
<path d="M409.55,960.51 A115.3,115.3 0 0 1 409.39,959.97 L414.87,958.39 A109.6,109.6 0 0 0 415.02,958.91 Z" fill="#ee1c24"/>
<path d="M409.39,959.97 A115.3,115.3 0 0 1 409.24,959.42 L414.72,957.87 A109.6,109.6 0 0 0 414.87,958.39 Z" fill="#ee1c24"/>
<path d="M409.24,959.42 A115.3,115.3 0 0 1 408.91,958.26 L414.42,956.77 A109.6,109.6 0 0 0 414.72,957.87 Z" fill="#ffffff"/>
<path d="M408.91,958.26 A115.3,115.3 0 0 1 408.72,957.55 L414.23,956.09 A109.6,109.6 0 0 0 414.42,956.77 Z" fill="#7a7a7a"/>
<path d="M408.72,957.55 A115.3,115.3 0 0 1 408.46,956.54 L413.99,955.13 A109.6,109.6 0 0 0 414.23,956.09 Z" fill="#ffffff"/>
<path d="M408.46,956.54 A115.3,115.3 0 0 1 408.32,955.96 L413.85,954.59 A109.6,109.6 0 0 0 413.99,955.13 Z" fill="#7a7a7a"/>
<path d="M408.32,955.96 A115.3,115.3 0 0 1 408.10,955.09 L413.65,953.76 A109.6,109.6 0 0 0 413.85,954.59 Z" fill="#ffffff"/>
<path d="M408.10,955.09 A115.3,115.3 0 0 1 407.88,954.16 L413.44,952.87 A109.6,109.6 0 0 0 413.65,953.76 Z" fill="#ffffff"/>
<path d="M407.88,954.16 A115.3,115.3 0 0 1 407.66,953.19 L413.23,951.95 A109.6,109.6 0 0 0 413.44,952.87 Z" fill="#d6d6d6"/>
<path d="M407.66,953.19 A115.3,115.3 0 0 1 407.50,952.44 L413.07,951.24 A109.6,109.6 0 0 0 413.23,951.95 Z" fill="#ffffff"/>
<path d="M407.50,952.44 A115.3,115.3 0 0 1 407.35,951.76 L412.93,950.59 A109.6,109.6 0 0 0 413.07,951.24 Z" fill="#000000"/>
<path d="M407.35,951.76 A115.3,115.3 0 0 1 407.08,950.43 L412.68,949.33 A109.6,109.6 0 0 0 412.93,950.59 Z" fill="#ffffff"/>
<path d="M407.08,950.43 A115.3,115.3 0 0 1 406.88,949.39 L412.48,948.33 A109.6,109.6 0 0 0 412.68,949.33 Z" fill="#ffffff"/>
<path d="M406.88,949.39 A115.3,115.3 0 0 1 406.68,948.26 L412.29,947.26 A109.6,109.6 0 0 0 412.48,948.33 Z" fill="#ffffff"/>
<path d="M406.68,948.26 A115.3,115.3 0 0 1 406.53,947.44 L412.15,946.48 A109.6,109.6 0 0 0 412.29,947.26 Z" fill="#000000"/>
<path d="M406.53,947.44 A115.3,115.3 0 0 1 406.37,946.43 L411.99,945.52 A109.6,109.6 0 0 0 412.15,946.48 Z" fill="#000000"/>
<path d="M406.37,946.43 A115.3,115.3 0 0 1 406.24,945.66 L411.88,944.79 A109.6,109.6 0 0 0 411.99,945.52 Z" fill="#000000"/>
<path d="M406.24,945.66 A115.3,115.3 0 0 1 406.05,944.34 L411.69,943.54 A109.6,109.6 0 0 0 411.88,944.79 Z" fill="#000000"/>
<path d="M406.05,944.34 A115.3,115.3 0 0 1 405.89,943.17 L411.54,942.42 A109.6,109.6 0 0 0 411.69,943.54 Z" fill="#b0b0b0"/>
<path d="M405.89,943.17 A115.3,115.3 0 0 1 405.77,942.26 L411.43,941.56 A109.6,109.6 0 0 0 411.54,942.42 Z" fill="#7a7a7a"/>
<path d="M405.77,942.26 A115.3,115.3 0 0 1 405.62,941.01 L411.29,940.37 A109.6,109.6 0 0 0 411.43,941.56 Z" fill="#7a7a7a"/>
<path d="M405.62,941.01 A115.3,115.3 0 0 1 405.55,940.29 L411.21,939.69 A109.6,109.6 0 0 0 411.29,940.37 Z" fill="#ffffff"/>
<path d="M410.37,963.20 A115.3,115.3 0 0 1 405.55,940.29 L411.21,939.69 A109.6,109.6 0 0 0 415.80,961.46 Z" fill="none" stroke="#222" stroke-width="0.5"/>
<path d="M402.46,938.55 A118.2,118.2 0 0 1 402.66,915.63" fill="none" stroke="#8A5AC4" stroke-width="1.2"/>
<path d="M405.35,938.29 A115.3,115.3 0 0 1 405.27,937.30 L410.95,936.85 A109.6,109.6 0 0 0 411.03,937.79 Z" fill="#000000"/>
<path d="M405.27,937.30 A115.3,115.3 0 0 1 405.21,936.54 L410.89,936.12 A109.6,109.6 0 0 0 410.95,936.85 Z" fill="#000000"/>
<path d="M405.21,936.54 A115.3,115.3 0 0 1 405.15,935.68 L410.84,935.31 A109.6,109.6 0 0 0 410.89,936.12 Z" fill="#ffffff"/>
<path d="M405.15,935.68 A115.3,115.3 0 0 1 405.12,935.16 L410.81,934.81 A109.6,109.6 0 0 0 410.84,935.31 Z" fill="#4f7fcf"/>
<path d="M405.12,935.16 A115.3,115.3 0 0 1 405.09,934.64 L410.78,934.31 A109.6,109.6 0 0 0 410.81,934.81 Z" fill="#4f7fcf"/>
<path d="M405.09,934.64 A115.3,115.3 0 0 1 405.05,934.07 L410.75,933.77 A109.6,109.6 0 0 0 410.78,934.31 Z" fill="#ee1c24"/>
<path d="M405.05,934.07 A115.3,115.3 0 0 1 405.01,933.05 L410.70,932.80 A109.6,109.6 0 0 0 410.75,933.77 Z" fill="#b0b0b0"/>
<path d="M405.01,933.05 A115.3,115.3 0 0 1 404.96,931.74 L410.65,931.56 A109.6,109.6 0 0 0 410.70,932.80 Z" fill="#ffffff"/>
<path d="M404.96,931.74 A115.3,115.3 0 0 1 404.94,931.07 L410.64,930.92 A109.6,109.6 0 0 0 410.65,931.56 Z" fill="#7a7a7a"/>
<path d="M404.94,931.07 A115.3,115.3 0 0 1 404.92,930.39 L410.62,930.28 A109.6,109.6 0 0 0 410.64,930.92 Z" fill="#7a7a7a"/>
<path d="M404.92,930.39 A115.3,115.3 0 0 1 404.90,929.00 L410.60,928.95 A109.6,109.6 0 0 0 410.62,930.28 Z" fill="#000000"/>
<path d="M404.90,929.00 A115.3,115.3 0 0 1 404.90,927.88 L410.60,927.89 A109.6,109.6 0 0 0 410.60,928.95 Z" fill="#000000"/>
<path d="M404.90,927.88 A115.3,115.3 0 0 1 404.91,926.55 L410.61,926.62 A109.6,109.6 0 0 0 410.60,927.89 Z" fill="#000000"/>
<path d="M404.91,926.55 A115.3,115.3 0 0 1 404.92,925.81 L410.62,925.92 A109.6,109.6 0 0 0 410.61,926.62 Z" fill="#7a7a7a"/>
<path d="M404.92,925.81 A115.3,115.3 0 0 1 404.96,924.45 L410.65,924.63 A109.6,109.6 0 0 0 410.62,925.92 Z" fill="#ffffff"/>
<path d="M404.96,924.45 A115.3,115.3 0 0 1 405.01,923.03 L410.71,923.28 A109.6,109.6 0 0 0 410.65,924.63 Z" fill="#b0b0b0"/>
<path d="M405.01,923.03 A115.3,115.3 0 0 1 405.08,921.74 L410.77,922.06 A109.6,109.6 0 0 0 410.71,923.28 Z" fill="#7a7a7a"/>
<path d="M405.08,921.74 A115.3,115.3 0 0 1 405.13,920.75 L410.82,921.12 A109.6,109.6 0 0 0 410.77,922.06 Z" fill="#d6d6d6"/>
<path d="M405.13,920.75 A115.3,115.3 0 0 1 405.18,920.10 L410.86,920.50 A109.6,109.6 0 0 0 410.82,921.12 Z" fill="#7a7a7a"/>
<path d="M405.18,920.10 A115.3,115.3 0 0 1 405.25,919.11 L410.93,919.55 A109.6,109.6 0 0 0 410.86,920.50 Z" fill="#ffffff"/>
<path d="M405.25,919.11 A115.3,115.3 0 0 1 405.29,918.58 L410.97,919.05 A109.6,109.6 0 0 0 410.93,919.55 Z" fill="#ffffff"/>
<path d="M405.29,918.58 A115.3,115.3 0 0 1 405.34,918.02 L411.02,918.52 A109.6,109.6 0 0 0 410.97,919.05 Z" fill="#000000"/>
<path d="M405.34,918.02 A115.3,115.3 0 0 1 405.43,917.02 L411.11,917.57 A109.6,109.6 0 0 0 411.02,918.52 Z" fill="#7a7a7a"/>
<path d="M405.43,917.02 A115.3,115.3 0 0 1 405.48,916.59 L411.15,917.16 A109.6,109.6 0 0 0 411.11,917.57 Z" fill="#d6d6d6"/>
<path d="M405.48,916.59 A115.3,115.3 0 0 1 405.54,915.93 L411.21,916.53 A109.6,109.6 0 0 0 411.15,917.16 Z" fill="#ffffff"/>
<path d="M405.35,938.29 A115.3,115.3 0 0 1 405.54,915.93 L411.21,916.53 A109.6,109.6 0 0 0 411.03,937.79 Z" fill="none" stroke="#222" stroke-width="0.5"/>
<path d="M402.90,913.58 A118.2,118.2 0 0 1 407.08,893.81" fill="none" stroke="#6ABF4A" stroke-width="1.2"/>
<path d="M405.77,913.93 A115.3,115.3 0 0 1 405.87,913.18 L411.52,913.92 A109.6,109.6 0 0 0 411.43,914.63 Z" fill="#ffffff"/>
<path d="M405.87,913.18 A115.3,115.3 0 0 1 405.98,912.32 L411.63,913.10 A109.6,109.6 0 0 0 411.52,913.92 Z" fill="#7a7a7a"/>
<path d="M405.98,912.32 A115.3,115.3 0 0 1 406.16,911.10 L411.80,911.94 A109.6,109.6 0 0 0 411.63,913.10 Z" fill="#7a7a7a"/>
<path d="M406.16,911.10 A115.3,115.3 0 0 1 406.25,910.53 L411.88,911.39 A109.6,109.6 0 0 0 411.80,911.94 Z" fill="#000000"/>
<path d="M406.25,910.53 A115.3,115.3 0 0 1 406.35,909.87 L411.98,910.77 A109.6,109.6 0 0 0 411.88,911.39 Z" fill="#b0b0b0"/>
<path d="M406.35,909.87 A115.3,115.3 0 0 1 406.43,909.41 L412.05,910.33 A109.6,109.6 0 0 0 411.98,910.77 Z" fill="#b0b0b0"/>
<path d="M406.43,909.41 A115.3,115.3 0 0 1 406.55,908.68 L412.17,909.64 A109.6,109.6 0 0 0 412.05,910.33 Z" fill="#000000"/>
<path d="M406.55,908.68 A115.3,115.3 0 0 1 406.65,908.11 L412.26,909.10 A109.6,109.6 0 0 0 412.17,909.64 Z" fill="#000000"/>
<path d="M406.65,908.11 A115.3,115.3 0 0 1 406.88,906.83 L412.48,907.88 A109.6,109.6 0 0 0 412.26,909.10 Z" fill="#d6d6d6"/>
<path d="M406.88,906.83 A115.3,115.3 0 0 1 407.02,906.12 L412.61,907.20 A109.6,109.6 0 0 0 412.48,907.88 Z" fill="#ffffff"/>
<path d="M407.02,906.12 A115.3,115.3 0 0 1 407.12,905.56 L412.71,906.67 A109.6,109.6 0 0 0 412.61,907.20 Z" fill="#ee1c24"/>
<path d="M407.12,905.56 A115.3,115.3 0 0 1 407.39,904.27 L412.97,905.44 A109.6,109.6 0 0 0 412.71,906.67 Z" fill="#ffffff"/>
<path d="M407.39,904.27 A115.3,115.3 0 0 1 407.52,903.67 L413.09,904.88 A109.6,109.6 0 0 0 412.97,905.44 Z" fill="#000000"/>
<path d="M407.52,903.67 A115.3,115.3 0 0 1 407.65,903.05 L413.22,904.29 A109.6,109.6 0 0 0 413.09,904.88 Z" fill="#d6d6d6"/>
<path d="M407.65,903.05 A115.3,115.3 0 0 1 407.79,902.44 L413.35,903.71 A109.6,109.6 0 0 0 413.22,904.29 Z" fill="#ffffff"/>
<path d="M407.79,902.44 A115.3,115.3 0 0 1 408.04,901.40 L413.58,902.72 A109.6,109.6 0 0 0 413.35,903.71 Z" fill="#b0b0b0"/>
<path d="M408.04,901.40 A115.3,115.3 0 0 1 408.31,900.28 L413.84,901.65 A109.6,109.6 0 0 0 413.58,902.72 Z" fill="#b0b0b0"/>
<path d="M408.31,900.28 A115.3,115.3 0 0 1 408.65,898.94 L414.16,900.38 A109.6,109.6 0 0 0 413.84,901.65 Z" fill="#d6d6d6"/>
<path d="M408.65,898.94 A115.3,115.3 0 0 1 408.98,897.69 L414.48,899.19 A109.6,109.6 0 0 0 414.16,900.38 Z" fill="#ffffff"/>
<path d="M408.98,897.69 A115.3,115.3 0 0 1 409.19,896.95 L414.67,898.49 A109.6,109.6 0 0 0 414.48,899.19 Z" fill="#7a7a7a"/>
<path d="M409.19,896.95 A115.3,115.3 0 0 1 409.42,896.14 L414.89,897.72 A109.6,109.6 0 0 0 414.67,898.49 Z" fill="#d6d6d6"/>
<path d="M409.42,896.14 A115.3,115.3 0 0 1 409.60,895.51 L415.07,897.12 A109.6,109.6 0 0 0 414.89,897.72 Z" fill="#b0b0b0"/>
<path d="M409.60,895.51 A115.3,115.3 0 0 1 409.76,894.98 L415.22,896.62 A109.6,109.6 0 0 0 415.07,897.12 Z" fill="#d6d6d6"/>
<path d="M409.76,894.98 A115.3,115.3 0 0 1 409.86,894.65 L415.31,896.30 A109.6,109.6 0 0 0 415.22,896.62 Z" fill="#d6d6d6"/>
<path d="M405.77,913.93 A115.3,115.3 0 0 1 409.86,894.65 L415.31,896.30 A109.6,109.6 0 0 0 411.43,914.63 Z" fill="none" stroke="#222" stroke-width="0.5"/>
<path d="M407.70,891.84 A118.2,118.2 0 0 1 414.58,875.03" fill="none" stroke="#A03434" stroke-width="1.2"/>
<path d="M410.46,892.73 A115.3,115.3 0 0 1 410.75,891.85 L416.16,893.64 A109.6,109.6 0 0 0 415.88,894.48 Z" fill="#b0b0b0"/>
<path d="M410.75,891.85 A115.3,115.3 0 0 1 411.14,890.70 L416.53,892.55 A109.6,109.6 0 0 0 416.16,893.64 Z" fill="#b0b0b0"/>
<path d="M411.14,890.70 A115.3,115.3 0 0 1 411.54,889.54 L416.91,891.44 A109.6,109.6 0 0 0 416.53,892.55 Z" fill="#000000"/>
<path d="M411.54,889.54 A115.3,115.3 0 0 1 411.98,888.31 L417.33,890.28 A109.6,109.6 0 0 0 416.91,891.44 Z" fill="#000000"/>
<path d="M411.98,888.31 A115.3,115.3 0 0 1 412.18,887.78 L417.52,889.77 A109.6,109.6 0 0 0 417.33,890.28 Z" fill="#ee1c24"/>
<path d="M412.18,887.78 A115.3,115.3 0 0 1 412.38,887.25 L417.71,889.27 A109.6,109.6 0 0 0 417.52,889.77 Z" fill="#ee1c24"/>
<path d="M412.38,887.25 A115.3,115.3 0 0 1 412.77,886.23 L418.08,888.30 A109.6,109.6 0 0 0 417.71,889.27 Z" fill="#d6d6d6"/>
<path d="M412.77,886.23 A115.3,115.3 0 0 1 412.98,885.70 L418.28,887.79 A109.6,109.6 0 0 0 418.08,888.30 Z" fill="#ffffff"/>
<path d="M412.98,885.70 A115.3,115.3 0 0 1 413.31,884.87 L418.60,887.01 A109.6,109.6 0 0 0 418.28,887.79 Z" fill="#ffffff"/>
<path d="M413.31,884.87 A115.3,115.3 0 0 1 413.64,884.07 L418.91,886.24 A109.6,109.6 0 0 0 418.60,887.01 Z" fill="#000000"/>
<path d="M413.64,884.07 A115.3,115.3 0 0 1 413.84,883.59 L419.09,885.80 A109.6,109.6 0 0 0 418.91,886.24 Z" fill="#ffffff"/>
<path d="M413.84,883.59 A115.3,115.3 0 0 1 414.01,883.19 L419.26,885.41 A109.6,109.6 0 0 0 419.09,885.80 Z" fill="#000000"/>
<path d="M414.01,883.19 A115.3,115.3 0 0 1 414.29,882.53 L419.52,884.78 A109.6,109.6 0 0 0 419.26,885.41 Z" fill="#d6d6d6"/>
<path d="M414.29,882.53 A115.3,115.3 0 0 1 414.63,881.74 L419.85,884.04 A109.6,109.6 0 0 0 419.52,884.78 Z" fill="#000000"/>
<path d="M414.63,881.74 A115.3,115.3 0 0 1 414.84,881.27 L420.05,883.58 A109.6,109.6 0 0 0 419.85,884.04 Z" fill="#b0b0b0"/>
<path d="M414.84,881.27 A115.3,115.3 0 0 1 415.42,879.98 L420.60,882.36 A109.6,109.6 0 0 0 420.05,883.58 Z" fill="#d6d6d6"/>
<path d="M415.42,879.98 A115.3,115.3 0 0 1 415.70,879.37 L420.87,881.78 A109.6,109.6 0 0 0 420.60,882.36 Z" fill="#d6d6d6"/>
<path d="M415.70,879.37 A115.3,115.3 0 0 1 416.20,878.32 L421.34,880.78 A109.6,109.6 0 0 0 420.87,881.78 Z" fill="#ffffff"/>
<path d="M416.20,878.32 A115.3,115.3 0 0 1 416.47,877.76 L421.60,880.25 A109.6,109.6 0 0 0 421.34,880.78 Z" fill="#ffffff"/>
<path d="M416.47,877.76 A115.3,115.3 0 0 1 417.09,876.50 L422.19,879.05 A109.6,109.6 0 0 0 421.60,880.25 Z" fill="#ffffff"/>
<path d="M417.09,876.50 A115.3,115.3 0 0 1 417.17,876.33 L422.27,878.89 A109.6,109.6 0 0 0 422.19,879.05 Z" fill="#000000"/>
<path d="M410.46,892.73 A115.3,115.3 0 0 1 417.17,876.33 L422.27,878.89 A109.6,109.6 0 0 0 415.88,894.48 Z" fill="none" stroke="#222" stroke-width="0.5"/>
<path d="M415.52,873.20 A118.2,118.2 0 0 1 424.76,858.37" fill="none" stroke="#2A8A9A" stroke-width="1.2"/>
<path d="M418.09,874.54 A115.3,115.3 0 0 1 418.47,873.82 L423.50,876.51 A109.6,109.6 0 0 0 423.14,877.19 Z" fill="#000000"/>
<path d="M418.47,873.82 A115.3,115.3 0 0 1 418.71,873.39 L423.73,876.09 A109.6,109.6 0 0 0 423.50,876.51 Z" fill="#ffffff"/>
<path d="M418.71,873.39 A115.3,115.3 0 0 1 419.18,872.52 L424.17,875.27 A109.6,109.6 0 0 0 423.73,876.09 Z" fill="#b0b0b0"/>
<path d="M419.18,872.52 A115.3,115.3 0 0 1 419.54,871.86 L424.52,874.65 A109.6,109.6 0 0 0 424.17,875.27 Z" fill="#000000"/>
<path d="M419.54,871.86 A115.3,115.3 0 0 1 419.82,871.37 L424.78,874.17 A109.6,109.6 0 0 0 424.52,874.65 Z" fill="#ee1c24"/>
<path d="M419.82,871.37 A115.3,115.3 0 0 1 420.10,870.88 L425.05,873.71 A109.6,109.6 0 0 0 424.78,874.17 Z" fill="#ee1c24"/>
<path d="M420.10,870.88 A115.3,115.3 0 0 1 420.69,869.86 L425.61,872.74 A109.6,109.6 0 0 0 425.05,873.71 Z" fill="#000000"/>
<path d="M420.69,869.86 A115.3,115.3 0 0 1 421.00,869.34 L425.90,872.25 A109.6,109.6 0 0 0 425.61,872.74 Z" fill="#d6d6d6"/>
<path d="M421.00,869.34 A115.3,115.3 0 0 1 421.28,868.87 L426.17,871.80 A109.6,109.6 0 0 0 425.90,872.25 Z" fill="#7a7a7a"/>
<path d="M421.28,868.87 A115.3,115.3 0 0 1 421.62,868.30 L426.49,871.26 A109.6,109.6 0 0 0 426.17,871.80 Z" fill="#7a7a7a"/>
<path d="M421.62,868.30 A115.3,115.3 0 0 1 422.13,867.47 L426.98,870.46 A109.6,109.6 0 0 0 426.49,871.26 Z" fill="#d6d6d6"/>
<path d="M422.13,867.47 A115.3,115.3 0 0 1 422.77,866.44 L427.59,869.49 A109.6,109.6 0 0 0 426.98,870.46 Z" fill="#d6d6d6"/>
<path d="M422.77,866.44 A115.3,115.3 0 0 1 423.14,865.86 L427.94,868.93 A109.6,109.6 0 0 0 427.59,869.49 Z" fill="#000000"/>
<path d="M423.14,865.86 A115.3,115.3 0 0 1 423.50,865.31 L428.28,868.41 A109.6,109.6 0 0 0 427.94,868.93 Z" fill="#000000"/>
<path d="M423.50,865.31 A115.3,115.3 0 0 1 424.06,864.45 L428.82,867.59 A109.6,109.6 0 0 0 428.28,868.41 Z" fill="#d6d6d6"/>
<path d="M424.06,864.45 A115.3,115.3 0 0 1 424.32,864.05 L429.06,867.22 A109.6,109.6 0 0 0 428.82,867.59 Z" fill="#000000"/>
<path d="M424.32,864.05 A115.3,115.3 0 0 1 425.10,862.90 L429.80,866.13 A109.6,109.6 0 0 0 429.06,867.22 Z" fill="#ffffff"/>
<path d="M425.10,862.90 A115.3,115.3 0 0 1 425.67,862.08 L430.35,865.34 A109.6,109.6 0 0 0 429.80,866.13 Z" fill="#d6d6d6"/>
<path d="M425.67,862.08 A115.3,115.3 0 0 1 426.11,861.46 L430.76,864.76 A109.6,109.6 0 0 0 430.35,865.34 Z" fill="#000000"/>
<path d="M426.11,861.46 A115.3,115.3 0 0 1 426.37,861.09 L431.01,864.40 A109.6,109.6 0 0 0 430.76,864.76 Z" fill="#000000"/>
<path d="M426.37,861.09 A115.3,115.3 0 0 1 427.09,860.09 L431.69,863.46 A109.6,109.6 0 0 0 431.01,864.40 Z" fill="#000000"/>
<path d="M427.09,860.09 A115.3,115.3 0 0 1 427.10,860.08 L431.70,863.44 A109.6,109.6 0 0 0 431.69,863.46 Z" fill="#d6d6d6"/>
<path d="M418.09,874.54 A115.3,115.3 0 0 1 427.10,860.08 L431.70,863.44 A109.6,109.6 0 0 0 423.14,877.19 Z" fill="none" stroke="#222" stroke-width="0.5"/>
<path d="M425.99,856.72 A118.2,118.2 0 0 1 434.56,846.63" fill="none" stroke="#E8603E" stroke-width="1.2"/>
<path d="M428.30,858.47 A115.3,115.3 0 0 1 429.08,857.45 L433.58,860.94 A109.6,109.6 0 0 0 432.85,861.91 Z" fill="#ffffff"/>
<path d="M429.08,857.45 A115.3,115.3 0 0 1 429.39,857.05 L433.88,860.56 A109.6,109.6 0 0 0 433.58,860.94 Z" fill="#d6d6d6"/>
<path d="M429.39,857.05 A115.3,115.3 0 0 1 430.01,856.27 L434.47,859.82 A109.6,109.6 0 0 0 433.88,860.56 Z" fill="#000000"/>
<path d="M430.01,856.27 A115.3,115.3 0 0 1 430.64,855.48 L435.07,859.07 A109.6,109.6 0 0 0 434.47,859.82 Z" fill="#d6d6d6"/>
<path d="M430.64,855.48 A115.3,115.3 0 0 1 431.30,854.67 L435.70,858.30 A109.6,109.6 0 0 0 435.07,859.07 Z" fill="#ffffff"/>
<path d="M431.30,854.67 A115.3,115.3 0 0 1 431.78,854.10 L436.15,857.76 A109.6,109.6 0 0 0 435.70,858.30 Z" fill="#ffffff"/>
<path d="M431.78,854.10 A115.3,115.3 0 0 1 432.14,853.67 L436.50,857.35 A109.6,109.6 0 0 0 436.15,857.76 Z" fill="#ee1c24"/>
<path d="M432.14,853.67 A115.3,115.3 0 0 1 432.90,852.78 L437.22,856.51 A109.6,109.6 0 0 0 436.50,857.35 Z" fill="#d6d6d6"/>
<path d="M432.90,852.78 A115.3,115.3 0 0 1 433.68,851.89 L437.96,855.65 A109.6,109.6 0 0 0 437.22,856.51 Z" fill="#000000"/>
<path d="M433.68,851.89 A115.3,115.3 0 0 1 434.03,851.49 L438.29,855.28 A109.6,109.6 0 0 0 437.96,855.65 Z" fill="#000000"/>
<path d="M434.03,851.49 A115.3,115.3 0 0 1 434.43,851.04 L438.67,854.85 A109.6,109.6 0 0 0 438.29,855.28 Z" fill="#d6d6d6"/>
<path d="M434.43,851.04 A115.3,115.3 0 0 1 434.89,850.54 L439.11,854.37 A109.6,109.6 0 0 0 438.67,854.85 Z" fill="#000000"/>
<path d="M434.89,850.54 A115.3,115.3 0 0 1 435.64,849.72 L439.82,853.59 A109.6,109.6 0 0 0 439.11,854.37 Z" fill="#000000"/>
<path d="M435.64,849.72 A115.3,115.3 0 0 1 436.47,848.83 L440.61,852.75 A109.6,109.6 0 0 0 439.82,853.59 Z" fill="#ffffff"/>
<path d="M436.47,848.83 A115.3,115.3 0 0 1 436.66,848.63 L440.79,852.56 A109.6,109.6 0 0 0 440.61,852.75 Z" fill="#7a7a7a"/>
<path d="M428.30,858.47 A115.3,115.3 0 0 1 436.66,848.63 L440.79,852.56 A109.6,109.6 0 0 0 432.85,861.91 Z" fill="none" stroke="#222" stroke-width="0.5"/>
<path d="M436.00,845.15 A118.2,118.2 0 0 1 446.48,835.71" fill="none" stroke="#6AB8E0" stroke-width="1.2"/>
<path d="M438.06,847.18 A115.3,115.3 0 0 1 438.62,846.62 L442.65,850.65 A109.6,109.6 0 0 0 442.12,851.18 Z" fill="#d6d6d6"/>
<path d="M438.62,846.62 A115.3,115.3 0 0 1 439.42,845.83 L443.42,849.89 A109.6,109.6 0 0 0 442.65,850.65 Z" fill="#ffffff"/>
<path d="M439.42,845.83 A115.3,115.3 0 0 1 439.83,845.43 L443.80,849.52 A109.6,109.6 0 0 0 443.42,849.89 Z" fill="#000000"/>
<path d="M439.83,845.43 A115.3,115.3 0 0 1 440.84,844.46 L444.76,848.59 A109.6,109.6 0 0 0 443.80,849.52 Z" fill="#ffffff"/>
<path d="M440.84,844.46 A115.3,115.3 0 0 1 441.69,843.66 L445.57,847.83 A109.6,109.6 0 0 0 444.76,848.59 Z" fill="#000000"/>
<path d="M441.69,843.66 A115.3,115.3 0 0 1 442.11,843.27 L445.97,847.47 A109.6,109.6 0 0 0 445.57,847.83 Z" fill="#ee1c24"/>
<path d="M442.11,843.27 A115.3,115.3 0 0 1 442.53,842.89 L446.37,847.10 A109.6,109.6 0 0 0 445.97,847.47 Z" fill="#ee1c24"/>
<path d="M442.53,842.89 A115.3,115.3 0 0 1 443.50,842.01 L447.29,846.27 A109.6,109.6 0 0 0 446.37,847.10 Z" fill="#ffffff"/>
<path d="M443.50,842.01 A115.3,115.3 0 0 1 443.90,841.66 L447.67,845.93 A109.6,109.6 0 0 0 447.29,846.27 Z" fill="#000000"/>
<path d="M443.90,841.66 A115.3,115.3 0 0 1 444.44,841.18 L448.19,845.48 A109.6,109.6 0 0 0 447.67,845.93 Z" fill="#7a7a7a"/>
<path d="M444.44,841.18 A115.3,115.3 0 0 1 445.47,840.29 L449.17,844.64 A109.6,109.6 0 0 0 448.19,845.48 Z" fill="#ffffff"/>
<path d="M445.47,840.29 A115.3,115.3 0 0 1 446.32,839.58 L449.97,843.96 A109.6,109.6 0 0 0 449.17,844.64 Z" fill="#000000"/>
<path d="M446.32,839.58 A115.3,115.3 0 0 1 446.83,839.16 L450.45,843.56 A109.6,109.6 0 0 0 449.97,843.96 Z" fill="#d6d6d6"/>
<path d="M446.83,839.16 A115.3,115.3 0 0 1 447.25,838.81 L450.86,843.22 A109.6,109.6 0 0 0 450.45,843.56 Z" fill="#d6d6d6"/>
<path d="M447.25,838.81 A115.3,115.3 0 0 1 447.91,838.27 L451.49,842.71 A109.6,109.6 0 0 0 450.86,843.22 Z" fill="#ffffff"/>
<path d="M447.91,838.27 A115.3,115.3 0 0 1 448.28,837.98 L451.84,842.43 A109.6,109.6 0 0 0 451.49,842.71 Z" fill="#b0b0b0"/>
<path d="M438.06,847.18 A115.3,115.3 0 0 1 448.28,837.98 L451.84,842.43 A109.6,109.6 0 0 0 442.12,851.18 Z" fill="none" stroke="#222" stroke-width="0.5"/>
<path d="M448.10,834.44 A118.2,118.2 0 0 1 456.93,828.26" fill="none" stroke="#6AC8A8" stroke-width="1.2"/>
<path d="M449.87,836.74 A115.3,115.3 0 0 1 450.46,836.29 L453.90,840.82 A109.6,109.6 0 0 0 453.35,841.25 Z" fill="#000000"/>
<path d="M450.46,836.29 A115.3,115.3 0 0 1 450.98,835.89 L454.40,840.45 A109.6,109.6 0 0 0 453.90,840.82 Z" fill="#d6d6d6"/>
<path d="M450.98,835.89 A115.3,115.3 0 0 1 451.40,835.58 L454.80,840.15 A109.6,109.6 0 0 0 454.40,840.45 Z" fill="#4f7fcf"/>
<path d="M451.40,835.58 A115.3,115.3 0 0 1 451.85,835.24 L455.23,839.83 A109.6,109.6 0 0 0 454.80,840.15 Z" fill="#ee1c24"/>
<path d="M451.85,835.24 A115.3,115.3 0 0 1 452.31,834.91 L455.67,839.51 A109.6,109.6 0 0 0 455.23,839.83 Z" fill="#ee1c24"/>
<path d="M452.31,834.91 A115.3,115.3 0 0 1 453.40,834.12 L456.70,838.77 A109.6,109.6 0 0 0 455.67,839.51 Z" fill="#d6d6d6"/>
<path d="M453.40,834.12 A115.3,115.3 0 0 1 454.13,833.61 L457.40,838.28 A109.6,109.6 0 0 0 456.70,838.77 Z" fill="#7a7a7a"/>
<path d="M454.13,833.61 A115.3,115.3 0 0 1 455.25,832.84 L458.46,837.55 A109.6,109.6 0 0 0 457.40,838.28 Z" fill="#d6d6d6"/>
<path d="M455.25,832.84 A115.3,115.3 0 0 1 455.92,832.38 L459.10,837.11 A109.6,109.6 0 0 0 458.46,837.55 Z" fill="#ffffff"/>
<path d="M455.92,832.38 A115.3,115.3 0 0 1 456.46,832.02 L459.61,836.77 A109.6,109.6 0 0 0 459.10,837.11 Z" fill="#b0b0b0"/>
<path d="M456.46,832.02 A115.3,115.3 0 0 1 457.03,831.65 L460.15,836.42 A109.6,109.6 0 0 0 459.61,836.77 Z" fill="#000000"/>
<path d="M457.03,831.65 A115.3,115.3 0 0 1 458.06,830.98 L461.13,835.78 A109.6,109.6 0 0 0 460.15,836.42 Z" fill="#000000"/>
<path d="M458.06,830.98 A115.3,115.3 0 0 1 458.48,830.71 L461.53,835.53 A109.6,109.6 0 0 0 461.13,835.78 Z" fill="#d6d6d6"/>
<path d="M449.87,836.74 A115.3,115.3 0 0 1 458.48,830.71 L461.53,835.53 A109.6,109.6 0 0 0 453.35,841.25 Z" fill="none" stroke="#222" stroke-width="0.5"/>
<path d="M458.68,827.17 A118.2,118.2 0 0 1 468.76,821.68" fill="none" stroke="#7A4AC0" stroke-width="1.2"/>
<path d="M460.19,829.65 A115.3,115.3 0 0 1 461.06,829.12 L463.99,834.01 A109.6,109.6 0 0 0 463.15,834.52 Z" fill="#b0b0b0"/>
<path d="M461.06,829.12 A115.3,115.3 0 0 1 461.84,828.66 L464.72,833.58 A109.6,109.6 0 0 0 463.99,834.01 Z" fill="#000000"/>
<path d="M461.84,828.66 A115.3,115.3 0 0 1 462.29,828.40 L465.15,833.33 A109.6,109.6 0 0 0 464.72,833.58 Z" fill="#4f7fcf"/>
<path d="M462.29,828.40 A115.3,115.3 0 0 1 462.78,828.11 L465.62,833.06 A109.6,109.6 0 0 0 465.15,833.33 Z" fill="#ee1c24"/>
<path d="M462.78,828.11 A115.3,115.3 0 0 1 463.28,827.83 L466.09,832.79 A109.6,109.6 0 0 0 465.62,833.06 Z" fill="#ee1c24"/>
<path d="M463.28,827.83 A115.3,115.3 0 0 1 463.72,827.58 L466.51,832.55 A109.6,109.6 0 0 0 466.09,832.79 Z" fill="#d6d6d6"/>
<path d="M463.72,827.58 A115.3,115.3 0 0 1 464.41,827.20 L467.17,832.18 A109.6,109.6 0 0 0 466.51,832.55 Z" fill="#d6d6d6"/>
<path d="M464.41,827.20 A115.3,115.3 0 0 1 465.33,826.69 L468.04,831.71 A109.6,109.6 0 0 0 467.17,832.18 Z" fill="#000000"/>
<path d="M465.33,826.69 A115.3,115.3 0 0 1 465.87,826.40 L468.56,831.43 A109.6,109.6 0 0 0 468.04,831.71 Z" fill="#d6d6d6"/>
<path d="M465.87,826.40 A115.3,115.3 0 0 1 466.70,825.96 L469.35,831.01 A109.6,109.6 0 0 0 468.56,831.43 Z" fill="#000000"/>
<path d="M466.70,825.96 A115.3,115.3 0 0 1 467.90,825.35 L470.48,830.43 A109.6,109.6 0 0 0 469.35,831.01 Z" fill="#d6d6d6"/>
<path d="M467.90,825.35 A115.3,115.3 0 0 1 468.52,825.03 L471.08,830.12 A109.6,109.6 0 0 0 470.48,830.43 Z" fill="#b0b0b0"/>
<path d="M468.52,825.03 A115.3,115.3 0 0 1 468.96,824.81 L471.50,829.92 A109.6,109.6 0 0 0 471.08,830.12 Z" fill="#b0b0b0"/>
<path d="M468.96,824.81 A115.3,115.3 0 0 1 469.48,824.56 L471.98,829.68 A109.6,109.6 0 0 0 471.50,829.92 Z" fill="#d6d6d6"/>
<path d="M469.48,824.56 A115.3,115.3 0 0 1 470.02,824.29 L472.50,829.42 A109.6,109.6 0 0 0 471.98,829.68 Z" fill="#ffffff"/>
<path d="M460.19,829.65 A115.3,115.3 0 0 1 470.02,824.29 L472.50,829.42 A109.6,109.6 0 0 0 463.15,834.52 Z" fill="none" stroke="#222" stroke-width="0.5"/>
<path d="M470.63,820.80 A118.2,118.2 0 0 1 503.86,811.03" fill="none" stroke="#E87060" stroke-width="1.2"/>
<path d="M471.84,823.43 A115.3,115.3 0 0 1 472.26,823.24 L474.63,828.42 A109.6,109.6 0 0 0 474.23,828.60 Z" fill="#b0b0b0"/>
<path d="M472.26,823.24 A115.3,115.3 0 0 1 473.41,822.72 L475.72,827.93 A109.6,109.6 0 0 0 474.63,828.42 Z" fill="#7a7a7a"/>
<path d="M473.41,822.72 A115.3,115.3 0 0 1 473.88,822.51 L476.17,827.73 A109.6,109.6 0 0 0 475.72,827.93 Z" fill="#7a7a7a"/>
<path d="M473.88,822.51 A115.3,115.3 0 0 1 474.58,822.21 L476.83,827.45 A109.6,109.6 0 0 0 476.17,827.73 Z" fill="#000000"/>
<path d="M474.58,822.21 A115.3,115.3 0 0 1 475.58,821.78 L477.79,827.04 A109.6,109.6 0 0 0 476.83,827.45 Z" fill="#b0b0b0"/>
<path d="M475.58,821.78 A115.3,115.3 0 0 1 476.34,821.47 L478.51,826.74 A109.6,109.6 0 0 0 477.79,827.04 Z" fill="#d6d6d6"/>
<path d="M476.34,821.47 A115.3,115.3 0 0 1 477.19,821.12 L479.32,826.41 A109.6,109.6 0 0 0 478.51,826.74 Z" fill="#d6d6d6"/>
<path d="M477.19,821.12 A115.3,115.3 0 0 1 477.74,820.90 L479.84,826.20 A109.6,109.6 0 0 0 479.32,826.41 Z" fill="#000000"/>
<path d="M477.74,820.90 A115.3,115.3 0 0 1 478.26,820.70 L480.33,826.01 A109.6,109.6 0 0 0 479.84,826.20 Z" fill="#d6d6d6"/>
<path d="M478.26,820.70 A115.3,115.3 0 0 1 478.95,820.43 L480.99,825.75 A109.6,109.6 0 0 0 480.33,826.01 Z" fill="#7a7a7a"/>
<path d="M478.95,820.43 A115.3,115.3 0 0 1 479.80,820.11 L481.80,825.45 A109.6,109.6 0 0 0 480.99,825.75 Z" fill="#ffffff"/>
<path d="M479.80,820.11 A115.3,115.3 0 0 1 480.69,819.78 L482.64,825.14 A109.6,109.6 0 0 0 481.80,825.45 Z" fill="#000000"/>
<path d="M480.69,819.78 A115.3,115.3 0 0 1 481.34,819.55 L483.26,824.91 A109.6,109.6 0 0 0 482.64,825.14 Z" fill="#7a7a7a"/>
<path d="M481.34,819.55 A115.3,115.3 0 0 1 482.37,819.18 L484.24,824.57 A109.6,109.6 0 0 0 483.26,824.91 Z" fill="#ffffff"/>
<path d="M482.37,819.18 A115.3,115.3 0 0 1 483.60,818.76 L485.41,824.17 A109.6,109.6 0 0 0 484.24,824.57 Z" fill="#d6d6d6"/>
<path d="M483.60,818.76 A115.3,115.3 0 0 1 484.14,818.58 L485.92,824.00 A109.6,109.6 0 0 0 485.41,824.17 Z" fill="#ee1c24"/>
<path d="M484.14,818.58 A115.3,115.3 0 0 1 484.94,818.33 L486.68,823.75 A109.6,109.6 0 0 0 485.92,824.00 Z" fill="#7a7a7a"/>
<path d="M484.94,818.33 A115.3,115.3 0 0 1 485.84,818.04 L487.54,823.48 A109.6,109.6 0 0 0 486.68,823.75 Z" fill="#b0b0b0"/>
<path d="M485.84,818.04 A115.3,115.3 0 0 1 486.47,817.85 L488.13,823.30 A109.6,109.6 0 0 0 487.54,823.48 Z" fill="#b0b0b0"/>
<path d="M486.47,817.85 A115.3,115.3 0 0 1 487.23,817.61 L488.86,823.08 A109.6,109.6 0 0 0 488.13,823.30 Z" fill="#000000"/>
<path d="M487.23,817.61 A115.3,115.3 0 0 1 487.86,817.43 L489.45,822.90 A109.6,109.6 0 0 0 488.86,823.08 Z" fill="#ffffff"/>
<path d="M487.86,817.43 A115.3,115.3 0 0 1 489.08,817.08 L490.62,822.57 A109.6,109.6 0 0 0 489.45,822.90 Z" fill="#000000"/>
<path d="M489.08,817.08 A115.3,115.3 0 0 1 490.03,816.82 L491.53,822.32 A109.6,109.6 0 0 0 490.62,822.57 Z" fill="#b0b0b0"/>
<path d="M490.03,816.82 A115.3,115.3 0 0 1 491.08,816.54 L492.52,822.05 A109.6,109.6 0 0 0 491.53,822.32 Z" fill="#ffffff"/>
<path d="M491.08,816.54 A115.3,115.3 0 0 1 492.38,816.21 L493.76,821.74 A109.6,109.6 0 0 0 492.52,822.05 Z" fill="#d6d6d6"/>
<path d="M492.38,816.21 A115.3,115.3 0 0 1 493.34,815.97 L494.67,821.52 A109.6,109.6 0 0 0 493.76,821.74 Z" fill="#b0b0b0"/>
<path d="M493.34,815.97 A115.3,115.3 0 0 1 494.40,815.72 L495.68,821.28 A109.6,109.6 0 0 0 494.67,821.52 Z" fill="#b0b0b0"/>
<path d="M494.40,815.72 A115.3,115.3 0 0 1 495.05,815.58 L496.30,821.14 A109.6,109.6 0 0 0 495.68,821.28 Z" fill="#d6d6d6"/>
<path d="M495.05,815.58 A115.3,115.3 0 0 1 495.57,815.46 L496.78,821.03 A109.6,109.6 0 0 0 496.30,821.14 Z" fill="#7a7a7a"/>
<path d="M495.57,815.46 A115.3,115.3 0 0 1 496.11,815.34 L497.30,820.92 A109.6,109.6 0 0 0 496.78,821.03 Z" fill="#000000"/>
<path d="M496.11,815.34 A115.3,115.3 0 0 1 496.59,815.24 L497.76,820.82 A109.6,109.6 0 0 0 497.30,820.92 Z" fill="#7a7a7a"/>
<path d="M496.59,815.24 A115.3,115.3 0 0 1 497.92,814.97 L499.02,820.57 A109.6,109.6 0 0 0 497.76,820.82 Z" fill="#b0b0b0"/>
<path d="M497.92,814.97 A115.3,115.3 0 0 1 498.83,814.80 L499.88,820.40 A109.6,109.6 0 0 0 499.02,820.57 Z" fill="#d6d6d6"/>
<path d="M498.83,814.80 A115.3,115.3 0 0 1 499.47,814.68 L500.50,820.29 A109.6,109.6 0 0 0 499.88,820.40 Z" fill="#7a7a7a"/>
<path d="M499.47,814.68 A115.3,115.3 0 0 1 500.10,814.57 L501.09,820.18 A109.6,109.6 0 0 0 500.50,820.29 Z" fill="#d6d6d6"/>
<path d="M500.10,814.57 A115.3,115.3 0 0 1 500.87,814.43 L501.82,820.05 A109.6,109.6 0 0 0 501.09,820.18 Z" fill="#d6d6d6"/>
<path d="M500.87,814.43 A115.3,115.3 0 0 1 501.80,814.28 L502.71,819.90 A109.6,109.6 0 0 0 501.82,820.05 Z" fill="#b0b0b0"/>
<path d="M501.80,814.28 A115.3,115.3 0 0 1 503.11,814.07 L503.96,819.71 A109.6,109.6 0 0 0 502.71,819.90 Z" fill="#ffffff"/>
<path d="M503.11,814.07 A115.3,115.3 0 0 1 504.01,813.94 L504.81,819.59 A109.6,109.6 0 0 0 503.96,819.71 Z" fill="#d6d6d6"/>
<path d="M504.01,813.94 A115.3,115.3 0 0 1 504.27,813.91 L505.05,819.55 A109.6,109.6 0 0 0 504.81,819.59 Z" fill="#000000"/>
<path d="M471.84,823.43 A115.3,115.3 0 0 1 504.27,813.91 L505.05,819.55 A109.6,109.6 0 0 0 474.23,828.60 Z" fill="none" stroke="#222" stroke-width="0.5"/>
<path d="M505.91,810.77 A118.2,118.2 0 0 1 519.17,809.90" fill="none" stroke="#D88C4C" stroke-width="1.2"/>
<path d="M506.26,813.65 A115.3,115.3 0 0 1 507.00,813.56 L507.65,819.22 A109.6,109.6 0 0 0 506.95,819.30 Z" fill="#ffffff"/>
<path d="M507.00,813.56 A115.3,115.3 0 0 1 508.31,813.41 L508.90,819.08 A109.6,109.6 0 0 0 507.65,819.22 Z" fill="#ffffff"/>
<path d="M508.31,813.41 A115.3,115.3 0 0 1 508.88,813.36 L509.44,819.03 A109.6,109.6 0 0 0 508.90,819.08 Z" fill="#ee1c24"/>
<path d="M508.88,813.36 A115.3,115.3 0 0 1 509.44,813.30 L509.97,818.98 A109.6,109.6 0 0 0 509.44,819.03 Z" fill="#ee1c24"/>
<path d="M509.44,813.30 A115.3,115.3 0 0 1 509.93,813.26 L510.44,818.94 A109.6,109.6 0 0 0 509.97,818.98 Z" fill="#000000"/>
<path d="M509.93,813.26 A115.3,115.3 0 0 1 511.19,813.15 L511.64,818.83 A109.6,109.6 0 0 0 510.44,818.94 Z" fill="#b0b0b0"/>
<path d="M511.19,813.15 A115.3,115.3 0 0 1 512.09,813.09 L512.49,818.77 A109.6,109.6 0 0 0 511.64,818.83 Z" fill="#b0b0b0"/>
<path d="M512.09,813.09 A115.3,115.3 0 0 1 513.40,813.00 L513.73,818.69 A109.6,109.6 0 0 0 512.49,818.77 Z" fill="#ffffff"/>
<path d="M513.40,813.00 A115.3,115.3 0 0 1 513.85,812.97 L514.17,818.67 A109.6,109.6 0 0 0 513.73,818.69 Z" fill="#b0b0b0"/>
<path d="M513.85,812.97 A115.3,115.3 0 0 1 514.61,812.94 L514.88,818.63 A109.6,109.6 0 0 0 514.17,818.67 Z" fill="#b0b0b0"/>
<path d="M514.61,812.94 A115.3,115.3 0 0 1 515.60,812.89 L515.83,818.59 A109.6,109.6 0 0 0 514.88,818.63 Z" fill="#d6d6d6"/>
<path d="M515.60,812.89 A115.3,115.3 0 0 1 516.84,812.85 L517.00,818.55 A109.6,109.6 0 0 0 515.83,818.59 Z" fill="#d6d6d6"/>
<path d="M516.84,812.85 A115.3,115.3 0 0 1 517.91,812.82 L518.02,818.52 A109.6,109.6 0 0 0 517.00,818.55 Z" fill="#7a7a7a"/>
<path d="M517.91,812.82 A115.3,115.3 0 0 1 518.95,812.81 L519.01,818.51 A109.6,109.6 0 0 0 518.02,818.52 Z" fill="#b0b0b0"/>
<path d="M518.95,812.81 A115.3,115.3 0 0 1 519.19,812.80 L519.24,818.50 A109.6,109.6 0 0 0 519.01,818.51 Z" fill="#d6d6d6"/>
<path d="M506.26,813.65 A115.3,115.3 0 0 1 519.19,812.80 L519.24,818.50 A109.6,109.6 0 0 0 506.95,819.30 Z" fill="none" stroke="#222" stroke-width="0.5"/>
<text transform="translate(552.90,808.40) rotate(-74.72)" x="0" y="3.1" font-size="8.6" text-anchor="middle" fill="#222" stroke="#222" stroke-width="0.2">1</text>
<text transform="translate(606.00,835.20) rotate(-47.28)" x="0" y="3.1" font-size="8.6" text-anchor="middle" fill="#222" stroke="#222" stroke-width="0.2">2</text>
<text transform="translate(637.40,877.90) rotate(-23.19)" x="0" y="3.1" font-size="8.6" text-anchor="middle" fill="#222" stroke="#222" stroke-width="0.2">3</text>
<text transform="translate(647.80,923.80) rotate(-1.93)" x="0" y="3.1" font-size="8.6" text-anchor="middle" fill="#222" stroke="#222" stroke-width="0.2">4</text>
<text transform="translate(641.50,968.40) rotate(18.38)" x="0" y="3.1" font-size="8.6" text-anchor="middle" fill="#222" stroke="#222" stroke-width="0.2">5</text>
<text transform="translate(619.70,1006.30) rotate(38.16)" x="0" y="3.1" font-size="8.6" text-anchor="middle" fill="#222" stroke="#222" stroke-width="0.2">6</text>
<text transform="translate(589.80,1032.40) rotate(56.28)" x="0" y="3.1" font-size="8.6" text-anchor="middle" fill="#222" stroke="#222" stroke-width="0.2">7</text>
<text transform="translate(554.30,1047.60) rotate(74.07)" x="0" y="3.1" font-size="8.6" text-anchor="middle" fill="#222" stroke="#222" stroke-width="0.2">8</text>
<text transform="translate(508.00,1050.60) rotate(-84.31)" x="0" y="3.1" font-size="8.6" text-anchor="middle" fill="#222" stroke="#222" stroke-width="0.2">9</text>
<text transform="translate(475.10,1046.70) rotate(-69.18)" x="0" y="3.1" font-size="8.6" text-anchor="middle" fill="#222" stroke="#222" stroke-width="0.2">10</text>
<text transform="translate(444.00,1031.10) rotate(-53.51)" x="0" y="3.1" font-size="8.6" text-anchor="middle" fill="#222" stroke="#222" stroke-width="0.2">11</text>
<text transform="translate(419.30,1008.10) rotate(-38.41)" x="0" y="3.1" font-size="8.6" text-anchor="middle" fill="#222" stroke="#222" stroke-width="0.2">12</text>
<text transform="translate(401.70,981.00) rotate(-24.06)" x="0" y="3.1" font-size="8.6" text-anchor="middle" fill="#222" stroke="#222" stroke-width="0.2">13</text>
<text transform="translate(392.20,954.50) rotate(-11.65)" x="0" y="3.1" font-size="8.6" text-anchor="middle" fill="#222" stroke="#222" stroke-width="0.2">14</text>
<text transform="translate(389.80,928.20) rotate(-0.04)" x="0" y="3.1" font-size="8.6" text-anchor="middle" fill="#222" stroke="#222" stroke-width="0.2">15</text>
<text transform="translate(392.20,903.40) rotate(10.92)" x="0" y="3.1" font-size="8.6" text-anchor="middle" fill="#222" stroke="#222" stroke-width="0.2">16</text>
<text transform="translate(399.20,881.30) rotate(21.15)" x="0" y="3.1" font-size="8.6" text-anchor="middle" fill="#222" stroke="#222" stroke-width="0.2">17</text>
<text transform="translate(408.40,862.30) rotate(30.48)" x="0" y="3.1" font-size="8.6" text-anchor="middle" fill="#222" stroke="#222" stroke-width="0.2">18</text>
<text transform="translate(419.60,847.40) rotate(38.74)" x="0" y="3.1" font-size="8.6" text-anchor="middle" fill="#222" stroke="#222" stroke-width="0.2">19</text>
<text transform="translate(430.90,835.20) rotate(46.13)" x="0" y="3.1" font-size="8.6" text-anchor="middle" fill="#222" stroke="#222" stroke-width="0.2">20</text>
<text transform="translate(442.70,824.90) rotate(53.09)" x="0" y="3.1" font-size="8.6" text-anchor="middle" fill="#222" stroke="#222" stroke-width="0.2">21</text>
<text transform="translate(455.00,818.40) rotate(59.27)" x="0" y="3.1" font-size="8.6" text-anchor="middle" fill="#222" stroke="#222" stroke-width="0.2">22</text>
<text transform="translate(479.90,809.20) rotate(71.28)" x="0" y="3.1" font-size="8.6" text-anchor="middle" fill="#222" stroke="#222" stroke-width="0.2">X</text>
<text transform="translate(507.50,804.10) rotate(84.15)" x="0" y="3.1" font-size="8.6" text-anchor="middle" fill="#222" stroke="#222" stroke-width="0.2">Y</text>
<line x1="432.9" y1="990.4" x2="437.4" y2="987.1" stroke="#222" stroke-width="0.7"/>
<text transform="translate(440.0,985.2) rotate(-43)" x="0" y="0" font-size="9.0" text-anchor="start" fill="#222" stroke="#222" stroke-width="0.2">ANKRD13A</text>
<line x1="441.7" y1="1001.0" x2="446.0" y2="997.6" stroke="#222" stroke-width="0.7"/>
<text transform="translate(452.6,995.9) rotate(-41)" x="0" y="0" font-size="9.0" text-anchor="start" fill="#222" stroke="#222" stroke-width="0.2">LRRK2</text>
</svg></body></html>
